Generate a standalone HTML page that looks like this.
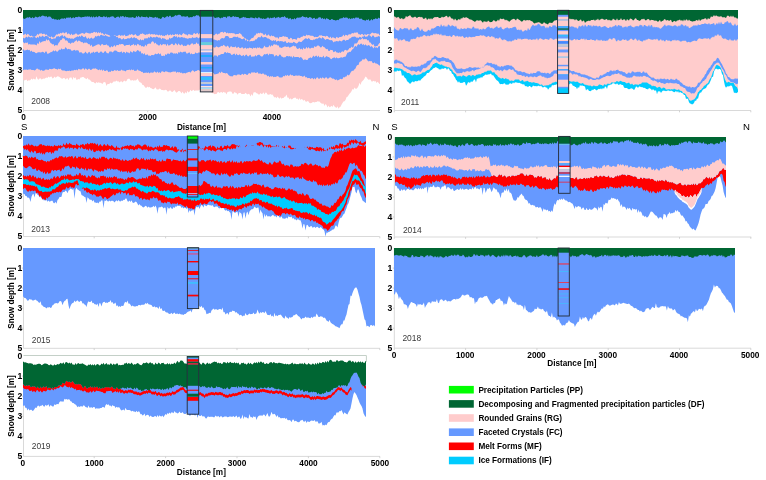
<!DOCTYPE html>
<html><head><meta charset="utf-8"><style>
html,body{margin:0;padding:0;background:#fff;width:766px;height:480px;overflow:hidden}
svg{display:block;will-change:transform}
</style></head><body>
<svg width="766" height="480" viewBox="0 0 766 480">
<rect width="766" height="480" fill="#fff"/>
<line x1="23.5" y1="10.0" x2="23.5" y2="110.5" stroke="#d9d9d9" stroke-width="1"/>
<line x1="21.9" y1="30.1" x2="23.5" y2="30.1" stroke="#c8c8c8" stroke-width="0.8"/>
<line x1="21.9" y1="50.2" x2="23.5" y2="50.2" stroke="#c8c8c8" stroke-width="0.8"/>
<line x1="21.9" y1="70.3" x2="23.5" y2="70.3" stroke="#c8c8c8" stroke-width="0.8"/>
<line x1="21.9" y1="90.4" x2="23.5" y2="90.4" stroke="#c8c8c8" stroke-width="0.8"/>
<line x1="394.3" y1="10.0" x2="394.3" y2="110.5" stroke="#d9d9d9" stroke-width="1"/>
<line x1="392.7" y1="30.1" x2="394.3" y2="30.1" stroke="#c8c8c8" stroke-width="0.8"/>
<line x1="392.7" y1="50.2" x2="394.3" y2="50.2" stroke="#c8c8c8" stroke-width="0.8"/>
<line x1="392.7" y1="70.3" x2="394.3" y2="70.3" stroke="#c8c8c8" stroke-width="0.8"/>
<line x1="392.7" y1="90.4" x2="394.3" y2="90.4" stroke="#c8c8c8" stroke-width="0.8"/>
<line x1="23.5" y1="136.0" x2="23.5" y2="236.5" stroke="#d9d9d9" stroke-width="1"/>
<line x1="21.9" y1="156.1" x2="23.5" y2="156.1" stroke="#c8c8c8" stroke-width="0.8"/>
<line x1="21.9" y1="176.2" x2="23.5" y2="176.2" stroke="#c8c8c8" stroke-width="0.8"/>
<line x1="21.9" y1="196.3" x2="23.5" y2="196.3" stroke="#c8c8c8" stroke-width="0.8"/>
<line x1="21.9" y1="216.4" x2="23.5" y2="216.4" stroke="#c8c8c8" stroke-width="0.8"/>
<line x1="394.3" y1="137.0" x2="394.3" y2="237.0" stroke="#d9d9d9" stroke-width="1"/>
<line x1="392.7" y1="157.0" x2="394.3" y2="157.0" stroke="#c8c8c8" stroke-width="0.8"/>
<line x1="392.7" y1="177.0" x2="394.3" y2="177.0" stroke="#c8c8c8" stroke-width="0.8"/>
<line x1="392.7" y1="197.0" x2="394.3" y2="197.0" stroke="#c8c8c8" stroke-width="0.8"/>
<line x1="392.7" y1="217.0" x2="394.3" y2="217.0" stroke="#c8c8c8" stroke-width="0.8"/>
<line x1="23.5" y1="248.0" x2="23.5" y2="348.3" stroke="#d9d9d9" stroke-width="1"/>
<line x1="21.9" y1="268.1" x2="23.5" y2="268.1" stroke="#c8c8c8" stroke-width="0.8"/>
<line x1="21.9" y1="288.1" x2="23.5" y2="288.1" stroke="#c8c8c8" stroke-width="0.8"/>
<line x1="21.9" y1="308.2" x2="23.5" y2="308.2" stroke="#c8c8c8" stroke-width="0.8"/>
<line x1="21.9" y1="328.2" x2="23.5" y2="328.2" stroke="#c8c8c8" stroke-width="0.8"/>
<line x1="394.3" y1="248.0" x2="394.3" y2="348.3" stroke="#d9d9d9" stroke-width="1"/>
<line x1="392.7" y1="268.1" x2="394.3" y2="268.1" stroke="#c8c8c8" stroke-width="0.8"/>
<line x1="392.7" y1="288.1" x2="394.3" y2="288.1" stroke="#c8c8c8" stroke-width="0.8"/>
<line x1="392.7" y1="308.2" x2="394.3" y2="308.2" stroke="#c8c8c8" stroke-width="0.8"/>
<line x1="392.7" y1="328.2" x2="394.3" y2="328.2" stroke="#c8c8c8" stroke-width="0.8"/>
<line x1="23.5" y1="356.0" x2="23.5" y2="456.5" stroke="#d9d9d9" stroke-width="1"/>
<line x1="21.9" y1="376.1" x2="23.5" y2="376.1" stroke="#c8c8c8" stroke-width="0.8"/>
<line x1="21.9" y1="396.2" x2="23.5" y2="396.2" stroke="#c8c8c8" stroke-width="0.8"/>
<line x1="21.9" y1="416.3" x2="23.5" y2="416.3" stroke="#c8c8c8" stroke-width="0.8"/>
<line x1="21.9" y1="436.4" x2="23.5" y2="436.4" stroke="#c8c8c8" stroke-width="0.8"/>
<line x1="23.5" y1="110.5" x2="380.0" y2="110.5" stroke="#d9d9d9" stroke-width="1"/>
<line x1="23.5" y1="110.5" x2="23.5" y2="112.3" stroke="#c8c8c8" stroke-width="0.8"/>
<line x1="147.7" y1="110.5" x2="147.7" y2="112.3" stroke="#c8c8c8" stroke-width="0.8"/>
<line x1="271.9" y1="110.5" x2="271.9" y2="112.3" stroke="#c8c8c8" stroke-width="0.8"/>
<line x1="394.3" y1="110.5" x2="750.8" y2="110.5" stroke="#d9d9d9" stroke-width="1"/>
<line x1="394.3" y1="110.5" x2="394.3" y2="112.3" stroke="#c8c8c8" stroke-width="0.8"/>
<line x1="465.6" y1="110.5" x2="465.6" y2="112.3" stroke="#c8c8c8" stroke-width="0.8"/>
<line x1="536.9" y1="110.5" x2="536.9" y2="112.3" stroke="#c8c8c8" stroke-width="0.8"/>
<line x1="608.2" y1="110.5" x2="608.2" y2="112.3" stroke="#c8c8c8" stroke-width="0.8"/>
<line x1="679.5" y1="110.5" x2="679.5" y2="112.3" stroke="#c8c8c8" stroke-width="0.8"/>
<line x1="750.8" y1="110.5" x2="750.8" y2="112.3" stroke="#c8c8c8" stroke-width="0.8"/>
<line x1="23.5" y1="236.5" x2="379.6" y2="236.5" stroke="#d9d9d9" stroke-width="1"/>
<line x1="94.2" y1="236.5" x2="94.2" y2="238.3" stroke="#c8c8c8" stroke-width="0.8"/>
<line x1="165.6" y1="236.5" x2="165.6" y2="238.3" stroke="#c8c8c8" stroke-width="0.8"/>
<line x1="237.0" y1="236.5" x2="237.0" y2="238.3" stroke="#c8c8c8" stroke-width="0.8"/>
<line x1="308.4" y1="236.5" x2="308.4" y2="238.3" stroke="#c8c8c8" stroke-width="0.8"/>
<line x1="379.8" y1="236.5" x2="379.8" y2="238.3" stroke="#c8c8c8" stroke-width="0.8"/>
<line x1="394.3" y1="237.0" x2="751.3" y2="237.0" stroke="#d9d9d9" stroke-width="1"/>
<line x1="394.3" y1="237.0" x2="394.3" y2="238.8" stroke="#c8c8c8" stroke-width="0.8"/>
<line x1="465.6" y1="237.0" x2="465.6" y2="238.8" stroke="#c8c8c8" stroke-width="0.8"/>
<line x1="536.9" y1="237.0" x2="536.9" y2="238.8" stroke="#c8c8c8" stroke-width="0.8"/>
<line x1="608.2" y1="237.0" x2="608.2" y2="238.8" stroke="#c8c8c8" stroke-width="0.8"/>
<line x1="679.5" y1="237.0" x2="679.5" y2="238.8" stroke="#c8c8c8" stroke-width="0.8"/>
<line x1="750.8" y1="237.0" x2="750.8" y2="238.8" stroke="#c8c8c8" stroke-width="0.8"/>
<line x1="23.5" y1="348.3" x2="380.0" y2="348.3" stroke="#d9d9d9" stroke-width="1"/>
<line x1="94.2" y1="348.3" x2="94.2" y2="350.1" stroke="#c8c8c8" stroke-width="0.8"/>
<line x1="165.6" y1="348.3" x2="165.6" y2="350.1" stroke="#c8c8c8" stroke-width="0.8"/>
<line x1="237.0" y1="348.3" x2="237.0" y2="350.1" stroke="#c8c8c8" stroke-width="0.8"/>
<line x1="308.4" y1="348.3" x2="308.4" y2="350.1" stroke="#c8c8c8" stroke-width="0.8"/>
<line x1="379.8" y1="348.3" x2="379.8" y2="350.1" stroke="#c8c8c8" stroke-width="0.8"/>
<line x1="394.3" y1="348.2" x2="751.0" y2="348.2" stroke="#d9d9d9" stroke-width="1"/>
<line x1="394.3" y1="348.2" x2="394.3" y2="350.0" stroke="#c8c8c8" stroke-width="0.8"/>
<line x1="465.6" y1="348.2" x2="465.6" y2="350.0" stroke="#c8c8c8" stroke-width="0.8"/>
<line x1="536.9" y1="348.2" x2="536.9" y2="350.0" stroke="#c8c8c8" stroke-width="0.8"/>
<line x1="608.2" y1="348.2" x2="608.2" y2="350.0" stroke="#c8c8c8" stroke-width="0.8"/>
<line x1="679.5" y1="348.2" x2="679.5" y2="350.0" stroke="#c8c8c8" stroke-width="0.8"/>
<line x1="750.8" y1="348.2" x2="750.8" y2="350.0" stroke="#c8c8c8" stroke-width="0.8"/>
<line x1="23.5" y1="456.4" x2="380.0" y2="456.4" stroke="#d9d9d9" stroke-width="1"/>
<line x1="94.2" y1="456.4" x2="94.2" y2="458.2" stroke="#c8c8c8" stroke-width="0.8"/>
<line x1="165.6" y1="456.4" x2="165.6" y2="458.2" stroke="#c8c8c8" stroke-width="0.8"/>
<line x1="237.0" y1="456.4" x2="237.0" y2="458.2" stroke="#c8c8c8" stroke-width="0.8"/>
<line x1="308.4" y1="456.4" x2="308.4" y2="458.2" stroke="#c8c8c8" stroke-width="0.8"/>
<line x1="379.8" y1="456.4" x2="379.8" y2="458.2" stroke="#c8c8c8" stroke-width="0.8"/>
<defs><clipPath id="c08"><rect x="23" y="10" width="357" height="102"/></clipPath><clipPath id="c11"><rect x="394" y="10" width="344" height="102"/></clipPath><clipPath id="c13"><rect x="23" y="136" width="343" height="102"/></clipPath><clipPath id="c14"><rect x="395" y="137" width="331" height="102"/></clipPath><clipPath id="c15"><rect x="23" y="248" width="352" height="102"/></clipPath><clipPath id="c18"><rect x="394" y="248" width="341" height="102"/></clipPath><clipPath id="c19"><rect x="23" y="356" width="343" height="102"/></clipPath></defs>
<g clip-path="url(#c08)">
<path fill="#ffcccc" d="M22.5,80.4 23.5,79.7 24.5,80.4 25.5,79.9 26.5,79.5 27.5,81.3 28.5,80.2 29.5,80.6 30.5,79.9 31.5,78.6 32.5,79.7 33.5,78.4 34.5,79.3 35.5,79.5 36.5,76.3 37.5,78.9 38.5,79.7 39.5,78.5 40.5,78.3 41.5,79.6 42.5,79.1 43.5,78.6 44.5,78.7 45.5,78.1 46.5,77.5 47.5,78 48.5,76.5 49.5,77.6 50.5,76.8 51.5,76.6 52.5,78.5 53.5,77.9 54.5,76.6 55.5,77.8 56.5,76.9 57.5,76.3 58.5,76.6 59.5,77.1 60.5,77.8 61.5,78.6 62.5,78.8 63.5,78 64.5,78 65.5,79.6 66.5,78.4 67.5,78.1 68.5,80.3 69.5,77.7 70.5,77.4 71.5,77.6 72.5,80 73.5,76.8 74.5,78.4 75.5,77.2 76.5,80 77.5,79.4 78.5,79 79.5,79.5 80.5,77.4 81.5,77.6 82.5,77.1 83.5,77 84.5,78.1 85.5,78.5 86.5,79.3 87.5,77.8 88.5,79.5 89.5,79.5 90.5,80.6 91.5,81.8 92.5,82 93.5,82.1 94.5,82.9 95.5,83.6 96.5,81.9 97.5,83.1 98.5,82.2 99.5,82.8 100.5,82.8 101.5,83.2 102.5,84.1 103.5,82.2 104.5,82 105.5,82.6 106.5,85.9 107.5,83.9 108.5,83.9 109.5,83.8 110.5,82.6 111.5,83.4 112.5,82.8 113.5,81.6 114.5,81.4 115.5,81.4 116.5,80.6 117.5,81.6 118.5,81.3 119.5,82.5 120.5,81.4 121.5,81.2 122.5,82.6 123.5,81.2 124.5,80.4 125.5,81.4 126.5,80.9 127.5,79 128.5,78.7 129.5,78.8 130.5,80.4 131.5,80.6 132.5,79.9 133.5,80.8 134.5,80.2 135.5,80.6 136.5,80 137.5,78.6 138.5,80.6 139.5,82.1 140.5,82.6 141.5,82.9 142.5,84.9 143.5,84.9 144.5,86.4 145.5,87.7 146.5,87.8 147.5,86.4 148.5,87.5 149.5,86.7 150.5,88.1 151.5,88.2 152.5,88.9 153.5,89.2 154.5,88.4 155.5,87.3 156.5,89.3 157.5,89.6 158.5,89.5 159.5,88.4 160.5,88.9 161.5,90.1 162.5,89.9 163.5,90.2 164.5,90.2 165.5,89.7 166.5,90 167.5,91.4 168.5,91.5 169.5,90.4 170.5,90.6 171.5,91.8 172.5,91.9 173.5,91.1 174.5,90 175.5,91.8 176.5,92.8 177.5,91.9 178.5,91.1 179.5,91.1 180.5,91.8 181.5,93.6 182.5,91.6 183.5,93.3 184.5,93.7 185.5,92 186.5,93.4 187.5,90.7 188.5,92.4 189.5,91.8 190.5,89.8 191.5,91.2 192.5,90.5 193.5,89.8 194.5,91 195.5,90.5 196.5,90.4 197.5,90.6 198.5,90.6 199.5,89.9 200.5,88.6 201.5,89.6 202.5,90.2 203.5,88.9 204.5,89.4 205.5,88.7 206.5,89.9 207.5,89.4 208.5,92.2 209.5,91.3 210.5,91.5 211.5,92.5 212.5,93.3 213.5,93.2 214.5,94.3 215.5,94.1 216.5,94.1 217.5,92.2 218.5,92 219.5,93.1 220.5,92.3 221.5,92.1 222.5,92.9 223.5,91.8 224.5,92.6 225.5,92.4 226.5,94.5 227.5,92 228.5,91.8 229.5,91.5 230.5,91.6 231.5,91.7 232.5,93.8 233.5,93.7 234.5,92.1 235.5,92.7 236.5,93 237.5,94.7 238.5,93.2 239.5,93 240.5,92.8 241.5,94.1 242.5,94.1 243.5,94 244.5,94.1 245.5,92.7 246.5,93.8 247.5,94.4 248.5,93.8 249.5,94.2 250.5,96.6 251.5,94.1 252.5,95.9 253.5,92.6 254.5,92.3 255.5,92.2 256.5,93.2 257.5,93.5 258.5,94.6 259.5,94.5 260.5,93 261.5,94 262.5,93.8 263.5,92.3 264.5,94.4 265.5,92.6 266.5,92.8 267.5,94.6 268.5,94.8 269.5,94.6 270.5,94.1 271.5,94.7 272.5,94.5 273.5,96.3 274.5,97.6 275.5,97 276.5,98.2 277.5,96.4 278.5,97.8 279.5,98.8 280.5,97.2 281.5,98.7 282.5,98 283.5,98.1 284.5,96.7 285.5,96.5 286.5,94.6 287.5,97.8 288.5,97.4 289.5,99.6 290.5,98.2 291.5,99.4 292.5,98.9 293.5,98 294.5,97.7 295.5,97.4 296.5,98.9 297.5,98.5 298.5,100.1 299.5,98.1 300.5,100 301.5,99 302.5,99.6 303.5,100.7 304.5,99.8 305.5,101.5 306.5,101.7 307.5,101.1 308.5,101.4 309.5,103 310.5,103.3 311.5,103 312.5,102.2 313.5,102.1 314.5,102.5 315.5,101.9 316.5,102 317.5,101.2 318.5,101.5 319.5,101.6 320.5,102.7 321.5,103.4 322.5,103.8 323.5,103.4 324.5,105.9 325.5,104.1 326.5,104.9 327.5,107.5 328.5,105.6 329.5,107.3 330.5,106.7 331.5,105.8 332.5,106.9 333.5,104.8 334.5,106.4 335.5,107.3 336.5,107.9 337.5,106.3 338.5,108.8 339.5,107.2 340.5,106.7 341.5,104.8 342.5,102.9 343.5,101.6 344.5,101.3 345.5,100.1 346.5,97.3 347.5,96.7 348.5,95.2 349.5,93.8 350.5,92.7 351.5,91.3 352.5,89.1 353.5,89.7 354.5,87.6 355.5,88.7 356.5,88.7 357.5,87.7 358.5,86 359.5,82.8 360.5,84.9 361.5,81.9 362.5,81.1 363.5,79.9 364.5,78.5 365.5,76.6 366.5,77.2 367.5,78.7 368.5,79.7 369.5,79.6 370.5,79.4 371.5,81.6 372.5,81.6 373.5,80.8 374.5,81.6 375.5,81 376.5,83.1 377.5,81.7 378.5,82.7 379.5,84 380.5,84 380.5,12 22.5,12Z"/>
<path fill="#6699ff" d="M22.5,70.4 23.5,70 24.5,69.6 25.5,69.8 26.5,69.6 27.5,69.9 28.5,69.5 29.5,69.6 30.5,69.2 31.5,70.1 32.5,69.9 33.5,69.9 34.5,70.5 35.5,70 36.5,68.7 37.5,68.6 38.5,69.4 39.5,69.6 40.5,70.7 41.5,69.8 42.5,70.7 43.5,70.7 44.5,70.4 45.5,69.6 46.5,69.4 47.5,69.8 48.5,70 49.5,68.7 50.5,69 51.5,69.3 52.5,68.9 53.5,68.4 54.5,68.3 55.5,68.9 56.5,69 57.5,69.8 58.5,68.5 59.5,69.3 60.5,68.6 61.5,69.9 62.5,70.5 63.5,70.6 64.5,70.4 65.5,71.1 66.5,71.2 67.5,70.7 68.5,71 69.5,70.4 70.5,71.2 71.5,70.6 72.5,70.5 73.5,70.6 74.5,69.7 75.5,70.2 76.5,69.5 77.5,70.5 78.5,68.8 79.5,69.3 80.5,69.4 81.5,69.6 82.5,68.6 83.5,68.2 84.5,69.9 85.5,68.3 86.5,69 87.5,69.9 88.5,68.7 89.5,68.8 90.5,69.9 91.5,69.7 92.5,68.7 93.5,68.6 94.5,68.8 95.5,68.3 96.5,68.9 97.5,69.5 98.5,70.2 99.5,69.3 100.5,70.6 101.5,69.2 102.5,70.9 103.5,69.4 104.5,71 105.5,70.9 106.5,70.2 107.5,70.5 108.5,72.3 109.5,71.4 110.5,71.9 111.5,70.6 112.5,71.2 113.5,71 114.5,70 115.5,70.5 116.5,70.7 117.5,69.9 118.5,71 119.5,70.7 120.5,70.8 121.5,69.5 122.5,70.5 123.5,70.6 124.5,70.8 125.5,71.5 126.5,70.3 127.5,70 128.5,70 129.5,69.4 130.5,70.4 131.5,69.2 132.5,70.2 133.5,69.5 134.5,70.9 135.5,70.7 136.5,70.8 137.5,69.2 138.5,70.5 139.5,70.7 140.5,70.9 141.5,71.9 142.5,71.8 143.5,73.3 144.5,72.7 145.5,72.7 146.5,72.4 147.5,73.1 148.5,72.2 149.5,73.5 150.5,72.6 151.5,72.4 152.5,72.7 153.5,72.4 154.5,71.3 155.5,72.3 156.5,72.8 157.5,71.6 158.5,73 159.5,72 160.5,73.3 161.5,71.6 162.5,71.3 163.5,71.7 164.5,72.3 165.5,71.3 166.5,71.5 167.5,71.7 168.5,72.3 169.5,72.3 170.5,72.5 171.5,72 172.5,71.7 173.5,71.6 174.5,71.7 175.5,71.3 176.5,72.9 177.5,71.7 178.5,72.6 179.5,72.1 180.5,73 181.5,72.5 182.5,73.4 183.5,73.3 184.5,73 185.5,73.5 186.5,72.7 187.5,72.4 188.5,72 189.5,71.8 190.5,72.7 191.5,71.3 192.5,70.3 193.5,70.8 194.5,72 195.5,70.9 196.5,71.1 197.5,70.2 198.5,70 199.5,70.9 200.5,69.3 201.5,70.4 202.5,71 203.5,70.1 204.5,69.7 205.5,70.7 206.5,69.9 207.5,70.4 208.5,71.9 209.5,71.9 210.5,73.2 211.5,72.5 212.5,73.1 213.5,73 214.5,74.4 215.5,74.3 216.5,73.9 217.5,73.7 218.5,73.6 219.5,71.7 220.5,73.2 221.5,71.4 222.5,72.5 223.5,73 224.5,73.1 225.5,73.4 226.5,73 227.5,73.6 228.5,75 229.5,75.8 230.5,76.3 231.5,76.3 232.5,76.5 233.5,75.3 234.5,74.9 235.5,75.3 236.5,75.4 237.5,74.6 238.5,74.4 239.5,74.4 240.5,75.3 241.5,74.5 242.5,73.7 243.5,75 244.5,73.8 245.5,74 246.5,74.7 247.5,74.9 248.5,73.4 249.5,73.1 250.5,74 251.5,72.3 252.5,72.6 253.5,72.4 254.5,72.3 255.5,73 256.5,72.8 257.5,72 258.5,73.7 259.5,73.4 260.5,73.5 261.5,74.3 262.5,73.5 263.5,73.4 264.5,74.7 265.5,74.4 266.5,75.1 267.5,76.6 268.5,75.4 269.5,77.3 270.5,76.1 271.5,76.7 272.5,76 273.5,77.3 274.5,76.8 275.5,77 276.5,76.5 277.5,76.1 278.5,76.6 279.5,77.4 280.5,77.4 281.5,77.5 282.5,77.3 283.5,75.8 284.5,76.4 285.5,74.9 286.5,76.1 287.5,74.7 288.5,75.9 289.5,75.5 290.5,74.2 291.5,75.5 292.5,74.9 293.5,76 294.5,76.1 295.5,75.4 296.5,75.4 297.5,75.7 298.5,75.6 299.5,75.6 300.5,76 301.5,76 302.5,76.7 303.5,76.4 304.5,75.5 305.5,77.4 306.5,77 307.5,78.2 308.5,77.9 309.5,77.9 310.5,78.9 311.5,78.2 312.5,77.9 313.5,79.4 314.5,78 315.5,79.5 316.5,77.7 317.5,77.3 318.5,78.8 319.5,78.8 320.5,77.6 321.5,78.7 322.5,77.3 323.5,78 324.5,78.8 325.5,77.4 326.5,77.2 327.5,78.7 328.5,78.6 329.5,77.6 330.5,77.3 331.5,77.9 332.5,78.7 333.5,78.4 334.5,79.3 335.5,80.1 336.5,79.3 337.5,80.4 338.5,80.1 339.5,79.6 340.5,78.7 341.5,79.2 342.5,79 343.5,77 344.5,77.4 345.5,76.4 346.5,76.5 347.5,74.6 348.5,75.4 349.5,74.7 350.5,72.7 351.5,71.3 352.5,70.7 353.5,70.7 354.5,69.3 355.5,68.6 356.5,65.9 357.5,65.1 358.5,64.9 359.5,62.1 360.5,61.4 361.5,61 362.5,59.2 363.5,59.6 364.5,59.6 365.5,58.2 366.5,59.1 367.5,60.5 368.5,61.5 369.5,61 370.5,61.2 371.5,61.1 372.5,62.7 373.5,63.2 374.5,62.2 375.5,63.4 376.5,63.4 377.5,64.1 378.5,64.7 379.5,65.7 380.5,64.7 380.5,12 22.5,12Z"/>
<path fill="#ffcccc" d="M22.5,51.1 23.5,49.1 24.5,50.7 25.5,50.2 26.5,50.1 27.5,49.5 28.5,50.2 29.5,49.8 30.5,51.7 31.5,50.5 32.5,52.1 33.5,51.8 34.5,52.1 35.5,52.9 36.5,53.2 37.5,52.5 38.5,52.3 39.5,52.3 40.5,52.6 41.5,52.2 42.5,51.7 43.5,52.1 44.5,53.2 45.5,51.5 46.5,51.4 47.5,54 48.5,53.4 49.5,53.1 50.5,52.2 51.5,51.9 52.5,51.6 53.5,50.2 54.5,51.6 55.5,50.2 56.5,51.6 57.5,51.7 58.5,50.4 59.5,49.4 60.5,50.1 61.5,48.3 62.5,49.5 63.5,49.1 64.5,49.2 65.5,47 66.5,48.2 67.5,49.5 68.5,48.8 69.5,49.2 70.5,49.2 71.5,50.8 72.5,50.7 73.5,50.3 74.5,49.7 75.5,50.8 76.5,50.3 77.5,50.2 78.5,50.4 79.5,52.8 80.5,52.2 81.5,52.3 82.5,53.5 83.5,53.6 84.5,53.1 85.5,51.4 86.5,53.1 87.5,53.8 88.5,52.2 89.5,51.8 90.5,53.9 91.5,52.4 92.5,52.8 93.5,51.5 94.5,53.1 95.5,51.9 96.5,51.8 97.5,51.5 98.5,53 99.5,52.8 100.5,51.5 101.5,51.6 102.5,52.7 103.5,53.1 104.5,51.4 105.5,51.1 106.5,52.7 107.5,53.3 108.5,53.5 109.5,51.6 110.5,51.5 111.5,51.5 112.5,52.4 113.5,51.5 114.5,50.6 115.5,50.6 116.5,50.7 117.5,51.8 118.5,52.1 119.5,52.2 120.5,51.9 121.5,51.2 122.5,53.3 123.5,51.7 124.5,52.1 125.5,53.4 126.5,51.6 127.5,52.6 128.5,52.5 129.5,53.5 130.5,51 131.5,52 132.5,52.8 133.5,50.8 134.5,51.5 135.5,52 136.5,51.3 137.5,50 138.5,50.5 139.5,51.8 140.5,50.9 141.5,53.7 142.5,53 143.5,54.6 144.5,53 145.5,55.2 146.5,54.7 147.5,54.2 148.5,55.7 149.5,55.5 150.5,55.9 151.5,55 152.5,54.9 153.5,55.3 154.5,54.5 155.5,53.4 156.5,54.2 157.5,54 158.5,53 159.5,54.4 160.5,53.3 161.5,56.1 162.5,56 163.5,55.6 164.5,56.3 165.5,54 166.5,55.1 167.5,53.5 168.5,53.6 169.5,54.3 170.5,52.4 171.5,52.6 172.5,52.8 173.5,53.7 174.5,53.2 175.5,53.7 176.5,52.9 177.5,54.3 178.5,51.9 179.5,52.7 180.5,51.4 181.5,52.3 182.5,52.6 183.5,51.7 184.5,51.8 185.5,51.5 186.5,53.5 187.5,53.4 188.5,52.8 189.5,52.2 190.5,54.4 191.5,53.3 192.5,54.2 193.5,53.9 194.5,53.9 195.5,52.3 196.5,53.2 197.5,53.3 198.5,52.4 199.5,52.6 200.5,52.5 201.5,51.9 202.5,53 203.5,51.7 204.5,53.4 205.5,53 206.5,53.5 207.5,54.1 208.5,53.5 209.5,53.6 210.5,54.9 211.5,55.6 212.5,56.1 213.5,57 214.5,55.2 215.5,55.5 216.5,55.4 217.5,56.9 218.5,54.9 219.5,55.2 220.5,54.6 221.5,53.9 222.5,53.9 223.5,54.1 224.5,52.3 225.5,51.9 226.5,53.3 227.5,52.2 228.5,52.9 229.5,52.9 230.5,53.4 231.5,54.9 232.5,54.8 233.5,54 234.5,53.5 235.5,55.6 236.5,53.5 237.5,54.9 238.5,55.3 239.5,54.2 240.5,55 241.5,56.1 242.5,55.8 243.5,54.8 244.5,56.6 245.5,55.1 246.5,54.6 247.5,55.9 248.5,56.5 249.5,55.2 250.5,54.7 251.5,56.9 252.5,56.6 253.5,56.4 254.5,56.5 255.5,55.1 256.5,56.4 257.5,55 258.5,54.7 259.5,54.8 260.5,56.1 261.5,56.6 262.5,56.5 263.5,55.1 264.5,54 265.5,54.6 266.5,54 267.5,53.5 268.5,55.4 269.5,53.5 270.5,54.3 271.5,54.1 272.5,54.2 273.5,54.3 274.5,56.7 275.5,55.4 276.5,54.9 277.5,56.3 278.5,56.3 279.5,54.4 280.5,54.7 281.5,56.6 282.5,56.7 283.5,57.4 284.5,57.3 285.5,57.2 286.5,56.1 287.5,56 288.5,56.5 289.5,56 290.5,56.7 291.5,56.3 292.5,58 293.5,55.8 294.5,57.2 295.5,57.1 296.5,56.9 297.5,57.1 298.5,56.9 299.5,57.9 300.5,57.1 301.5,57.4 302.5,58.8 303.5,60.3 304.5,59.5 305.5,59.4 306.5,59.9 307.5,59.9 308.5,58.3 309.5,57.9 310.5,57.2 311.5,58.2 312.5,56.9 313.5,55.4 314.5,57 315.5,56.1 316.5,55.6 317.5,57.3 318.5,55.6 319.5,57.5 320.5,56.7 321.5,57.3 322.5,57.2 323.5,55.4 324.5,58 325.5,56.9 326.5,56.1 327.5,56.7 328.5,56.9 329.5,57.4 330.5,58.7 331.5,59.2 332.5,57.9 333.5,57.7 334.5,57.3 335.5,58.4 336.5,57.2 337.5,58.3 338.5,58.2 339.5,58 340.5,57.6 341.5,57.3 342.5,57.7 343.5,57.1 344.5,56.8 345.5,56.8 346.5,54.8 347.5,52.6 348.5,52.5 349.5,51.7 350.5,51.9 351.5,50.4 352.5,49.3 353.5,48.5 354.5,46.7 355.5,45.8 356.5,46.9 357.5,45.1 358.5,44 359.5,44.9 360.5,43.8 361.5,43.6 362.5,44.9 363.5,44 364.5,45.4 365.5,44.3 366.5,45.4 367.5,45.8 368.5,45.1 369.5,45.5 370.5,47 371.5,46.1 372.5,47 373.5,48.5 374.5,46.8 375.5,47.7 376.5,47.3 377.5,48.3 378.5,46.3 379.5,46.2 380.5,46 380.5,12 22.5,12Z"/>
<path fill="#6699ff" d="M22.5,44 23.5,42.1 24.5,43.6 25.5,42.4 26.5,43 27.5,42.2 28.5,44.7 29.5,44.1 30.5,44.6 31.5,44.4 32.5,44.5 33.5,44.5 34.5,44.5 35.5,44.7 36.5,45.4 37.5,42.9 38.5,44.2 39.5,41.1 40.5,42.9 41.5,41.9 42.5,41.5 43.5,41.2 44.5,40.9 45.5,41.2 46.5,39.1 47.5,40.7 48.5,39.4 49.5,40.9 50.5,42.9 51.5,43.6 52.5,44.4 53.5,44.1 54.5,46.3 55.5,45 56.5,45.2 57.5,45.4 58.5,42.9 59.5,42.1 60.5,40.1 61.5,40 62.5,38.3 63.5,38.3 64.5,38.8 65.5,40.8 66.5,40.3 67.5,41.1 68.5,43 69.5,42.8 70.5,43.9 71.5,42.8 72.5,42.4 73.5,43 74.5,41.8 75.5,40.9 76.5,40 77.5,41.9 78.5,40.6 79.5,40.8 80.5,41.6 81.5,42.2 82.5,42 83.5,43.4 84.5,42.6 85.5,42.7 86.5,42.4 87.5,43.3 88.5,44.2 89.5,44.1 90.5,46.2 91.5,44.6 92.5,47.1 93.5,46.4 94.5,45.9 95.5,45.5 96.5,44.9 97.5,44.6 98.5,44.2 99.5,44.6 100.5,46.1 101.5,44.2 102.5,44.1 103.5,45.3 104.5,44.9 105.5,45 106.5,44.3 107.5,45.4 108.5,45.5 109.5,47.3 110.5,47.4 111.5,46 112.5,47.3 113.5,46.3 114.5,45 115.5,46.9 116.5,45.1 117.5,45 118.5,45.3 119.5,43.9 120.5,44.5 121.5,43.9 122.5,44.1 123.5,44.5 124.5,46.1 125.5,45.6 126.5,45 127.5,44.9 128.5,45.1 129.5,44.4 130.5,46.3 131.5,44.9 132.5,45 133.5,43.8 134.5,45.7 135.5,44.6 136.5,45.9 137.5,43.7 138.5,44.3 139.5,45.4 140.5,45.1 141.5,46.4 142.5,46 143.5,46.8 144.5,46.5 145.5,44.4 146.5,46.5 147.5,43.9 148.5,43.8 149.5,43.6 150.5,44 151.5,42.1 152.5,41.3 153.5,41.7 154.5,43.8 155.5,42.6 156.5,44.2 157.5,44.5 158.5,45.4 159.5,45.6 160.5,43.8 161.5,45.5 162.5,44.5 163.5,44.1 164.5,44.5 165.5,44.1 166.5,46.2 167.5,43.6 168.5,45.7 169.5,45.3 170.5,44.8 171.5,43.8 172.5,43.8 173.5,45.3 174.5,44.9 175.5,43 176.5,43.9 177.5,45.4 178.5,43.2 179.5,44.7 180.5,45.4 181.5,44.3 182.5,44.8 183.5,46.2 184.5,45.5 185.5,46.1 186.5,45.8 187.5,44.6 188.5,44.4 189.5,45.5 190.5,44.6 191.5,43.6 192.5,43.2 193.5,44.7 194.5,44.1 195.5,44.3 196.5,42.2 197.5,44.1 198.5,43.5 199.5,46.1 200.5,46 201.5,45 202.5,47.8 203.5,46.7 204.5,49 205.5,47.9 206.5,49.4 207.5,48.8 208.5,48.8 209.5,48.3 210.5,49.9 211.5,49.4 212.5,49.5 213.5,46.8 214.5,47.8 215.5,47.2 216.5,46.3 217.5,46.9 218.5,47.6 219.5,46.9 220.5,46.6 221.5,45.8 222.5,46.3 223.5,44.8 224.5,45.5 225.5,46.5 226.5,46.7 227.5,45.6 228.5,46.4 229.5,48.2 230.5,46.4 231.5,46.3 232.5,47.2 233.5,46.9 234.5,47.3 235.5,46.2 236.5,48 237.5,47.5 238.5,46.8 239.5,48.1 240.5,48.3 241.5,47.5 242.5,47.2 243.5,48.8 244.5,48.2 245.5,47.5 246.5,48.9 247.5,48.1 248.5,48.5 249.5,47.6 250.5,48 251.5,48.1 252.5,49.1 253.5,47.5 254.5,48.2 255.5,47.5 256.5,48.8 257.5,47.2 258.5,48 259.5,47.2 260.5,48.2 261.5,48.4 262.5,48.5 263.5,47.5 264.5,45.6 265.5,47.3 266.5,47.2 267.5,47.2 268.5,46.9 269.5,45.1 270.5,47 271.5,45 272.5,46.2 273.5,44.4 274.5,44.2 275.5,44.8 276.5,44.6 277.5,45.4 278.5,45.3 279.5,47.5 280.5,47.6 281.5,48.1 282.5,47.6 283.5,46.9 284.5,46.4 285.5,46.5 286.5,46.9 287.5,46.7 288.5,46.5 289.5,47.7 290.5,47.2 291.5,46.7 292.5,46.2 293.5,45.6 294.5,46.6 295.5,46.1 296.5,48.1 297.5,49.1 298.5,48.7 299.5,47.7 300.5,49.6 301.5,48.6 302.5,50 303.5,47.5 304.5,48.9 305.5,48.8 306.5,46.8 307.5,48.7 308.5,47.1 309.5,48.5 310.5,48.6 311.5,47.7 312.5,47.7 313.5,48.3 314.5,46.1 315.5,46.9 316.5,46.5 317.5,45.5 318.5,45.6 319.5,46.2 320.5,47.4 321.5,47.2 322.5,45.8 323.5,47.1 324.5,47.3 325.5,48.6 326.5,49.2 327.5,48.7 328.5,50.9 329.5,50.9 330.5,49.8 331.5,49.9 332.5,50.1 333.5,52.3 334.5,51.7 335.5,50.9 336.5,52.4 337.5,52.5 338.5,53.1 339.5,52.3 340.5,53.1 341.5,51.7 342.5,51.2 343.5,51.9 344.5,50.2 345.5,49.8 346.5,50.6 347.5,50.5 348.5,49.6 349.5,47.9 350.5,48.2 351.5,46.4 352.5,47.8 353.5,47.2 354.5,43.6 355.5,43.5 356.5,43.5 357.5,42.4 358.5,40.3 359.5,39.3 360.5,39.7 361.5,39.1 362.5,38.1 363.5,39.4 364.5,39.1 365.5,39.2 366.5,38.9 367.5,40.4 368.5,40 369.5,42.6 370.5,42.6 371.5,44 372.5,44.9 373.5,44.1 374.5,46.5 375.5,46.6 376.5,45.9 377.5,46.1 378.5,44.3 379.5,42.9 380.5,42.6 380.5,12 22.5,12Z"/>
<path fill="#ffcccc" d="M22.5,37.1 23.5,38 24.5,38.4 25.5,37.5 26.5,36.4 27.5,37.8 28.5,36.2 29.5,37 30.5,37.5 31.5,36.9 32.5,37.6 33.5,36.9 34.5,36.5 35.5,37.4 36.5,38.2 37.5,36.8 38.5,38 39.5,35.8 40.5,36.7 41.5,36.7 42.5,35.4 43.5,36.5 44.5,37 45.5,35.8 46.5,35.9 47.5,36.3 48.5,37.1 49.5,38.4 50.5,37.6 51.5,39.2 52.5,38.9 53.5,38.4 54.5,38.4 55.5,38.6 56.5,36.3 57.5,36.6 58.5,35.9 59.5,36.9 60.5,35.9 61.5,35.5 62.5,35.1 63.5,37 64.5,35.6 65.5,36.8 66.5,37.8 67.5,37.7 68.5,38.4 69.5,38.1 70.5,38.7 71.5,38.5 72.5,38.4 73.5,39.1 74.5,38 75.5,37.4 76.5,36.9 77.5,36.3 78.5,37.1 79.5,35.7 80.5,36.9 81.5,35.2 82.5,36.1 83.5,37 84.5,37.2 85.5,36.1 86.5,38.1 87.5,38.9 88.5,37.5 89.5,38.9 90.5,38.3 91.5,37.4 92.5,38.8 93.5,38.4 94.5,37.8 95.5,35.7 96.5,36.8 97.5,36.1 98.5,35.5 99.5,36.6 100.5,34.9 101.5,34.7 102.5,35.6 103.5,35.6 104.5,36 105.5,35.1 106.5,36 107.5,36.2 108.5,36.7 109.5,36.8 110.5,36.2 111.5,35 112.5,35.3 113.5,35.1 114.5,35.7 115.5,35.6 116.5,37.3 117.5,36.6 118.5,38.4 119.5,37.9 120.5,38.2 121.5,39.6 122.5,39.2 123.5,37.9 124.5,39.5 125.5,38.9 126.5,39.1 127.5,38.3 128.5,38.2 129.5,38.5 130.5,38.1 131.5,37 132.5,38.4 133.5,37.4 134.5,37.3 135.5,38.2 136.5,37.9 137.5,39.3 138.5,39.7 139.5,40.5 140.5,38.9 141.5,40.4 142.5,39.4 143.5,40.4 144.5,38.2 145.5,38.5 146.5,38.2 147.5,38.5 148.5,37 149.5,38 150.5,36.3 151.5,37.1 152.5,37.7 153.5,37 154.5,37.2 155.5,37.4 156.5,36.6 157.5,37.1 158.5,37.7 159.5,37.5 160.5,37.7 161.5,39.5 162.5,37.7 163.5,38.5 164.5,38.4 165.5,39.1 166.5,40.1 167.5,39.4 168.5,39.7 169.5,37.4 170.5,38.8 171.5,38 172.5,37.8 173.5,36.6 174.5,35.7 175.5,37.1 176.5,35.9 177.5,38 178.5,36.5 179.5,37.5 180.5,37.6 181.5,37.1 182.5,37.2 183.5,37.8 184.5,37.6 185.5,38.2 186.5,38.3 187.5,38.8 188.5,38.5 189.5,38.1 190.5,38.2 191.5,38.2 192.5,37 193.5,37.9 194.5,37.7 195.5,37.7 196.5,37.1 197.5,37.4 198.5,38.5 199.5,37.3 200.5,38.1 201.5,38.4 202.5,37.9 203.5,39.1 204.5,40 205.5,39.9 206.5,38.1 207.5,39.1 208.5,38.7 209.5,40.1 210.5,39.4 211.5,39.9 212.5,38.3 213.5,39.8 214.5,39.4 215.5,40 216.5,40.3 217.5,40.8 218.5,40 219.5,40.6 220.5,39.1 221.5,38.2 222.5,38.1 223.5,38.4 224.5,38.1 225.5,36 226.5,36.1 227.5,36.1 228.5,36.5 229.5,38.3 230.5,38 231.5,38 232.5,37.8 233.5,36.7 234.5,36.8 235.5,36.7 236.5,37.2 237.5,36.5 238.5,37.7 239.5,37.7 240.5,38.2 241.5,39.1 242.5,39.3 243.5,38.5 244.5,38.2 245.5,40.7 246.5,39.4 247.5,41.6 248.5,40.3 249.5,41.4 250.5,41.2 251.5,41 252.5,41.3 253.5,40.8 254.5,40.7 255.5,39.3 256.5,39.4 257.5,37.9 258.5,37.1 259.5,37.3 260.5,37.4 261.5,35.6 262.5,37.3 263.5,37.4 264.5,37 265.5,37.1 266.5,37.4 267.5,38.4 268.5,38.6 269.5,38.9 270.5,40.1 271.5,40.4 272.5,41 273.5,40 274.5,40.9 275.5,39.7 276.5,41.9 277.5,41 278.5,40.8 279.5,41.6 280.5,41 281.5,41.3 282.5,41.2 283.5,41.9 284.5,41.5 285.5,40.9 286.5,43 287.5,43.1 288.5,42.1 289.5,42.7 290.5,42.7 291.5,42.7 292.5,43 293.5,41.8 294.5,42.3 295.5,43.1 296.5,43.4 297.5,43 298.5,41.7 299.5,41.5 300.5,42.1 301.5,42 302.5,40.8 303.5,40 304.5,38.9 305.5,38.3 306.5,38.5 307.5,39.3 308.5,38.1 309.5,38.8 310.5,40.1 311.5,40 312.5,40.2 313.5,39.5 314.5,39.8 315.5,39 316.5,38.4 317.5,38.8 318.5,38 319.5,37.3 320.5,37.9 321.5,38.8 322.5,37 323.5,38.1 324.5,38.9 325.5,40 326.5,39.1 327.5,38.9 328.5,39.2 329.5,40.1 330.5,40.2 331.5,39.9 332.5,40.7 333.5,42.5 334.5,41.4 335.5,41.4 336.5,41 337.5,41.2 338.5,41.4 339.5,40.4 340.5,41.1 341.5,41.5 342.5,40.4 343.5,39.7 344.5,39.8 345.5,41 346.5,39.9 347.5,40 348.5,39.7 349.5,38.5 350.5,38.2 351.5,37.2 352.5,36.7 353.5,36.7 354.5,36.4 355.5,36.8 356.5,37.8 357.5,37.6 358.5,38 359.5,36.7 360.5,36.9 361.5,38.1 362.5,36.6 363.5,36.7 364.5,35.2 365.5,36.9 366.5,36.5 367.5,36.5 368.5,35.1 369.5,35.3 370.5,36 371.5,37.2 372.5,35.5 373.5,35.6 374.5,37.2 375.5,37.3 376.5,36.7 377.5,36.7 378.5,36.1 379.5,36.4 380.5,36.4 380.5,12 22.5,12Z"/>
<path fill="#6699ff" d="M22.5,33.3 23.5,35 24.5,34.4 25.5,33.6 26.5,35.4 27.5,33.8 28.5,34.2 29.5,35.6 30.5,36.3 31.5,35.5 32.5,36.5 33.5,36.8 34.5,36.7 35.5,36.3 36.5,35.5 37.5,33.7 38.5,34.9 39.5,33.5 40.5,33.5 41.5,33.3 42.5,34.2 43.5,33.7 44.5,33.7 45.5,35.1 46.5,34.3 47.5,35.7 48.5,36.6 49.5,36.7 50.5,37.6 51.5,36.2 52.5,37.6 53.5,37.6 54.5,37 55.5,35.4 56.5,34.3 57.5,34.8 58.5,33.5 59.5,34 60.5,32.7 61.5,33.4 62.5,32.5 63.5,32.6 64.5,33.5 65.5,32.6 66.5,32.1 67.5,34.5 68.5,33.2 69.5,33.9 70.5,35.2 71.5,33.6 72.5,35.2 73.5,34.4 74.5,34.6 75.5,33.6 76.5,33.4 77.5,34.8 78.5,34.7 79.5,34.2 80.5,33.7 81.5,33.3 82.5,33.1 83.5,33.4 84.5,34.1 85.5,32.8 86.5,32.5 87.5,32.9 88.5,33.3 89.5,33.6 90.5,33.6 91.5,32.7 92.5,32.9 93.5,32.2 94.5,31.8 95.5,32.8 96.5,31.8 97.5,33.4 98.5,31.9 99.5,33.2 100.5,32 101.5,33.7 102.5,33 103.5,34.3 104.5,35 105.5,33.6 106.5,34.6 107.5,34.4 108.5,34.9 109.5,35.3 110.5,36.8 111.5,35.5 112.5,36.2 113.5,35.3 114.5,35.3 115.5,35.6 116.5,36 117.5,35.9 118.5,35.3 119.5,34.7 120.5,36 121.5,35.3 122.5,35.4 123.5,35.7 124.5,34.6 125.5,36.3 126.5,35.9 127.5,35.8 128.5,35.6 129.5,34.2 130.5,35 131.5,34 132.5,34.6 133.5,35.4 134.5,34.7 135.5,33.9 136.5,35.5 137.5,36.1 138.5,35.7 139.5,35.3 140.5,33.8 141.5,34 142.5,33.3 143.5,34 144.5,34.6 145.5,35.1 146.5,34.3 147.5,34.4 148.5,34 149.5,33.5 150.5,34.8 151.5,34.1 152.5,34.3 153.5,34.5 154.5,33.9 155.5,35 156.5,34.4 157.5,34.7 158.5,35.5 159.5,34.6 160.5,35.7 161.5,34.8 162.5,35.9 163.5,35.6 164.5,36.3 165.5,35.1 166.5,35.5 167.5,34 168.5,35.4 169.5,35 170.5,34.3 171.5,35.6 172.5,34.2 173.5,34.9 174.5,35.1 175.5,33.8 176.5,34.8 177.5,33.8 178.5,35.5 179.5,33.9 180.5,34.7 181.5,35.4 182.5,34.1 183.5,33.1 184.5,33.9 185.5,34.4 186.5,34.6 187.5,35.8 188.5,34.1 189.5,34.2 190.5,34.8 191.5,34.8 192.5,35.3 193.5,33.6 194.5,33 195.5,34.3 196.5,33.6 197.5,32.7 198.5,34.8 199.5,33 200.5,34.2 201.5,34.2 202.5,35.7 203.5,34.8 204.5,34.4 205.5,35.9 206.5,35.2 207.5,34.4 208.5,34.3 209.5,35.3 210.5,34 211.5,34.5 212.5,35.2 213.5,35.3 214.5,35.2 215.5,34 216.5,33.6 217.5,34.7 218.5,33.7 219.5,33.7 220.5,32.3 221.5,31.9 222.5,31.8 223.5,32.9 224.5,31.8 225.5,31.9 226.5,33.4 227.5,32.5 228.5,33.5 229.5,32.9 230.5,33.2 231.5,32.9 232.5,33.3 233.5,33.2 234.5,33.6 235.5,34.4 236.5,33.9 237.5,33.9 238.5,34.1 239.5,33 240.5,33.8 241.5,34.6 242.5,36.5 243.5,36.8 244.5,38.1 245.5,38.3 246.5,39.7 247.5,39.4 248.5,40.6 249.5,40.7 250.5,39.5 251.5,38.3 252.5,38 253.5,37.6 254.5,35.6 255.5,35.3 256.5,33.2 257.5,33.8 258.5,32.8 259.5,33.6 260.5,32.5 261.5,33.2 262.5,33.2 263.5,34.7 264.5,34.9 265.5,33.6 266.5,35.7 267.5,35.6 268.5,34.3 269.5,35.8 270.5,36.4 271.5,35.3 272.5,36.3 273.5,35.8 274.5,36.8 275.5,37.4 276.5,37.6 277.5,37.2 278.5,38.9 279.5,36.7 280.5,36.9 281.5,37 282.5,36.6 283.5,36.1 284.5,36.8 285.5,36.5 286.5,37 287.5,36.9 288.5,39 289.5,39.2 290.5,37.8 291.5,38.1 292.5,39.7 293.5,38.9 294.5,39.1 295.5,39.2 296.5,40 297.5,37.8 298.5,37.8 299.5,38.3 300.5,37.5 301.5,36.7 302.5,36.7 303.5,35.4 304.5,35.9 305.5,36.3 306.5,34.6 307.5,35.6 308.5,35 309.5,35.2 310.5,35.8 311.5,35.8 312.5,35.8 313.5,36.3 314.5,37.3 315.5,36.8 316.5,37 317.5,37 318.5,36.6 319.5,35.3 320.5,35.6 321.5,35.2 322.5,36.1 323.5,35.9 324.5,36 325.5,36.7 326.5,35.7 327.5,36.1 328.5,37.3 329.5,38 330.5,36.4 331.5,38.5 332.5,37.2 333.5,37.4 334.5,38.1 335.5,38.7 336.5,36.8 337.5,37.6 338.5,38.1 339.5,37.1 340.5,36.9 341.5,36.8 342.5,36.2 343.5,34.6 344.5,36.4 345.5,34.8 346.5,35.1 347.5,35.8 348.5,34.5 349.5,34.3 350.5,34.4 351.5,33.5 352.5,33.1 353.5,33.4 354.5,32.5 355.5,32.8 356.5,32.4 357.5,32.3 358.5,34.3 359.5,34.3 360.5,34.9 361.5,34 362.5,33.9 363.5,35.5 364.5,34.2 365.5,34.6 366.5,35 367.5,34 368.5,34.3 369.5,34.7 370.5,33.9 371.5,33.1 372.5,32.5 373.5,33.2 374.5,33.3 375.5,33.1 376.5,33.6 377.5,33.8 378.5,33.4 379.5,35.3 380.5,35.1 380.5,12 22.5,12Z"/>
<path fill="#006633" d="M22.5,18.3 23.5,18.4 24.5,19.1 25.5,18.6 26.5,17.7 27.5,17.3 28.5,17.7 29.5,16.7 30.5,17.7 31.5,18.3 32.5,16.9 33.5,18.3 34.5,17.7 35.5,16.4 36.5,16.9 37.5,17.6 38.5,17 39.5,16.2 40.5,16.9 41.5,15.9 42.5,15.6 43.5,15.8 44.5,16.2 45.5,16.4 46.5,16.1 47.5,17.4 48.5,16.4 49.5,16.6 50.5,16.8 51.5,18.1 52.5,18.9 53.5,18.6 54.5,19.5 55.5,19.2 56.5,19.6 57.5,19.9 58.5,19.2 59.5,19.9 60.5,19 61.5,18.4 62.5,18.6 63.5,18.8 64.5,17.9 65.5,18.9 66.5,17.5 67.5,17.7 68.5,17.5 69.5,17.7 70.5,17.1 71.5,18.4 72.5,17.7 73.5,17.2 74.5,18.2 75.5,17.1 76.5,17.1 77.5,17.2 78.5,16.6 79.5,16.7 80.5,17.3 81.5,17.4 82.5,16.9 83.5,16.9 84.5,16.7 85.5,16.5 86.5,16.8 87.5,16.2 88.5,16.7 89.5,16.2 90.5,17.5 91.5,16.2 92.5,17.7 93.5,16.3 94.5,17.4 95.5,17.1 96.5,16.3 97.5,17.4 98.5,16.3 99.5,16 100.5,17.1 101.5,17 102.5,17.2 103.5,16.3 104.5,16.5 105.5,17.3 106.5,16.2 107.5,17.8 108.5,16.9 109.5,17.4 110.5,16.8 111.5,16.5 112.5,16.2 113.5,16.5 114.5,17.8 115.5,18 116.5,16.9 117.5,16.7 118.5,16.5 119.5,17.9 120.5,16 121.5,16.7 122.5,16.1 123.5,16.3 124.5,17.4 125.5,16.3 126.5,17.2 127.5,17.1 128.5,17.6 129.5,17.5 130.5,17.5 131.5,17.5 132.5,17 133.5,17.5 134.5,18 135.5,17.8 136.5,15.8 137.5,17.4 138.5,15.8 139.5,17.1 140.5,17.5 141.5,16.2 142.5,16.7 143.5,16.9 144.5,16.9 145.5,17.3 146.5,16.4 147.5,17.2 148.5,18.1 149.5,16.4 150.5,17.1 151.5,17 152.5,17.5 153.5,17.8 154.5,17.4 155.5,16.7 156.5,17.8 157.5,17.3 158.5,18.4 159.5,18.3 160.5,18.9 161.5,18.6 162.5,16.8 163.5,17 164.5,18 165.5,17.3 166.5,16.6 167.5,16 168.5,17.3 169.5,15.7 170.5,15.8 171.5,17.4 172.5,16.8 173.5,16.8 174.5,15.9 175.5,15.1 176.5,15.7 177.5,15.3 178.5,14.7 179.5,14.7 180.5,14.9 181.5,16.4 182.5,16.6 183.5,16.3 184.5,16.6 185.5,16.8 186.5,16.6 187.5,16 188.5,17.5 189.5,17.4 190.5,17 191.5,17.2 192.5,17.1 193.5,16 194.5,16.4 195.5,16.1 196.5,15.1 197.5,15.6 198.5,15.2 199.5,16.9 200.5,15.3 201.5,16.4 202.5,15.7 203.5,15.7 204.5,15.7 205.5,17 206.5,16.2 207.5,15.8 208.5,17.2 209.5,16.4 210.5,16 211.5,16.3 212.5,17.2 213.5,16.2 214.5,17.7 215.5,18.1 216.5,17.5 217.5,17.6 218.5,17.1 219.5,17.7 220.5,18.4 221.5,17.6 222.5,18 223.5,16.8 224.5,17 225.5,16.8 226.5,18.2 227.5,16.2 228.5,16.4 229.5,16 230.5,17.2 231.5,17.2 232.5,16.6 233.5,16 234.5,16.9 235.5,16.4 236.5,17 237.5,17.1 238.5,16.9 239.5,18.4 240.5,18.2 241.5,17.7 242.5,17.5 243.5,16.8 244.5,17.6 245.5,17.2 246.5,17.9 247.5,18.1 248.5,17.9 249.5,18.2 250.5,17.6 251.5,17.5 252.5,17.8 253.5,18 254.5,18.5 255.5,17.2 256.5,18 257.5,18.6 258.5,17.3 259.5,17.5 260.5,18.6 261.5,18.3 262.5,18.9 263.5,18.3 264.5,18.9 265.5,18.7 266.5,18.4 267.5,17.5 268.5,17.5 269.5,18.8 270.5,17.6 271.5,18.2 272.5,17.7 273.5,17.7 274.5,16.8 275.5,18.4 276.5,17.4 277.5,17.4 278.5,16.8 279.5,17.7 280.5,17.7 281.5,17 282.5,16.7 283.5,17.3 284.5,16 285.5,17.2 286.5,18 287.5,17.6 288.5,18.9 289.5,18.4 290.5,17.9 291.5,19.8 292.5,18.8 293.5,19.4 294.5,18.1 295.5,19.4 296.5,17.9 297.5,17.6 298.5,17.7 299.5,17.6 300.5,17.4 301.5,17 302.5,15.9 303.5,16.8 304.5,17 305.5,17.4 306.5,16.7 307.5,17.7 308.5,18.1 309.5,17.1 310.5,17.2 311.5,17.7 312.5,19 313.5,18 314.5,17.7 315.5,19.2 316.5,18.5 317.5,18.8 318.5,17.5 319.5,17.2 320.5,17.2 321.5,19.1 322.5,17.7 323.5,19.3 324.5,18.3 325.5,19.7 326.5,18.1 327.5,18.8 328.5,18.9 329.5,20 330.5,19.9 331.5,19 332.5,19.3 333.5,20 334.5,20 335.5,20.6 336.5,20.2 337.5,19.7 338.5,20.2 339.5,18.8 340.5,18.6 341.5,18.2 342.5,18.2 343.5,17.1 344.5,17.9 345.5,17.6 346.5,17.6 347.5,17.7 348.5,18.9 349.5,18.1 350.5,19.3 351.5,18.2 352.5,18.7 353.5,17.8 354.5,18.8 355.5,17.5 356.5,17.6 357.5,17.7 358.5,17.6 359.5,19.1 360.5,18.7 361.5,18.5 362.5,19.7 363.5,19.9 364.5,20.2 365.5,20.7 366.5,19.4 367.5,20.2 368.5,19.1 369.5,20.9 370.5,20.2 371.5,19.1 372.5,20.5 373.5,18.9 374.5,19.2 375.5,18.3 376.5,18.7 377.5,19.1 378.5,17.5 379.5,18.5 380.5,17.7 380.5,9 22.5,9Z"/>
</g>
<g clip-path="url(#c11)">
<path fill="#00ccff" d="M393,71.7 394,72.1 395,71.1 396,72.1 397,70.6 398,70.7 399,71.2 400,70.3 401,71.2 402,76.3 403,74.7 404,76.6 405,78 406,78.6 407,80.9 408,82.1 409,82.7 410,83.9 411,82.9 412,81.8 413,81.4 414,82.5 415,81.1 416,81.3 417,81.3 418,80.9 419,80 420,80.9 421,79.6 422,78.4 423,77.8 424,76.5 425,75.9 426,75.1 427,73 428,73 429,72.7 430,71.3 431,70.2 432,69.7 433,68.5 434,67.9 435,67.7 436,66.7 437,68.3 438,67.9 439,69.6 440,69.2 441,69.5 442,68.2 443,69.1 444,68.5 445,68 446,68.3 447,70 448,68.2 449,68.8 450,71.1 451,71 452,73.7 453,74 454,76.2 455,77.5 456,79.7 457,80.8 458,82.7 459,81.2 460,83.1 461,82.7 462,82.9 463,82.6 464,82.1 465,82.3 466,85.7 467,84.5 468,82.2 469,82.3 470,83 471,81.2 472,82.1 473,81.2 474,79.6 475,79.5 476,82.5 477,78.3 478,79 479,77.6 480,78.5 481,76.7 482,78 483,76.2 484,76 485,74.7 486,74.5 487,75 488,74.2 489,74.5 490,73.9 491,73.6 492,75.4 493,75 494,76.5 495,78.1 496,79.6 497,80.5 498,80.9 499,82.4 500,84.2 501,84 502,83.9 503,84.2 504,83.2 505,83.4 506,85 507,84.3 508,84.9 509,83.9 510,83.3 511,83.5 512,84 513,82.3 514,83.4 515,82.3 516,82.4 517,82.5 518,82.9 519,82.7 520,82.9 521,83.8 522,83.8 523,84.8 524,84 525,85.9 526,86.2 527,86.2 528,87.2 529,86 530,86.1 531,87.2 532,87.3 533,85.5 534,86 535,86.3 536,86 537,86.4 538,85.8 539,85.7 540,86.5 541,85.6 542,87.1 543,87.4 544,87.1 545,86.6 546,87.7 547,87.4 548,89.7 549,88.6 550,87 551,87.7 552,85.1 553,85.4 554,84.9 555,84.7 556,84.7 557,84.1 558,85 559,84.1 560,83.9 561,84.7 562,84.1 563,84.9 564,84.3 565,84.1 566,84.8 567,84.2 568,83.3 569,84.5 570,83.7 571,83.3 572,84.2 573,85.9 574,85.7 575,87 576,86.9 577,89.2 578,86.9 579,88.1 580,85 581,85.9 582,85.3 583,85.9 584,86 585,86.7 586,90.4 587,89.2 588,89.3 589,91.1 590,90.9 591,91.3 592,89.5 593,90.3 594,89 595,89 596,90.2 597,90.2 598,89.2 599,88.7 600,89.2 601,88.2 602,89.6 603,87.8 604,89 605,86.6 606,86.8 607,89.1 608,85.3 609,85.6 610,84.4 611,84.7 612,84 613,82.9 614,83.5 615,83.7 616,84.4 617,83.2 618,84.5 619,85 620,84.1 621,84.4 622,84.9 623,85 624,87.4 625,87.9 626,88 627,88 628,89 629,89.3 630,89 631,88.2 632,88.6 633,89.1 634,90.2 635,88.5 636,86.5 637,86.7 638,87.9 639,86.4 640,86.6 641,87.3 642,87 643,87.5 644,88.1 645,87.7 646,89.1 647,88.9 648,89.6 649,88 650,88.6 651,89 652,90.4 653,89.1 654,90.2 655,90.8 656,90.3 657,94.2 658,91.2 659,91.5 660,91.2 661,93.1 662,91.4 663,90.4 664,90.7 665,90.7 666,91.3 667,90.8 668,90.4 669,90.5 670,91.3 671,90.6 672,90.9 673,91.5 674,92.3 675,92.1 676,90.7 677,92.4 678,91.1 679,93 680,91.7 681,92.8 682,93.1 683,93.5 684,94.9 685,95.1 686,98.9 687,98.4 688,99.1 689,102.3 690,103.5 691,103.8 692,104.6 693,104.1 694,103 695,100.5 696,101 697,98.4 698,98.7 699,94.8 700,92.4 701,92.7 702,91.1 703,89.5 704,89.1 705,88.6 706,87.9 707,86.1 708,84.6 709,84.2 710,82.1 711,79.7 712,76.8 713,77 714,71.6 715,69.6 716,68.4 717,69.1 718,69.4 719,69.1 720,68.9 721,70.2 722,74 723,75.2 724,81.6 725,85.9 726,87.8 727,86.5 728,86.3 729,86.5 730,85.8 731,85.4 732,86 733,89.2 734,92.9 735,92.6 736,93.3 737,92.8 738,92 739,91.8 739,12 393,12Z"/>
<path fill="#ffcccc" d="M393,67.5 394,68.5 395,67.3 396,68.2 397,67.8 398,68.6 399,68.3 400,68.5 401,68.9 402,69.3 403,70 404,70.9 405,71.4 406,71.4 407,73 408,73.1 409,73.1 410,73.7 411,74.6 412,75.7 413,75 414,74.4 415,74.3 416,74.9 417,75.3 418,74.4 419,74.7 420,74.3 421,74 422,73.1 423,72.2 424,72.4 425,72.1 426,71.1 427,70.4 428,69.8 429,70 430,68.7 431,67.2 432,66.2 433,64.1 434,64.1 435,62.9 436,62.9 437,62.5 438,63.9 439,63.8 440,65 441,64.6 442,64.6 443,65.8 444,65.4 445,66.7 446,66.2 447,67.1 448,67.3 449,67.3 450,68 451,69.5 452,69.6 453,71.9 454,72.7 455,73.6 456,74.2 457,76.8 458,75.8 459,76.4 460,75.4 461,76.4 462,76.5 463,75.1 464,75.8 465,76.1 466,76.7 467,76.5 468,75.2 469,75.2 470,75 471,76.4 472,75.3 473,75.1 474,75.5 475,76.2 476,74.9 477,74.4 478,74.7 479,74 480,74.5 481,74.1 482,72.9 483,73.1 484,72.5 485,71.6 486,72.1 487,71.1 488,70.4 489,70.7 490,70.6 491,70.5 492,72 493,72.7 494,71.8 495,73.4 496,74.5 497,74.9 498,76.8 499,77.5 500,77.8 501,78.7 502,78.3 503,77.7 504,79.3 505,78.7 506,78 507,79.4 508,78.8 509,80 510,81.1 511,80.6 512,80.6 513,81.1 514,80.8 515,79.5 516,79.4 517,79.5 518,79.5 519,79.6 520,81 521,81.2 522,80 523,80.2 524,81.9 525,81.2 526,81.5 527,80.7 528,80.9 529,82.3 530,82 531,82.2 532,82.8 533,82.2 534,82.3 535,82.7 536,83 537,82.9 538,83.6 539,83.8 540,85 541,84.5 542,84.5 543,85.7 544,85.9 545,85.2 546,85.8 547,84.9 548,85.5 549,84.7 550,84.2 551,84.2 552,82.9 553,82.6 554,82.4 555,81.9 556,81.4 557,82.3 558,81.3 559,81.5 560,81.1 561,81.8 562,80.9 563,81.6 564,81.9 565,82 566,81.3 567,82.2 568,81.3 569,81.1 570,81.1 571,81.7 572,81.5 573,81.6 574,81.2 575,81.9 576,81.8 577,81.7 578,81.7 579,83.3 580,83.1 581,84 582,82.9 583,83.2 584,83.9 585,85 586,84.4 587,85.4 588,84.9 589,86 590,85.2 591,85.9 592,86.5 593,85.9 594,85.2 595,86.2 596,86.1 597,86.2 598,85.8 599,84.5 600,84.6 601,85.1 602,85.1 603,86.2 604,84.6 605,84.2 606,85.3 607,83.9 608,83.4 609,84 610,83.8 611,83.3 612,81.8 613,82.9 614,82.3 615,82.5 616,81.7 617,80.7 618,81.8 619,81.7 620,80.9 621,80.8 622,81.7 623,81.8 624,82.1 625,81.9 626,83.2 627,83.3 628,83 629,82.6 630,83.9 631,84.4 632,83.4 633,84.8 634,85.2 635,84 636,84.8 637,84.3 638,84.9 639,84.6 640,83.7 641,84.1 642,82.4 643,82.6 644,82.6 645,82.6 646,82.5 647,82.5 648,83.3 649,84.1 650,84.4 651,84.8 652,86.5 653,85.4 654,86.2 655,86.1 656,86.8 657,87.8 658,87.6 659,86.8 660,86.9 661,88.3 662,88.8 663,87.6 664,87.7 665,88.1 666,89.7 667,89.3 668,89.6 669,89.1 670,89.5 671,89.6 672,88.9 673,89.8 674,88.4 675,89.2 676,89.5 677,90 678,89.7 679,89.3 680,90.7 681,90.7 682,91.3 683,93.1 684,93.3 685,93.5 686,94.8 687,96.7 688,97.2 689,99.6 690,100.6 691,100.7 692,100.3 693,99.8 694,99.6 695,98.6 696,97.1 697,95.1 698,92.3 699,91.6 700,90 701,90.1 702,88.4 703,87.8 704,85.7 705,85.4 706,84.5 707,83.5 708,83.3 709,80.8 710,78.7 711,77.6 712,74.7 713,71.5 714,70.5 715,67.6 716,65.4 717,64.7 718,65.5 719,65.8 720,66.8 721,68.3 722,70.9 723,72.3 724,76.3 725,79.4 726,81.4 727,83.1 728,81.7 729,82 730,82.4 731,83.1 732,82.7 733,82.6 734,83.6 735,85.8 736,86.6 737,87.3 738,89.7 739,88.8 739,12 393,12Z"/>
<path fill="#6699ff" d="M393,63.6 394,64.1 395,63.1 396,64 397,62.7 398,62.8 399,63.2 400,63.6 401,64.1 402,63.8 403,65.7 404,67 405,67.4 406,68 407,68.8 408,69.2 409,69.8 410,70.3 411,70.9 412,71.2 413,70.4 414,71 415,71.3 416,72.3 417,71.6 418,70.7 419,70.8 420,72.3 421,71.4 422,70.1 423,68.5 424,67.8 425,68.5 426,67.5 427,67.4 428,65.3 429,65.6 430,64 431,62 432,61.3 433,59 434,59.8 435,58.4 436,59.4 437,60.7 438,60.8 439,62.3 440,61.5 441,61.6 442,60.8 443,61.4 444,60.6 445,61.2 446,62 447,62 448,62.1 449,62.3 450,62.7 451,63.5 452,66.3 453,68.2 454,69.6 455,71 456,72.2 457,73.6 458,72.9 459,73.5 460,73 461,73.1 462,73.2 463,71.5 464,72 465,72.6 466,71.3 467,71.6 468,70.8 469,72.2 470,71.1 471,71.5 472,70.3 473,69.9 474,71.4 475,69.9 476,70 477,69 478,69.7 479,68.4 480,69 481,67.3 482,67 483,67.5 484,67.1 485,65.5 486,65.6 487,65 488,65.6 489,65.8 490,65.4 491,67.5 492,67.1 493,67.8 494,68.3 495,69.9 496,70.4 497,70.2 498,69.7 499,70.7 500,70.5 501,69.8 502,71.4 503,70.7 504,69.6 505,69.6 506,70.5 507,70.2 508,70.2 509,68.8 510,69.2 511,69.8 512,69.9 513,69.1 514,71.2 515,71.8 516,72.2 517,74.6 518,74.6 519,75 520,74.9 521,75.1 522,75.7 523,76.2 524,75.3 525,76.9 526,76.8 527,75.7 528,76.9 529,77.5 530,76.2 531,76.8 532,76.5 533,77.5 534,76.5 535,76.5 536,77.3 537,77 538,76.3 539,75.8 540,75.5 541,75.6 542,76.7 543,76.8 544,76.4 545,77.9 546,77.3 547,78.6 548,77.9 549,77.7 550,77.8 551,77.1 552,76.4 553,76.1 554,73.9 555,73.5 556,73.4 557,73.9 558,75 559,74.1 560,73.7 561,73.9 562,73.6 563,74.6 564,73.9 565,73.4 566,73.6 567,73 568,73.3 569,74 570,72.6 571,72.8 572,74.3 573,74.7 574,73.5 575,74.4 576,74.3 577,74.6 578,75 579,76.7 580,75.5 581,77.3 582,76.8 583,76.9 584,77.4 585,77.4 586,78 587,78.2 588,79 589,79.9 590,79.1 591,78.7 592,79.5 593,80.1 594,80.1 595,80.1 596,79.7 597,79 598,79.6 599,79.5 600,79.2 601,78.6 602,78 603,77.4 604,77.1 605,76.9 606,76 607,76 608,75.5 609,76.2 610,76.1 611,75.8 612,74.6 613,74.4 614,74.6 615,73.5 616,74 617,73.9 618,73.6 619,73.1 620,74.7 621,74.3 622,75.1 623,76.2 624,75.8 625,76.7 626,76.7 627,77.9 628,77.2 629,77.9 630,77.4 631,77.4 632,77.6 633,76.2 634,75.6 635,76.1 636,76.5 637,76.5 638,76.4 639,76.5 640,76.8 641,75.9 642,77.3 643,76 644,75.7 645,75.9 646,76.4 647,77.3 648,76.6 649,78.2 650,77.8 651,80.1 652,79.8 653,81.2 654,80.3 655,80.8 656,81.2 657,81.8 658,83 659,81.9 660,82.1 661,83.3 662,83.1 663,83.3 664,83.8 665,84 666,83.3 667,82.8 668,83.1 669,83.5 670,82.5 671,83.3 672,82.9 673,83.5 674,83.3 675,83.6 676,83.1 677,83.8 678,84 679,84.1 680,85.5 681,86.4 682,86.5 683,87.2 684,87.9 685,88.1 686,89.9 687,91.6 688,91.7 689,91.9 690,92.3 691,93.6 692,93.5 693,93.1 694,93.7 695,92.4 696,91.2 697,88.4 698,87.2 699,86.9 700,84.7 701,83.4 702,82.8 703,80.9 704,81 705,79.6 706,79 707,76.5 708,74.9 709,73.7 710,71.8 711,70.6 712,68.8 713,67 714,65.5 715,64.1 716,63.6 717,62.6 718,62.8 719,62.8 720,64.7 721,66.6 722,68.5 723,69.8 724,71.6 725,74.2 726,75 727,77.3 728,79.5 729,79.7 730,81.3 731,82.2 732,82 733,82 734,83.1 735,82.9 736,84.4 737,83.7 738,83.7 739,84.3 739,12 393,12Z"/>
<path fill="#ffcccc" d="M393,60.4 394,61.3 395,59.7 396,59.7 397,59.4 398,60.9 399,60.3 400,61.4 401,61.6 402,62.2 403,63.1 404,64 405,66.3 406,66 407,66.2 408,67.4 409,66.5 410,67.7 411,66.6 412,66.6 413,66.6 414,67.1 415,66.5 416,66.7 417,66.8 418,66.3 419,66.2 420,66.5 421,65 422,64.5 423,65 424,63.8 425,63.4 426,63.2 427,61.3 428,60.9 429,60.5 430,60.5 431,59.9 432,57.6 433,58.2 434,56.6 435,55.7 436,56.5 437,57 438,58.1 439,57.8 440,58.1 441,57.9 442,57.2 443,57.1 444,57.6 445,58.1 446,58.1 447,58.8 448,58 449,59.2 450,60 451,59.9 452,61.2 453,62.2 454,63.2 455,65.5 456,67.8 457,68.5 458,69.1 459,68.6 460,69 461,68.3 462,68.6 463,69.2 464,69 465,69.3 466,68.5 467,68.2 468,68.3 469,67.3 470,67.1 471,67.6 472,67.7 473,67.9 474,67.2 475,67.6 476,67.2 477,68.1 478,67.2 479,67.8 480,68.1 481,67.4 482,67.1 483,66.7 484,67.1 485,64.3 486,64.3 487,62.5 488,62.6 489,63 490,63.2 491,62.7 492,63.6 493,64.4 494,63.6 495,64.8 496,64.4 497,64.7 498,66.7 499,65.7 500,67.6 501,66.3 502,66.1 503,67 504,65.7 505,65.7 506,65.6 507,65 508,65.3 509,65.1 510,65.9 511,65.3 512,66.3 513,67 514,67.8 515,69.4 516,70.4 517,70.3 518,71.4 519,71.3 520,71.2 521,71.2 522,72.3 523,72.3 524,71.7 525,72.6 526,72.9 527,73.5 528,73.4 529,74.1 530,74.3 531,72.6 532,74.2 533,72.7 534,73 535,73.1 536,73 537,71.5 538,71.3 539,71.3 540,71.4 541,72.9 542,72.5 543,73.1 544,72.9 545,72.6 546,73.7 547,72.9 548,72.7 549,73.5 550,73.9 551,72.8 552,71.4 553,71.4 554,69.9 555,70.8 556,70.1 557,70.2 558,70.6 559,70.8 560,70.6 561,69.7 562,70.8 563,70.3 564,70.7 565,70.4 566,71.4 567,70.1 568,71.6 569,70.1 570,69.9 571,70.9 572,71.3 573,71 574,71 575,72.2 576,72.2 577,72.6 578,73.1 579,72.8 580,73.1 581,74.2 582,74.2 583,74.5 584,74.5 585,74.6 586,75.2 587,75.3 588,75.8 589,76.4 590,76.5 591,77.3 592,77.4 593,78.3 594,78.2 595,78.7 596,78.2 597,76.9 598,78.2 599,77.2 600,75.4 601,75.1 602,76.1 603,74.6 604,74.6 605,73.4 606,73.4 607,72 608,72.1 609,72.3 610,70.5 611,70.5 612,70.8 613,71.4 614,69.9 615,71.4 616,70.1 617,69.9 618,69.6 619,71.1 620,70.9 621,71.6 622,71 623,72.2 624,72.1 625,72.6 626,73.7 627,74 628,73.1 629,72.3 630,73.3 631,73.2 632,71.2 633,71.6 634,72 635,72.7 636,72 637,72.2 638,71.5 639,72.2 640,71.4 641,73 642,72.9 643,71.5 644,71.5 645,73.3 646,72.3 647,72.9 648,74.4 649,75.5 650,76.4 651,77 652,77.9 653,77.2 654,77.9 655,78.9 656,79.3 657,79.5 658,78.6 659,80.1 660,78.6 661,78.7 662,78.7 663,79.3 664,78.6 665,78.7 666,79.8 667,79.1 668,78.7 669,80 670,79.8 671,78.5 672,79.4 673,79.5 674,79.8 675,79.9 676,78.6 677,78.9 678,80.5 679,79.9 680,81.7 681,82.5 682,82.9 683,84.6 684,84.9 685,85.3 686,86.5 687,85.9 688,87 689,86.4 690,86.6 691,88 692,86.9 693,86.9 694,87.5 695,87.3 696,86.4 697,85.4 698,83 699,82.5 700,82.5 701,80.8 702,79.2 703,77.8 704,77 705,74.6 706,73.7 707,70.8 708,69.9 709,67.8 710,67.7 711,65.6 712,64.4 713,62.4 714,60.9 715,61.2 716,60.1 717,57.9 718,57.7 719,59 720,61 721,62.8 722,64.3 723,66.4 724,68.4 725,70.2 726,73.5 727,74.3 728,77.1 729,77.1 730,78 731,78.9 732,79.2 733,79.2 734,79.2 735,78.3 736,78.7 737,78.6 738,78.8 739,78.6 739,12 393,12Z"/>
<path fill="#6699ff" d="M393,36.9 394,38 395,38.7 396,38.4 397,38 398,40.3 399,40.9 400,39 401,40.5 402,40.2 403,39.8 404,39.1 405,40.1 406,41.5 407,40.8 408,41.4 409,41.7 410,41.6 411,38.8 412,39.4 413,38.7 414,38.7 415,38.9 416,38.5 417,36.7 418,36.8 419,37.8 420,36.7 421,36.4 422,36.7 423,35.7 424,34.9 425,35.3 426,36.3 427,36.3 428,35.2 429,36.2 430,36 431,34.7 432,35.4 433,34.7 434,33.5 435,35.1 436,33.2 437,34.4 438,33.9 439,34.2 440,35.2 441,33.5 442,35.9 443,34.7 444,36 445,34.5 446,36.2 447,35.7 448,36.2 449,36 450,35.6 451,36.9 452,36.8 453,35 454,35.1 455,36 456,36.8 457,35.4 458,36.2 459,36.8 460,36.1 461,37.3 462,35.7 463,36.5 464,37.8 465,37.9 466,36.7 467,37 468,38 469,36.5 470,36.9 471,37.3 472,37.3 473,36.7 474,36.9 475,36.7 476,36 477,36.1 478,36.1 479,36.1 480,35.5 481,35 482,35.9 483,35.3 484,35.4 485,36.3 486,36.7 487,37.2 488,35.7 489,36.2 490,37.3 491,36.8 492,35.8 493,37.6 494,36.4 495,38.7 496,38.2 497,37.9 498,39 499,38 500,37.2 501,39.1 502,39.8 503,40.4 504,39.1 505,39.9 506,39.8 507,41.6 508,40.9 509,41.7 510,40.4 511,41.9 512,40.7 513,40.6 514,40.6 515,39 516,40 517,40 518,37.9 519,39.4 520,38.3 521,39.5 522,39.5 523,38.9 524,39 525,38.4 526,38.9 527,38.5 528,39.6 529,39.8 530,39.1 531,39.8 532,40 533,39.2 534,39.5 535,39.6 536,39.6 537,38.1 538,40.5 539,39.1 540,38.3 541,38.5 542,39.3 543,39.6 544,40 545,38.7 546,39.1 547,39.2 548,39.4 549,39.9 550,37.9 551,38.5 552,38.5 553,39.7 554,39.7 555,39.1 556,38.5 557,38.9 558,38.9 559,38.1 560,38.3 561,37 562,38.3 563,38 564,37.2 565,38.1 566,38.6 567,37.8 568,39.5 569,39.9 570,39.3 571,40.5 572,40.2 573,40.2 574,39 575,39 576,40.4 577,38.8 578,39.9 579,39.9 580,39.9 581,38.8 582,38.8 583,39.4 584,38.3 585,40.5 586,38.4 587,40.1 588,39.9 589,39.9 590,40 591,39.1 592,39.9 593,39.9 594,40.1 595,40.9 596,40 597,38.9 598,40.8 599,39.7 600,41.1 601,39.5 602,40.6 603,41.1 604,40.2 605,41 606,40.8 607,40.5 608,40.4 609,38.7 610,38.6 611,39.1 612,39.9 613,38 614,38.2 615,38.6 616,41 617,41.5 618,39.5 619,40.6 620,40.7 621,40.8 622,40.1 623,38.9 624,40 625,39.9 626,39.3 627,41 628,40.4 629,40.4 630,39.2 631,38.4 632,38.9 633,40.3 634,40.1 635,38.6 636,38.8 637,40.5 638,40.8 639,39.2 640,41 641,40.7 642,41.7 643,41.3 644,39.7 645,41.1 646,39.3 647,39.9 648,38.8 649,38.8 650,39.2 651,39.4 652,39.7 653,39.8 654,39.3 655,39.2 656,39.7 657,38.6 658,39.9 659,41 660,39.7 661,39.2 662,41 663,39.9 664,40.8 665,41.7 666,39.7 667,39.9 668,41.1 669,40.2 670,41.1 671,41.4 672,40.8 673,39.8 674,40.8 675,39.5 676,41 677,40.1 678,40.4 679,40.2 680,41.4 681,41.5 682,41.2 683,40.5 684,40.9 685,40.5 686,41 687,42.6 688,41.9 689,41.7 690,42.6 691,42.1 692,41.5 693,40.9 694,40.8 695,40.6 696,41.3 697,40.8 698,38.9 699,38.4 700,38.2 701,38.9 702,38.8 703,39.2 704,37.9 705,38.8 706,38.1 707,39.3 708,38.1 709,38.6 710,39.7 711,37.8 712,37.6 713,36.4 714,37.4 715,35.2 716,35.8 717,35.5 718,33.7 719,35.8 720,35.6 721,35.2 722,37.8 723,38.6 724,39.1 725,38.2 726,39.1 727,39.8 728,40.1 729,40.5 730,38.5 731,40.8 732,39.9 733,41 734,40.1 735,39.2 736,41.3 737,39.3 738,39.6 739,39 739,12 393,12Z"/>
<path fill="#ffcccc" d="M393,27.5 394,26.9 395,28.4 396,29.5 397,30.2 398,30.5 399,30.4 400,28 401,28.3 402,29.4 403,29 404,28.5 405,27.7 406,28.8 407,27.9 408,29.1 409,30.5 410,29.1 411,28 412,29.9 413,30.2 414,29.9 415,28.5 416,29.6 417,27.2 418,27.3 419,27.9 420,30.7 421,30.5 422,28.4 423,30.8 424,31.3 425,32.1 426,31.4 427,31.4 428,30 429,29.8 430,30.9 431,29.4 432,27.9 433,29.1 434,28 435,27.8 436,26.7 437,26 438,26 439,25.9 440,27.2 441,24.1 442,26 443,26.5 444,24.8 445,27.3 446,25.4 447,27.3 448,24.5 449,24.8 450,26.1 451,26.5 452,24.9 453,25.7 454,26.1 455,27 456,25.4 457,28.4 458,28.8 459,28.7 460,30 461,27.7 462,29.1 463,29.1 464,28.5 465,28.3 466,29.3 467,28.3 468,27.6 469,28.5 470,27.9 471,29 472,28.2 473,26.4 474,26.9 475,28.9 476,27.8 477,29.3 478,27.7 479,29.9 480,29.3 481,29 482,30.1 483,28.2 484,29.1 485,29.4 486,28.4 487,27.3 488,27.1 489,26.3 490,28.1 491,28.2 492,27.5 493,28.9 494,28.3 495,27.4 496,27 497,26.1 498,28.1 499,27.8 500,27.4 501,26.6 502,28.7 503,29.2 504,29.6 505,27.9 506,28.3 507,27.2 508,27.8 509,28.8 510,28 511,27.9 512,28.2 513,27.1 514,27.3 515,26.4 516,27.6 517,30.1 518,29.7 519,29.5 520,30.6 521,29.2 522,30.8 523,31.9 524,30.7 525,30.5 526,29.7 527,31.3 528,27.8 529,30.1 530,29.5 531,27 532,25.7 533,24.6 534,25.7 535,25.8 536,25.3 537,25.5 538,23.5 539,24.3 540,24.7 541,26.4 542,26 543,26.2 544,25.5 545,27.1 546,28.4 547,26.5 548,28.4 549,26.7 550,25.7 551,27.1 552,26.9 553,24.8 554,26 555,24.8 556,26.4 557,27.1 558,26.4 559,25.4 560,27.3 561,27.6 562,27.6 563,25.6 564,26.3 565,26.8 566,25.2 567,26.2 568,26.8 569,25.4 570,27 571,26.4 572,26.2 573,26.8 574,26.7 575,27.9 576,27 577,28.4 578,28.5 579,25.4 580,26.5 581,26.4 582,25.6 583,25.2 584,26.9 585,24.3 586,25.7 587,27.1 588,24.9 589,24.9 590,26.1 591,25.1 592,26.9 593,25.5 594,25.5 595,26.3 596,25.4 597,25.9 598,26.8 599,26.1 600,25.8 601,27.6 602,27 603,26.7 604,26.3 605,26 606,26.7 607,27.6 608,28 609,28.1 610,26.4 611,27.6 612,27.2 613,26.3 614,26.5 615,25.5 616,24.8 617,26.9 618,25.3 619,24.9 620,26 621,25.5 622,26.5 623,28 624,26.5 625,27.2 626,26.1 627,27.8 628,26 629,26.3 630,25.6 631,25.4 632,26.9 633,26.7 634,27.8 635,26.3 636,26.4 637,25.7 638,26.4 639,26.2 640,24.5 641,25.5 642,25 643,27.2 644,25 645,25 646,26 647,26.2 648,26.4 649,24.6 650,27.1 651,25.1 652,25.2 653,27.8 654,26.5 655,27.4 656,26.9 657,27.3 658,27.5 659,27.6 660,28.8 661,28.4 662,27.6 663,26.6 664,25.4 665,24.3 666,26.5 667,25.4 668,25.5 669,24.9 670,25.8 671,25.6 672,26.2 673,26.3 674,25.5 675,25.3 676,25.6 677,26.4 678,26.6 679,25.2 680,26.5 681,24.3 682,24.5 683,24.7 684,26.4 685,25.3 686,25.2 687,26.9 688,25.8 689,28.3 690,27.7 691,27.3 692,26.5 693,25.9 694,25 695,26 696,24.7 697,26.2 698,24.2 699,25 700,25.1 701,24.5 702,24 703,24 704,23.9 705,23.1 706,24.1 707,23.7 708,24.6 709,22.8 710,24.8 711,24 712,24 713,23.5 714,22.9 715,25.5 716,24.1 717,22.9 718,24.4 719,21.7 720,24.4 721,21.6 722,23.7 723,23.9 724,23.9 725,21.9 726,22.6 727,21 728,21.5 729,23.6 730,22.3 731,22.8 732,24.9 733,25.5 734,25.5 735,23.2 736,25.7 737,25.4 738,24.5 739,25.5 739,12 393,12Z"/>
<path fill="#006633" d="M393,16.8 394,16.6 395,16.6 396,17.6 397,17.7 398,16.8 399,17.6 400,19 401,18.5 402,18.1 403,19.4 404,18.4 405,18.6 406,15.8 407,17.3 408,16.2 409,16.1 410,15 411,16.5 412,17.6 413,17.4 414,17.3 415,16.6 416,17.3 417,18.2 418,16.9 419,16.9 420,16.7 421,17.6 422,16.7 423,18.5 424,19 425,18.3 426,17.5 427,20 428,18.9 429,18.2 430,19.6 431,18 432,19.6 433,18.3 434,17.4 435,17 436,17.3 437,16.9 438,16.9 439,18 440,18.1 441,17.7 442,16.6 443,17.4 444,16.9 445,16.7 446,15.8 447,16 448,17.7 449,16.4 450,16.2 451,17.9 452,18.7 453,18.5 454,20.6 455,18.5 456,19.7 457,20.8 458,19.6 459,19.1 460,19.9 461,18 462,18.8 463,17.2 464,17.5 465,17.9 466,16.9 467,17.8 468,18.1 469,19.1 470,19.5 471,19.6 472,19.9 473,20.8 474,21.3 475,22 476,20.8 477,20.2 478,20.5 479,20.7 480,20.2 481,20.6 482,21.7 483,22.8 484,20.7 485,21.9 486,21.2 487,22.2 488,20.5 489,21.3 490,22.3 491,21.9 492,22 493,20.8 494,20.1 495,21.3 496,21.4 497,20.9 498,19.5 499,20.9 500,18.4 501,18.8 502,19.3 503,18.7 504,18.8 505,20.6 506,19.6 507,20.6 508,20.5 509,21.8 510,21.2 511,20.1 512,19.5 513,19.1 514,18.8 515,19.4 516,20.6 517,18.6 518,18.9 519,19.8 520,20.2 521,21.2 522,21.8 523,20.8 524,19.7 525,20.6 526,20.4 527,20 528,20.3 529,20.2 530,19.9 531,21.3 532,21.1 533,22.2 534,23.2 535,23.5 536,22.6 537,23.1 538,22 539,22.4 540,22.4 541,23.7 542,23.8 543,23.8 544,22.1 545,23.2 546,23.5 547,23.9 548,24.4 549,22.8 550,22.8 551,22.7 552,23 553,22.3 554,20.8 555,20.5 556,20.3 557,20.1 558,19.1 559,20.7 560,20 561,20.2 562,19.2 563,18 564,17.6 565,18 566,17.3 567,18.6 568,18.6 569,19.1 570,18.4 571,19.6 572,18.8 573,19.5 574,18.9 575,20.5 576,19 577,19.9 578,20.7 579,20.9 580,19.7 581,19.4 582,21.7 583,20.7 584,20.4 585,22.9 586,21.8 587,21.3 588,20.9 589,20.5 590,21.3 591,19.9 592,20 593,20.1 594,19.4 595,21.1 596,19.4 597,20 598,18.6 599,20.6 600,19.4 601,19.3 602,18.6 603,19.2 604,19.5 605,20 606,19.1 607,19.2 608,20.6 609,19.5 610,20.6 611,20.3 612,20.6 613,18.5 614,19.4 615,19.8 616,20.5 617,18.3 618,20.4 619,19.7 620,19.9 621,18 622,20.3 623,19.7 624,19.3 625,19.5 626,21.2 627,19.1 628,19.9 629,20.6 630,18.6 631,18.7 632,19.2 633,20.4 634,19.9 635,18.4 636,18.3 637,19.9 638,20 639,20.7 640,20.8 641,19.7 642,18.7 643,19.5 644,18.6 645,20 646,20.6 647,19.6 648,19.1 649,19.2 650,20.7 651,19.7 652,20.1 653,20.1 654,20.6 655,20.7 656,20.6 657,21.1 658,22 659,20.8 660,19.9 661,22.2 662,20.7 663,21.1 664,19.5 665,19 666,20.6 667,20.2 668,19.9 669,20.9 670,20.2 671,19.7 672,22.3 673,21.9 674,20.7 675,21.2 676,21.7 677,20.4 678,20.6 679,19.9 680,19.6 681,20.9 682,19.8 683,21.4 684,19.2 685,21 686,19.4 687,19.5 688,20.9 689,19.4 690,20.8 691,21 692,21.4 693,21.6 694,20.9 695,21.2 696,20.2 697,19.9 698,21 699,19.1 700,21 701,20.1 702,19.2 703,19.3 704,19.1 705,18.3 706,18.4 707,19.9 708,18 709,18.9 710,18.5 711,16.2 712,17 713,16.5 714,15.1 715,16.5 716,15.3 717,16.1 718,16.5 719,16.6 720,16.8 721,16.1 722,17.1 723,17.4 724,16.9 725,17.4 726,17.9 727,16 728,15.6 729,16.2 730,17.1 731,15.6 732,17.3 733,15.5 734,17.3 735,17.4 736,17.4 737,18.8 738,18.2 739,18.1 739,9 393,9Z"/>
</g>
<g clip-path="url(#c13)">
<path fill="#6699ff" d="M22.5,193.2 23.5,193.8 24.5,194.1 25.5,196.1 26.5,196.1 27.5,197.7 28.5,197.5 29.5,198.5 30.5,202.1 31.5,196.7 32.5,194.4 33.5,193.8 34.5,197.4 35.5,193.2 36.5,192.7 37.5,194.7 38.5,195.2 39.5,197.2 40.5,196.7 41.5,198.4 42.5,198 43.5,200.2 44.5,200.2 45.5,200.4 46.5,199.9 47.5,201.7 48.5,200.6 49.5,201.7 50.5,201.2 51.5,200.7 52.5,200.8 53.5,203.1 54.5,203.3 55.5,201.7 56.5,203.8 57.5,200.1 58.5,199 59.5,196.9 60.5,197.1 61.5,196.7 62.5,192.4 63.5,191.9 64.5,191.9 65.5,190.4 66.5,191.3 67.5,193.2 68.5,190.5 69.5,190 70.5,188.4 71.5,189.1 72.5,189.7 73.5,189.1 74.5,198.7 75.5,189.8 76.5,187.8 77.5,189.4 78.5,189.9 79.5,191 80.5,191.3 81.5,194.9 82.5,195.5 83.5,196 84.5,196.9 85.5,197.2 86.5,202.9 87.5,197.2 88.5,198.3 89.5,199.4 90.5,199.7 91.5,199.8 92.5,201.6 93.5,200.1 94.5,202.4 95.5,202.5 96.5,202.9 97.5,202.5 98.5,203.5 99.5,201.5 100.5,201.8 101.5,200.3 102.5,200.4 103.5,208.3 104.5,200.5 105.5,200.9 106.5,200.1 107.5,201.2 108.5,201.5 109.5,200.4 110.5,201.5 111.5,200.8 112.5,200.7 113.5,201.2 114.5,202.5 115.5,201.3 116.5,200.3 117.5,201.4 118.5,200 119.5,201.2 120.5,201.6 121.5,200.4 122.5,201 123.5,199.7 124.5,200.1 125.5,198.6 126.5,198.6 127.5,201.3 128.5,201.8 129.5,200.6 130.5,202 131.5,200.3 132.5,202.4 133.5,203 134.5,202.5 135.5,201.5 136.5,202.1 137.5,203.8 138.5,205.6 139.5,204.1 140.5,205.4 141.5,205.7 142.5,207 143.5,207.4 144.5,206.8 145.5,205.8 146.5,206.2 147.5,207.8 148.5,206.5 149.5,207.6 150.5,207.4 151.5,207.3 152.5,207.1 153.5,205.7 154.5,207.2 155.5,205.4 156.5,207.8 157.5,213.7 158.5,207.4 159.5,207.3 160.5,207.2 161.5,206.4 162.5,207 163.5,208.5 164.5,207.6 165.5,207.7 166.5,214.8 167.5,206.8 168.5,208.5 169.5,208.4 170.5,207 171.5,208.5 172.5,209 173.5,207 174.5,207.9 175.5,206.3 176.5,206.7 177.5,205.6 178.5,205.9 179.5,205.8 180.5,206.1 181.5,208.1 182.5,207 183.5,208.4 184.5,207.4 185.5,207.8 186.5,209.1 187.5,207.3 188.5,213 189.5,210 190.5,211.8 191.5,210.4 192.5,210.4 193.5,209.3 194.5,215.5 195.5,208.8 196.5,206.4 197.5,207.6 198.5,206.5 199.5,208.9 200.5,206.5 201.5,204.7 202.5,205.8 203.5,207.6 204.5,204.6 205.5,205.7 206.5,206.3 207.5,204.9 208.5,204.7 209.5,205.2 210.5,205.2 211.5,205.7 212.5,205 213.5,206.7 214.5,207.2 215.5,206.5 216.5,206.6 217.5,206.6 218.5,208.1 219.5,208.6 220.5,207.7 221.5,206.9 222.5,208.1 223.5,208 224.5,209.8 225.5,210.7 226.5,210.1 227.5,211.3 228.5,210.8 229.5,211.9 230.5,212.9 231.5,219.7 232.5,211.2 233.5,211.4 234.5,212.7 235.5,212.8 236.5,211.9 237.5,211.8 238.5,217 239.5,211.8 240.5,212.9 241.5,213.8 242.5,219.6 243.5,212.7 244.5,212.3 245.5,218.5 246.5,213 247.5,211.6 248.5,215.3 249.5,211.5 250.5,210.2 251.5,209.2 252.5,209.3 253.5,208.4 254.5,206.5 255.5,207.6 256.5,208.3 257.5,207.6 258.5,207.4 259.5,214.1 260.5,209.6 261.5,212.1 262.5,213.2 263.5,219.6 264.5,213.4 265.5,216.9 266.5,214.6 267.5,216.5 268.5,216.3 269.5,216.2 270.5,216.7 271.5,216.1 272.5,214.9 273.5,215.2 274.5,216.4 275.5,215.9 276.5,217.5 277.5,215.2 278.5,215.9 279.5,217.6 280.5,217.4 281.5,216.3 282.5,218.5 283.5,218.5 284.5,218.8 285.5,218.5 286.5,217.5 287.5,218.7 288.5,216.3 289.5,217.1 290.5,217.3 291.5,216.4 292.5,218.7 293.5,218 294.5,219.5 295.5,219.2 296.5,220.4 297.5,219.3 298.5,219.4 299.5,220.2 300.5,220.3 301.5,223.1 302.5,228.5 303.5,223.9 304.5,224.6 305.5,230.4 306.5,225.3 307.5,224.8 308.5,226.6 309.5,227.3 310.5,226.3 311.5,226.1 312.5,227.7 313.5,227.3 314.5,226.7 315.5,228 316.5,226.9 317.5,226.8 318.5,227.7 319.5,228.3 320.5,227.1 321.5,227.7 322.5,228.9 323.5,229.4 324.5,231.3 325.5,236.4 326.5,232.5 327.5,232.8 328.5,232.1 329.5,231.7 330.5,231 331.5,230.5 332.5,229.6 333.5,229.4 334.5,228.4 335.5,225.5 336.5,225.8 337.5,227.6 338.5,222.9 339.5,219.3 340.5,217.8 341.5,217.7 342.5,215.9 343.5,214.2 344.5,213.4 345.5,210.6 346.5,208.2 347.5,204.7 348.5,203.2 349.5,199.8 350.5,196 351.5,192.3 352.5,186.8 353.5,187 354.5,186.7 355.5,191.7 356.5,193.5 357.5,189.8 358.5,189.2 359.5,192.7 360.5,195.6 361.5,197.6 362.5,200.5 363.5,201.3 364.5,202 365.5,203.1 366.5,201.8 366.5,137.7 22.5,137.7Z"/>
<path fill="#ff0000" d="M22.5,188.6 23.5,189 24.5,187.7 25.5,188.3 26.5,190.3 27.5,191.5 28.5,191.7 29.5,190.2 30.5,191.4 31.5,190.7 32.5,190.4 33.5,191.2 34.5,190.5 35.5,190.8 36.5,193.8 37.5,192.5 38.5,193.8 39.5,196.7 40.5,195.6 41.5,196.9 42.5,199.7 43.5,198.4 44.5,199.4 45.5,200.2 46.5,197.2 47.5,198.7 48.5,196.9 49.5,196.7 50.5,194.5 51.5,194.6 52.5,192.9 53.5,193.5 54.5,192.4 55.5,193 56.5,192 57.5,192.1 58.5,192.4 59.5,191.4 60.5,192.6 61.5,191.4 62.5,189.7 63.5,189.4 64.5,189.8 65.5,188.9 66.5,186.7 67.5,188.4 68.5,188.3 69.5,187.2 70.5,186.2 71.5,187.7 72.5,187.3 73.5,188 74.5,187.8 75.5,184.6 76.5,184.1 77.5,185.4 78.5,184.9 79.5,185.3 80.5,185.5 81.5,186.4 82.5,189 83.5,188.1 84.5,191.1 85.5,190 86.5,192.3 87.5,192.8 88.5,192 89.5,193.3 90.5,194.1 91.5,193.9 92.5,195.4 93.5,193.9 94.5,194.5 95.5,195.3 96.5,196.7 97.5,196.6 98.5,196.8 99.5,195.9 100.5,195.5 101.5,196.6 102.5,198.6 103.5,198.9 104.5,197.1 105.5,197.1 106.5,198.5 107.5,199.3 108.5,198.2 109.5,197.8 110.5,196.8 111.5,195.9 112.5,195.3 113.5,194.1 114.5,195.5 115.5,195.1 116.5,193 117.5,193.6 118.5,192.9 119.5,191.7 120.5,194.4 121.5,191.8 122.5,192.1 123.5,193.4 124.5,192.9 125.5,192.6 126.5,195.4 127.5,193.5 128.5,192.8 129.5,195.6 130.5,194.9 131.5,195.3 132.5,195.2 133.5,193.9 134.5,194.5 135.5,196.8 136.5,196 137.5,196.4 138.5,197 139.5,199.4 140.5,197.9 141.5,197.8 142.5,200.2 143.5,198.7 144.5,198.4 145.5,199.4 146.5,199.7 147.5,199.2 148.5,199.7 149.5,200.5 150.5,197.7 151.5,198.5 152.5,198.4 153.5,196.4 154.5,198.2 155.5,198.3 156.5,197.5 157.5,198.7 158.5,200.9 159.5,200.2 160.5,200.2 161.5,202.8 162.5,202.6 163.5,203.5 164.5,202.2 165.5,202.5 166.5,203.4 167.5,201.4 168.5,202.1 169.5,201.7 170.5,203.5 171.5,204.4 172.5,203.3 173.5,203.8 174.5,203.4 175.5,203.7 176.5,204 177.5,202.5 178.5,205.1 179.5,204.3 180.5,204.1 181.5,204.8 182.5,205.4 183.5,205.7 184.5,206.8 185.5,207.5 186.5,205.5 187.5,207.2 188.5,208.5 189.5,208 190.5,208.8 191.5,208 192.5,209.1 193.5,209.2 194.5,209.5 195.5,206.1 196.5,205.6 197.5,204.8 198.5,205.5 199.5,204.6 200.5,202.4 201.5,204.5 202.5,204.8 203.5,204.1 204.5,203.2 205.5,204.1 206.5,204.2 207.5,203.7 208.5,202.2 209.5,201.5 210.5,200.8 211.5,202.3 212.5,201.3 213.5,201.6 214.5,204.2 215.5,203.5 216.5,203.3 217.5,204.2 218.5,206.1 219.5,205.7 220.5,207.4 221.5,208.3 222.5,207.9 223.5,207.9 224.5,208.1 225.5,208 226.5,208.2 227.5,209.5 228.5,209 229.5,209.9 230.5,210.1 231.5,209.3 232.5,211.2 233.5,209.4 234.5,211.9 235.5,211.4 236.5,209.8 237.5,211 238.5,209.6 239.5,208.8 240.5,209.1 241.5,209.6 242.5,207.9 243.5,208 244.5,205.9 245.5,207 246.5,208 247.5,205.7 248.5,206.5 249.5,205.2 250.5,205.4 251.5,206.3 252.5,204.1 253.5,203.6 254.5,205.5 255.5,203.4 256.5,204.2 257.5,204 258.5,203.6 259.5,205.4 260.5,205.2 261.5,206.1 262.5,207.8 263.5,206.2 264.5,207.8 265.5,208.6 266.5,209 267.5,209.4 268.5,210.4 269.5,210.6 270.5,210.3 271.5,210 272.5,211.1 273.5,211.4 274.5,213.4 275.5,214.6 276.5,215.1 277.5,215.3 278.5,216.1 279.5,215.1 280.5,216.2 281.5,214.4 282.5,212.9 283.5,213.3 284.5,213 285.5,214.6 286.5,213.3 287.5,213.2 288.5,214.3 289.5,214.8 290.5,213.6 291.5,214.5 292.5,215.5 293.5,215.3 294.5,214.7 295.5,215.8 296.5,217.5 297.5,217.5 298.5,218.3 299.5,216.3 300.5,217.6 301.5,218.1 302.5,217.4 303.5,219.2 304.5,217.8 305.5,219.7 306.5,218.9 307.5,219.1 308.5,219.4 309.5,219.7 310.5,221.4 311.5,220.1 312.5,220.1 313.5,221.5 314.5,221.6 315.5,221.1 316.5,222.9 317.5,222.6 318.5,223.8 319.5,224 320.5,224.7 321.5,225.2 322.5,225.9 323.5,228.6 324.5,228.5 325.5,228.4 326.5,229 327.5,231.1 328.5,230.1 329.5,229.1 330.5,227 331.5,225.8 332.5,225.7 333.5,225.2 334.5,222.8 335.5,221.5 336.5,220.7 337.5,219 338.5,218.6 339.5,216.2 340.5,215.2 341.5,212.3 342.5,210.9 343.5,211.3 344.5,207.9 345.5,205.7 346.5,204.3 347.5,199.4 348.5,197.8 349.5,196 350.5,190.7 351.5,190.3 352.5,185.7 353.5,184.7 354.5,184 355.5,182 356.5,184.9 357.5,184.6 358.5,184.1 359.5,186.7 360.5,187.9 361.5,188.5 362.5,191.3 363.5,191.5 364.5,195.6 365.5,197.5 366.5,198.9 366.5,137.7 22.5,137.7Z"/>
<path fill="#00ccff" d="M22.5,183.9 23.5,184 24.5,184.3 25.5,183.9 26.5,184.9 27.5,184.9 28.5,184.6 29.5,185.4 30.5,185.1 31.5,185.8 32.5,185.6 33.5,186 34.5,185.8 35.5,187 36.5,186.1 37.5,188.1 38.5,189.9 39.5,191 40.5,191.2 41.5,190.7 42.5,192.3 43.5,192 44.5,191.7 45.5,191.6 46.5,191.8 47.5,191.7 48.5,191.4 49.5,191.8 50.5,191.3 51.5,191.3 52.5,189.2 53.5,189.2 54.5,189.6 55.5,188.6 56.5,187.2 57.5,187.1 58.5,186.3 59.5,184.2 60.5,184.9 61.5,183.7 62.5,183.6 63.5,182.9 64.5,183.8 65.5,183.8 66.5,182.1 67.5,183.6 68.5,182.2 69.5,182.6 70.5,182.8 71.5,183 72.5,182.7 73.5,182.7 74.5,181.3 75.5,181.6 76.5,180.6 77.5,180.2 78.5,183.4 79.5,185.7 80.5,188.9 81.5,189.1 82.5,187.8 83.5,187.4 84.5,187.9 85.5,188.4 86.5,187.3 87.5,188 88.5,188.5 89.5,189.1 90.5,190.3 91.5,190.2 92.5,189.6 93.5,190.7 94.5,189.2 95.5,189.7 96.5,191.3 97.5,190 98.5,190.6 99.5,190.4 100.5,189.4 101.5,190.2 102.5,188.9 103.5,189.2 104.5,188.6 105.5,187.9 106.5,188.9 107.5,188.3 108.5,187.9 109.5,187.4 110.5,188.7 111.5,189.2 112.5,188.4 113.5,188.9 114.5,189.3 115.5,189.3 116.5,188.9 117.5,188.5 118.5,189.7 119.5,189.5 120.5,189.2 121.5,190.8 122.5,190.8 123.5,191.3 124.5,191.1 125.5,190.1 126.5,190.6 127.5,190 128.5,188.5 129.5,188.2 130.5,187.9 131.5,187.5 132.5,186.5 133.5,187.5 134.5,186.5 135.5,187.1 136.5,188.7 137.5,188.5 138.5,189.7 139.5,189.8 140.5,190.9 141.5,192 142.5,190.8 143.5,191.4 144.5,192.6 145.5,192.6 146.5,193.4 147.5,193.3 148.5,191.8 149.5,191.8 150.5,192.2 151.5,191.7 152.5,190.8 153.5,191.3 154.5,191.7 155.5,192.5 156.5,192.3 157.5,192.2 158.5,192.4 159.5,193.6 160.5,195.2 161.5,195.3 162.5,195.1 163.5,195.7 164.5,195.2 165.5,197.5 166.5,196.5 167.5,198 168.5,198.4 169.5,197.4 170.5,198 171.5,198.6 172.5,198.2 173.5,198.4 174.5,198 175.5,197 176.5,197 177.5,197.1 178.5,195.9 179.5,197.1 180.5,197.7 181.5,198.4 182.5,198.1 183.5,200 184.5,199.3 185.5,199.5 186.5,199.2 187.5,198.6 188.5,199.7 189.5,199.4 190.5,199.3 191.5,200.8 192.5,199.9 193.5,201 194.5,199 195.5,200.9 196.5,201 197.5,200 198.5,200.3 199.5,200.3 200.5,198.6 201.5,198.5 202.5,199.4 203.5,198.5 204.5,200.3 205.5,198.5 206.5,199.2 207.5,198.8 208.5,199.5 209.5,198.1 210.5,200.2 211.5,199.9 212.5,199.2 213.5,198.8 214.5,201.1 215.5,200.9 216.5,200.3 217.5,200.2 218.5,201.9 219.5,201.2 220.5,202.6 221.5,203.2 222.5,203.1 223.5,203.3 224.5,204.2 225.5,203.6 226.5,203.4 227.5,205 228.5,204.2 229.5,204.6 230.5,206 231.5,205.2 232.5,205.8 233.5,205.6 234.5,206.3 235.5,207.2 236.5,206.8 237.5,204.9 238.5,206.1 239.5,205.2 240.5,205.3 241.5,205 242.5,203.6 243.5,203.8 244.5,205 245.5,202.9 246.5,203.8 247.5,203.2 248.5,202.5 249.5,202.9 250.5,200.4 251.5,201.2 252.5,200 253.5,199 254.5,198.4 255.5,198.4 256.5,197.9 257.5,199.1 258.5,198.5 259.5,200.7 260.5,199.9 261.5,199.9 262.5,202.3 263.5,201.4 264.5,201.8 265.5,202.9 266.5,201.9 267.5,201.8 268.5,203.6 269.5,203.6 270.5,203.7 271.5,203.5 272.5,204.4 273.5,205 274.5,205.3 275.5,206.6 276.5,205.3 277.5,207.4 278.5,205.7 279.5,206.4 280.5,207.6 281.5,207.3 282.5,209.1 283.5,209 284.5,208 285.5,208.4 286.5,207.4 287.5,208.9 288.5,209.2 289.5,208.8 290.5,208.4 291.5,207.9 292.5,208.3 293.5,210.2 294.5,210.1 295.5,210.8 296.5,210.7 297.5,211 298.5,211.2 299.5,211.1 300.5,212.5 301.5,213 302.5,212.8 303.5,211.9 304.5,212.7 305.5,212.3 306.5,212.3 307.5,212.7 308.5,214.3 309.5,212.6 310.5,214.2 311.5,214.2 312.5,215 313.5,215.6 314.5,214.6 315.5,216.4 316.5,215.3 317.5,217.2 318.5,217 319.5,218 320.5,217.5 321.5,218.5 322.5,221.1 323.5,221.9 324.5,222.2 325.5,222.9 326.5,224.8 327.5,224 328.5,223.3 329.5,222 330.5,222.7 331.5,222 332.5,220.3 333.5,219 334.5,218 335.5,216.7 336.5,215.3 337.5,214.1 338.5,212.7 339.5,211.8 340.5,211 341.5,210 342.5,208.2 343.5,207 344.5,204.4 345.5,202.4 346.5,198.5 347.5,196.8 348.5,192.3 349.5,189.5 350.5,186.5 351.5,183.6 352.5,181.1 353.5,180.9 354.5,179.8 355.5,178.6 356.5,180.1 357.5,180.5 358.5,180.3 359.5,180.9 360.5,182.4 361.5,185.1 362.5,185.4 363.5,189 364.5,189.3 365.5,193.4 366.5,194.2 366.5,137.7 22.5,137.7Z"/>
<path fill="#ff0000" d="M22.5,178.9 23.5,178.7 24.5,180 25.5,178.9 26.5,179.4 27.5,179.5 28.5,180.3 29.5,181.7 30.5,181.6 31.5,181.2 32.5,181.3 33.5,181.6 34.5,181.7 35.5,183.5 36.5,184.3 37.5,184.5 38.5,184.8 39.5,185.3 40.5,185.4 41.5,187 42.5,186.8 43.5,186.5 44.5,186.9 45.5,187.7 46.5,187.8 47.5,187.9 48.5,188.4 49.5,187.1 50.5,187.8 51.5,185.7 52.5,186.4 53.5,185.4 54.5,184.2 55.5,183.2 56.5,184 57.5,183.1 58.5,182.6 59.5,181.8 60.5,181.3 61.5,180 62.5,179.8 63.5,180.1 64.5,178.1 65.5,180.2 66.5,178.8 67.5,178.7 68.5,179.7 69.5,180.5 70.5,180.1 71.5,180 72.5,179.6 73.5,179.4 74.5,179.9 75.5,179 76.5,179.1 77.5,179.2 78.5,178.9 79.5,179.9 80.5,181.3 81.5,181.1 82.5,181.4 83.5,181.5 84.5,183.1 85.5,182.2 86.5,182.5 87.5,182.3 88.5,183.5 89.5,183.5 90.5,182.5 91.5,182.8 92.5,184.2 93.5,183.4 94.5,184.1 95.5,184.2 96.5,185 97.5,184.1 98.5,185.1 99.5,185.8 100.5,184.7 101.5,185.1 102.5,184.3 103.5,183.4 104.5,182.8 105.5,183.9 106.5,182.6 107.5,182.8 108.5,183.3 109.5,182.8 110.5,182.1 111.5,183 112.5,184.2 113.5,183 114.5,182.6 115.5,182.7 116.5,184.3 117.5,183 118.5,184.3 119.5,184.7 120.5,184.3 121.5,183.5 122.5,183.5 123.5,184.2 124.5,184.1 125.5,183.4 126.5,182.5 127.5,182.8 128.5,183.4 129.5,181.6 130.5,182.4 131.5,182.7 132.5,182.4 133.5,181 134.5,182.4 135.5,182.1 136.5,181.6 137.5,183.6 138.5,183.2 139.5,182.8 140.5,184.9 141.5,184.9 142.5,185.4 143.5,185.7 144.5,186.3 145.5,186.4 146.5,186.5 147.5,185.4 148.5,187.4 149.5,185.8 150.5,186 151.5,186.7 152.5,187.1 153.5,185.7 154.5,186 155.5,186.8 156.5,188.5 157.5,187.8 158.5,190.9 159.5,190.3 160.5,191.3 161.5,190.2 162.5,191.6 163.5,190.8 164.5,190.1 165.5,191.2 166.5,190.7 167.5,190.2 168.5,190.1 169.5,190.8 170.5,192.1 171.5,191.8 172.5,190.7 173.5,192.4 174.5,192 175.5,191.8 176.5,191.6 177.5,191.4 178.5,191.1 179.5,191.2 180.5,190.9 181.5,192.2 182.5,193.1 183.5,193.6 184.5,193.2 185.5,194 186.5,193.1 187.5,194.4 188.5,195.3 189.5,194 190.5,194.4 191.5,195.1 192.5,194.5 193.5,195.7 194.5,195 195.5,195 196.5,193.9 197.5,195 198.5,193.8 199.5,194.8 200.5,195.3 201.5,194.5 202.5,194.9 203.5,194.4 204.5,193 205.5,194.6 206.5,193.3 207.5,193.4 208.5,192.8 209.5,193 210.5,193.6 211.5,194.7 212.5,194.8 213.5,194 214.5,194.9 215.5,195.2 216.5,194.7 217.5,195.4 218.5,195.9 219.5,195.2 220.5,195.4 221.5,197.2 222.5,196.7 223.5,198.4 224.5,197.9 225.5,198.4 226.5,198.9 227.5,199.2 228.5,199.2 229.5,198.5 230.5,199 231.5,198.8 232.5,198.2 233.5,198.5 234.5,198 235.5,199.5 236.5,198.2 237.5,198.8 238.5,199.3 239.5,198.9 240.5,197 241.5,197.9 242.5,198.2 243.5,195.8 244.5,197.4 245.5,196.9 246.5,195.2 247.5,194.9 248.5,194.4 249.5,193.9 250.5,193.3 251.5,194.1 252.5,192.1 253.5,193.6 254.5,192.4 255.5,193.2 256.5,193.3 257.5,191.5 258.5,193.6 259.5,193.4 260.5,194.4 261.5,194.3 262.5,195 263.5,193.5 264.5,194.2 265.5,195 266.5,194 267.5,195.8 268.5,195.4 269.5,195.8 270.5,196.5 271.5,197.1 272.5,195.8 273.5,197.6 274.5,196.9 275.5,197 276.5,196.2 277.5,197.5 278.5,196.7 279.5,196.5 280.5,197.4 281.5,198.4 282.5,198.2 283.5,197.4 284.5,197 285.5,198.6 286.5,199.3 287.5,199.4 288.5,199.9 289.5,200.8 290.5,200.1 291.5,201.6 292.5,201.4 293.5,200.6 294.5,201.5 295.5,203 296.5,201.9 297.5,203.2 298.5,203.3 299.5,202.9 300.5,203.1 301.5,202.7 302.5,203.3 303.5,204.1 304.5,202.9 305.5,203.8 306.5,203.1 307.5,204.4 308.5,202.9 309.5,203.8 310.5,203.1 311.5,205.5 312.5,205.7 313.5,205.8 314.5,206.8 315.5,207.3 316.5,207.8 317.5,210 318.5,208.8 319.5,209.9 320.5,210 321.5,211.9 322.5,212.1 323.5,212.5 324.5,212.7 325.5,214.1 326.5,214 327.5,214.2 328.5,214.9 329.5,213.5 330.5,214 331.5,212.5 332.5,211.7 333.5,212.1 334.5,210.9 335.5,211.1 336.5,209.6 337.5,206.9 338.5,206.6 339.5,206 340.5,203.6 341.5,203.1 342.5,201.2 343.5,200.3 344.5,197.6 345.5,196.3 346.5,193.2 347.5,191 348.5,189.2 349.5,187.5 350.5,183.5 351.5,181.3 352.5,178.2 353.5,175.9 354.5,174.3 355.5,175.3 356.5,174.7 357.5,175.3 358.5,176.9 359.5,178.2 360.5,180.8 361.5,181.3 362.5,183.8 363.5,184.9 364.5,185.8 365.5,187 366.5,187.7 366.5,137.7 22.5,137.7Z"/>
<path fill="#6699ff" d="M22.5,175.8 23.5,175 24.5,176.6 25.5,175.5 26.5,177.1 27.5,175.2 28.5,176.4 29.5,174.7 30.5,174.9 31.5,177.5 32.5,175.4 33.5,175.6 34.5,177.7 35.5,176.2 36.5,178.4 37.5,178.6 38.5,177.3 39.5,178.3 40.5,177.4 41.5,179.7 42.5,178.6 43.5,177.8 44.5,180 45.5,179.8 46.5,179 47.5,179.9 48.5,178.9 49.5,180.2 50.5,178.8 51.5,178.3 52.5,179.2 53.5,176.9 54.5,175.9 55.5,178.6 56.5,177 57.5,176 58.5,176.4 59.5,178.5 60.5,176.8 61.5,175.5 62.5,176.2 63.5,174.9 64.5,177 65.5,174.7 66.5,176.4 67.5,174.3 68.5,174.5 69.5,174.8 70.5,174.2 71.5,175.7 72.5,176.2 73.5,176.4 74.5,175.4 75.5,176 76.5,173.8 77.5,175.6 78.5,175.2 79.5,172.7 80.5,173.3 81.5,175.8 82.5,174.7 83.5,176.2 84.5,175 85.5,175.7 86.5,177.7 87.5,177.4 88.5,175.3 89.5,176.2 90.5,177.4 91.5,175.7 92.5,175.1 93.5,175.9 94.5,175.6 95.5,177.2 96.5,177.5 97.5,178.5 98.5,177 99.5,178.5 100.5,175.8 101.5,176.1 102.5,176.1 103.5,175.5 104.5,176.8 105.5,175.9 106.5,178.5 107.5,176.6 108.5,178.5 109.5,176.3 110.5,178 111.5,176.8 112.5,177.9 113.5,176.7 114.5,175.9 115.5,177.3 116.5,176.5 117.5,179 118.5,178.3 119.5,178.7 120.5,177.9 121.5,178.8 122.5,178.5 123.5,179.2 124.5,180.3 125.5,178.5 126.5,179.9 127.5,177.9 128.5,177.1 129.5,178 130.5,177.7 131.5,177.1 132.5,177.1 133.5,177.4 134.5,178.2 135.5,179 136.5,179.8 137.5,179.6 138.5,178.9 139.5,178.5 140.5,178.8 141.5,178.9 142.5,177.2 143.5,178.4 144.5,178 145.5,178.8 146.5,176.4 147.5,179 148.5,175.9 149.5,175.7 150.5,176.4 151.5,174.3 152.5,175.9 153.5,173.7 154.5,175.6 155.5,174.2 156.5,176.6 157.5,176.1 158.5,177.3 159.5,178.7 160.5,178.9 161.5,179.6 162.5,181.9 163.5,180.9 164.5,181.4 165.5,183 166.5,183 167.5,184.2 168.5,182.9 169.5,184.5 170.5,183.8 171.5,182.4 172.5,182.3 173.5,184.4 174.5,185.3 175.5,184.3 176.5,184.9 177.5,186.1 178.5,186.5 179.5,187.7 180.5,188.1 181.5,187.6 182.5,188.3 183.5,189 184.5,189 185.5,188.9 186.5,188.1 187.5,188.7 188.5,186.6 189.5,188.9 190.5,188.6 191.5,189.1 192.5,187.6 193.5,189 194.5,187.7 195.5,186.5 196.5,186.7 197.5,188.3 198.5,185.4 199.5,184.9 200.5,186.3 201.5,184.9 202.5,184.2 203.5,181 204.5,181 205.5,182 206.5,182.6 207.5,183.8 208.5,183.9 209.5,183.8 210.5,186.4 211.5,187.1 212.5,185.6 213.5,186.5 214.5,187.8 215.5,186.8 216.5,185.5 217.5,188 218.5,187.2 219.5,187.5 220.5,187.4 221.5,188.6 222.5,187.9 223.5,185.9 224.5,186.4 225.5,186.7 226.5,185.9 227.5,186.3 228.5,188.3 229.5,187.5 230.5,185.5 231.5,188 232.5,185.8 233.5,187 234.5,188.5 235.5,188 236.5,187 237.5,188.8 238.5,186.7 239.5,187.5 240.5,187.9 241.5,186.5 242.5,187.1 243.5,187.1 244.5,186.9 245.5,185.3 246.5,185.1 247.5,187.2 248.5,184.6 249.5,186.8 250.5,186.1 251.5,185.4 252.5,185.1 253.5,183.6 254.5,184 255.5,184.1 256.5,183.8 257.5,185.1 258.5,184.6 259.5,184.9 260.5,185.3 261.5,186.7 262.5,185 263.5,184.6 264.5,187.4 265.5,187.5 266.5,186.7 267.5,186.6 268.5,186.9 269.5,188.1 270.5,187.9 271.5,189.3 272.5,189.2 273.5,188.9 274.5,187.6 275.5,186.9 276.5,187.6 277.5,187.7 278.5,188.5 279.5,187.7 280.5,188.4 281.5,189.2 282.5,187.4 283.5,189.1 284.5,188.1 285.5,189.9 286.5,190.6 287.5,190 288.5,188.5 289.5,188.5 290.5,190.1 291.5,189.2 292.5,189.3 293.5,190.9 294.5,190.5 295.5,191.3 296.5,191.4 297.5,193.7 298.5,194.5 299.5,193.7 300.5,193.7 301.5,195 302.5,192.7 303.5,193.9 304.5,195.7 305.5,195.5 306.5,194.1 307.5,194.5 308.5,195.3 309.5,198 310.5,199.1 311.5,199.1 312.5,198.3 313.5,198.6 314.5,199.8 315.5,199.6 316.5,201.2 317.5,201.7 318.5,201.9 319.5,203.7 320.5,203.7 321.5,203.6 322.5,205.7 323.5,205.5 324.5,205.2 325.5,205.8 326.5,206.4 327.5,206.5 328.5,206.9 329.5,208.1 330.5,207.7 331.5,205 332.5,205.9 333.5,204.9 334.5,202.8 335.5,203 336.5,201.8 337.5,199.3 338.5,199.2 339.5,196.8 340.5,195.4 341.5,196.8 342.5,194.7 343.5,194.1 344.5,192.6 345.5,190.8 346.5,186.5 347.5,184.9 348.5,182.1 349.5,179.6 350.5,176.7 351.5,173.5 352.5,170.8 353.5,169.7 354.5,169 355.5,168.3 356.5,168.9 357.5,171.5 358.5,171 359.5,171.3 360.5,174 361.5,177.5 362.5,179.3 363.5,180.4 364.5,184.5 365.5,187.3 366.5,187.8 366.5,137.7 22.5,137.7Z"/>
<path fill="#ff0000" d="M22.5,166.9 23.5,165.9 24.5,167.4 25.5,168 26.5,168.2 27.5,167.4 28.5,166.5 29.5,165.9 30.5,166.5 31.5,167.2 32.5,169.1 33.5,169.2 34.5,169.2 35.5,168 36.5,170.7 37.5,171 38.5,169.5 39.5,170.3 40.5,171.3 41.5,172.1 42.5,171.3 43.5,173.8 44.5,171.6 45.5,174.3 46.5,173.6 47.5,171.7 48.5,174.1 49.5,173.2 50.5,173.2 51.5,170.4 52.5,169.8 53.5,171.2 54.5,170.1 55.5,169.9 56.5,171 57.5,169.9 58.5,169.9 59.5,169.6 60.5,171.6 61.5,170.8 62.5,168.1 63.5,170.1 64.5,167.5 65.5,166.2 66.5,166.5 67.5,165.9 68.5,165.4 69.5,166.7 70.5,168.5 71.5,168.2 72.5,166.3 73.5,167.3 74.5,167.1 75.5,169.3 76.5,166.2 77.5,167.8 78.5,168.1 79.5,169.4 80.5,168.9 81.5,167.6 82.5,169.1 83.5,168.5 84.5,170.6 85.5,167.6 86.5,170.4 87.5,170.6 88.5,168.3 89.5,169.6 90.5,168.8 91.5,168.8 92.5,170.2 93.5,171.7 94.5,169.3 95.5,170 96.5,170.5 97.5,170.8 98.5,172.1 99.5,170.9 100.5,172 101.5,170.5 102.5,171.6 103.5,171.5 104.5,168.7 105.5,169.6 106.5,170.2 107.5,168.1 108.5,169.3 109.5,168.1 110.5,170.2 111.5,168.4 112.5,169 113.5,169.8 114.5,169.2 115.5,169.4 116.5,168.9 117.5,169.5 118.5,170.4 119.5,170.2 120.5,172.3 121.5,170.3 122.5,172.1 123.5,171.4 124.5,171.5 125.5,171.6 126.5,171.1 127.5,173.2 128.5,170.8 129.5,172.7 130.5,173.1 131.5,172 132.5,171.1 133.5,172 134.5,171.6 135.5,171.4 136.5,168.9 137.5,168.2 138.5,168.5 139.5,170.4 140.5,170 141.5,168.4 142.5,168.7 143.5,168.8 144.5,169.1 145.5,168.7 146.5,170.4 147.5,168.2 148.5,170.3 149.5,170.1 150.5,170.2 151.5,170 152.5,171.7 153.5,172.2 154.5,171.8 155.5,171.2 156.5,174.6 157.5,173.5 158.5,174 159.5,173.2 160.5,172 161.5,172.5 162.5,171.8 163.5,172.2 164.5,171.4 165.5,171.1 166.5,171.3 167.5,173.3 168.5,171.3 169.5,173.2 170.5,174.1 171.5,173.7 172.5,173.9 173.5,173 174.5,173.5 175.5,174.9 176.5,174.1 177.5,175.3 178.5,175.8 179.5,174.4 180.5,176.6 181.5,175.2 182.5,176.7 183.5,176.8 184.5,176 185.5,176.9 186.5,176.8 187.5,176.4 188.5,177.3 189.5,176.3 190.5,174.1 191.5,176.1 192.5,173.3 193.5,173.1 194.5,174.3 195.5,173.7 196.5,173.7 197.5,173.6 198.5,174 199.5,172.7 200.5,173.1 201.5,173.9 202.5,172.3 203.5,170.9 204.5,172 205.5,170.8 206.5,170.1 207.5,170.7 208.5,171 209.5,171.8 210.5,171.9 211.5,173.6 212.5,173.4 213.5,173.3 214.5,173.8 215.5,175.5 216.5,173.9 217.5,173.3 218.5,174.5 219.5,175.2 220.5,175.6 221.5,172.4 222.5,174.8 223.5,174.3 224.5,173.2 225.5,174.6 226.5,173.1 227.5,174.8 228.5,175.5 229.5,176.7 230.5,176.6 231.5,174.4 232.5,175.4 233.5,175.8 234.5,173.4 235.5,174.1 236.5,173.1 237.5,173.7 238.5,175.1 239.5,175 240.5,173.5 241.5,173 242.5,174 243.5,172.6 244.5,173.2 245.5,173.7 246.5,173.7 247.5,174 248.5,173.4 249.5,172.4 250.5,174.7 251.5,173.7 252.5,173.1 253.5,174.3 254.5,172.3 255.5,172.9 256.5,171.9 257.5,174.9 258.5,174.5 259.5,174.5 260.5,173 261.5,173.5 262.5,174.4 263.5,173.4 264.5,173.9 265.5,173.5 266.5,174.2 267.5,172.8 268.5,174.1 269.5,175.1 270.5,173.4 271.5,174.8 272.5,174.7 273.5,177 274.5,177.5 275.5,177 276.5,176.9 277.5,174.6 278.5,174.8 279.5,176.4 280.5,176.9 281.5,176.3 282.5,176.1 283.5,176.7 284.5,177.7 285.5,176.7 286.5,175.9 287.5,177.3 288.5,176 289.5,176.7 290.5,177.9 291.5,177.5 292.5,177.4 293.5,177.8 294.5,179.6 295.5,177.6 296.5,177.7 297.5,177.3 298.5,177.3 299.5,179.2 300.5,177.9 301.5,179.4 302.5,176.6 303.5,178.5 304.5,178.9 305.5,179.8 306.5,180.6 307.5,180.7 308.5,180.9 309.5,180.1 310.5,181.2 311.5,181.8 312.5,182.3 313.5,179.8 314.5,181.7 315.5,181.2 316.5,182.1 317.5,184.6 318.5,185.6 319.5,184.3 320.5,185.4 321.5,184.6 322.5,186.4 323.5,184.2 324.5,186 325.5,185.2 326.5,185.4 327.5,184.1 328.5,186.2 329.5,184.6 330.5,186.1 331.5,184 332.5,184.6 333.5,183.2 334.5,184.5 335.5,181.9 336.5,183.6 337.5,183.3 338.5,180.2 339.5,179.2 340.5,179.7 341.5,178.8 342.5,178.1 343.5,175.3 344.5,174.7 345.5,172.3 346.5,172.6 347.5,169.8 348.5,166.8 349.5,164 350.5,162.7 351.5,163.6 352.5,164.3 353.5,163.1 354.5,162.8 355.5,166.6 356.5,164.5 357.5,166 358.5,168.7 359.5,168.7 360.5,171.1 361.5,170.7 362.5,172.3 363.5,174.7 364.5,175.4 365.5,179.3 366.5,177.2 366.5,137.7 22.5,137.7Z"/>
<path fill="#6699ff" d="M22.5,156.7 23.5,156 24.5,156.2 25.5,155.6 26.5,155.7 27.5,156.4 28.5,158.4 29.5,156.8 30.5,158.5 31.5,156.5 32.5,157.6 33.5,158.1 34.5,157.2 35.5,156.7 36.5,159.6 37.5,158.8 38.5,160 39.5,160 40.5,160.2 41.5,159.6 42.5,160.1 43.5,160.7 44.5,161.3 45.5,161.1 46.5,162.5 47.5,160.8 48.5,161.5 49.5,161.6 50.5,159.9 51.5,160.5 52.5,159 53.5,159.6 54.5,158.5 55.5,157.9 56.5,157.3 57.5,158.6 58.5,157.5 59.5,156 60.5,156.5 61.5,156.1 62.5,156.5 63.5,157.5 64.5,157.5 65.5,156 66.5,158.1 67.5,156.9 68.5,156.7 69.5,156.2 70.5,156.9 71.5,156 72.5,156.2 73.5,158.8 74.5,157.1 75.5,155.8 76.5,158.3 77.5,158.3 78.5,156.4 79.5,157.1 80.5,156.1 81.5,157.9 82.5,156.9 83.5,157.4 84.5,158.4 85.5,156.6 86.5,158.9 87.5,159 88.5,158.4 89.5,157.6 90.5,157.8 91.5,159.2 92.5,158.3 93.5,157 94.5,157.8 95.5,158.2 96.5,159.1 97.5,158.2 98.5,159.4 99.5,157 100.5,159.1 101.5,156.8 102.5,156.8 103.5,156.7 104.5,156.8 105.5,158.6 106.5,157.6 107.5,159.1 108.5,159.8 109.5,158.6 110.5,157.7 111.5,158 112.5,159.5 113.5,157.3 114.5,158.6 115.5,158.2 116.5,159 117.5,158.5 118.5,159.6 119.5,159 120.5,160.3 121.5,160.7 122.5,159 123.5,160.8 124.5,161.1 125.5,159.4 126.5,160.2 127.5,160.9 128.5,160.7 129.5,160.1 130.5,160.5 131.5,159.5 132.5,159.5 133.5,157.6 134.5,159.2 135.5,158.2 136.5,157.4 137.5,159.2 138.5,159 139.5,160.2 140.5,159.6 141.5,157.8 142.5,159.4 143.5,157.8 144.5,160 145.5,160.5 146.5,158.5 147.5,160.2 148.5,159.1 149.5,160.2 150.5,158.1 151.5,159.5 152.5,158.5 153.5,159.5 154.5,159.3 155.5,158.4 156.5,161 157.5,161 158.5,161.5 159.5,160 160.5,161.7 161.5,161.4 162.5,159.3 163.5,161.3 164.5,160.7 165.5,161.6 166.5,158.8 167.5,158.6 168.5,158.9 169.5,159.1 170.5,158.9 171.5,161.5 172.5,160.5 173.5,159.2 174.5,159.9 175.5,159.9 176.5,160.2 177.5,160.3 178.5,160.8 179.5,161.3 180.5,160.3 181.5,161.8 182.5,161.1 183.5,159.8 184.5,161.3 185.5,161.3 186.5,159.4 187.5,160.1 188.5,161.8 189.5,162.4 190.5,162.3 191.5,160.6 192.5,160 193.5,160.6 194.5,160 195.5,161.4 196.5,159.5 197.5,160.8 198.5,160.4 199.5,161.8 200.5,161.5 201.5,159.9 202.5,160.2 203.5,160.1 204.5,161.1 205.5,162 206.5,160.8 207.5,160.3 208.5,160.5 209.5,160 210.5,159.4 211.5,161.7 212.5,160.2 213.5,159.9 214.5,161 215.5,160.2 216.5,161.2 217.5,162.2 218.5,160.9 219.5,163 220.5,160.9 221.5,161 222.5,163.1 223.5,162.1 224.5,161.2 225.5,163.1 226.5,162.6 227.5,161 228.5,161.5 229.5,160.3 230.5,162.5 231.5,162 232.5,160.1 233.5,162.9 234.5,161.2 235.5,162.8 236.5,161 237.5,163.3 238.5,162.3 239.5,163.1 240.5,161.2 241.5,160.9 242.5,163.5 243.5,162.2 244.5,161.1 245.5,162 246.5,160.9 247.5,161.2 248.5,161.4 249.5,160.9 250.5,161.2 251.5,162 252.5,161.1 253.5,160.3 254.5,160.5 255.5,161.1 256.5,160.7 257.5,160.4 258.5,159.1 259.5,159.8 260.5,161.2 261.5,160 262.5,161.6 263.5,163 264.5,162.1 265.5,163.1 266.5,163.7 267.5,164.2 268.5,164.6 269.5,162.2 270.5,162.7 271.5,164.4 272.5,164.4 273.5,162.5 274.5,161.3 275.5,162.3 276.5,162.9 277.5,162.4 278.5,162.4 279.5,160.6 280.5,160.9 281.5,163.5 282.5,164.6 283.5,163.4 284.5,165.4 285.5,165.8 286.5,164.9 287.5,165.5 288.5,165.4 289.5,166.9 290.5,164.5 291.5,164.6 292.5,164.9 293.5,167 294.5,166.6 295.5,166.1 296.5,166.7 297.5,166.3 298.5,166.7 299.5,165.9 300.5,166 301.5,163.8 302.5,163.9 303.5,164.7 304.5,162.9 305.5,162.7 306.5,163.5 307.5,164.6 308.5,165.5 309.5,164.3 310.5,163.5 311.5,163.8 312.5,165.8 313.5,165.6 314.5,164.9 315.5,163.9 316.5,165.2 317.5,165.1 318.5,166.5 319.5,165.4 320.5,166.1 321.5,167.5 322.5,167.7 323.5,167.4 324.5,168.3 325.5,166.3 326.5,166.2 327.5,167.1 328.5,165.6 329.5,161.7 330.5,158.5 331.5,156.7 332.5,154 333.5,153.4 334.5,152 335.5,151.8 336.5,152.4 337.5,150.8 338.5,152 339.5,149.8 340.5,151.1 341.5,149.1 342.5,151.3 343.5,150.5 344.5,148.5 345.5,150.1 346.5,148.6 347.5,148.4 348.5,147.5 349.5,148 350.5,148.8 351.5,148.3 352.5,147.4 353.5,148.3 354.5,148.1 355.5,147.4 356.5,147.6 357.5,146.3 358.5,145.1 359.5,145.8 360.5,146.1 361.5,146 362.5,146.3 363.5,145.5 364.5,147 365.5,145.7 366.5,145.5 366.5,137.7 22.5,137.7Z"/>
<path fill="#ff0000" d="M22.5,150.3 23.5,147.6 24.5,150 25.5,148.8 26.5,150.6 27.5,149 28.5,150.7 29.5,151.8 30.5,152.7 31.5,150.5 32.5,152.1 33.5,153 34.5,150.8 35.5,151.1 36.5,153.7 37.5,153.1 38.5,152.9 39.5,152.3 40.5,154.1 41.5,152.3 42.5,154.8 43.5,152.9 44.5,154.7 45.5,152.4 46.5,152.3 47.5,151.8 48.5,153.1 49.5,152 50.5,151.8 51.5,154.2 52.5,151.9 53.5,153.4 54.5,150.9 55.5,150.5 56.5,150.5 57.5,151 58.5,148.2 59.5,147.7 60.5,148.9 61.5,147.5 62.5,147.6 63.5,146.5 64.5,146.9 65.5,148.8 66.5,148.2 67.5,148.1 68.5,146.9 69.5,149.1 70.5,147.5 71.5,147.9 72.5,147.5 73.5,149.6 74.5,147.8 75.5,147.8 76.5,148.8 77.5,149.5 78.5,147.4 79.5,147.1 80.5,148.9 81.5,146.8 82.5,148.3 83.5,149 84.5,149.2 85.5,148.3 86.5,149.9 87.5,148.9 88.5,150.9 89.5,148.3 90.5,149.8 91.5,151.3 92.5,148.9 93.5,151.7 94.5,152.2 95.5,151.7 96.5,150.5 97.5,151 98.5,150.2 99.5,151 100.5,152 101.5,150.2 102.5,149.8 103.5,151.6 104.5,151.3 105.5,149.9 106.5,151 107.5,150 108.5,150.3 109.5,148.8 110.5,149.5 111.5,150.2 112.5,149.2 113.5,150.1 114.5,150.6 115.5,150.7 116.5,151.4 117.5,149 118.5,149.6 119.5,150.1 120.5,147.8 121.5,150.2 122.5,149.8 123.5,147.9 124.5,149.1 125.5,148.3 126.5,149.1 127.5,148.5 128.5,149.5 129.5,150.3 130.5,148.7 131.5,149.6 132.5,149.1 133.5,150.2 134.5,150.3 135.5,149 136.5,149.4 137.5,149.6 138.5,147.7 139.5,148.4 140.5,148.4 141.5,149.5 142.5,150.6 143.5,149.6 144.5,149.5 145.5,149.8 146.5,149.3 147.5,150 148.5,151.6 149.5,150.3 150.5,151.2 151.5,149.7 152.5,150.1 153.5,151.1 154.5,149.8 155.5,148.9 156.5,149.6 157.5,149.9 158.5,151.5 159.5,150.9 160.5,151.2 161.5,150.2 162.5,151.9 163.5,150.9 164.5,151.7 165.5,150.3 166.5,149.5 167.5,149.8 168.5,150.4 169.5,150.1 170.5,150 171.5,150.3 172.5,150.3 173.5,151.1 174.5,151.8 175.5,152.3 176.5,152.7 177.5,151.7 178.5,150.8 179.5,149.5 180.5,151.7 181.5,152.2 182.5,149.5 183.5,152.6 184.5,150.7 185.5,151.6 186.5,150.6 187.5,153.3 188.5,151 189.5,153.4 190.5,152.5 191.5,150.9 192.5,152.2 193.5,150.2 194.5,149.1 195.5,148.6 196.5,150 197.5,148.5 198.5,150 199.5,147.7 200.5,148.9 201.5,149.2 202.5,148.5 203.5,149.3 204.5,150.7 205.5,150.1 206.5,148.4 207.5,149 208.5,150.4 209.5,149.7 210.5,150.5 211.5,151.3 212.5,149.8 213.5,150.8 214.5,150.9 215.5,151.8 216.5,150.6 217.5,149.7 218.5,149.6 219.5,149.5 220.5,150.4 221.5,150.6 222.5,151.2 223.5,149.3 224.5,149 225.5,149 226.5,150.3 227.5,148.3 228.5,147.8 229.5,149.2 230.5,149.6 231.5,148 232.5,149.4 233.5,148.2 234.5,148.5 235.5,149.1 236.5,146.3 237.5,145.9 238.5,147.4 239.5,145.7 240.5,147.3 241.5,145.2 242.5,146.4 243.5,145.2 244.5,145.8 245.5,147.3 246.5,145.7 247.5,145.6 248.5,146.2 249.5,144.7 250.5,145 251.5,145.3 252.5,145.7 253.5,145.2 254.5,144.8 255.5,143.7 256.5,143.7 257.5,145.6 258.5,145.3 259.5,146.3 260.5,145.1 261.5,144.3 262.5,145.6 263.5,147.5 264.5,145 265.5,145.6 266.5,147.4 267.5,145.6 268.5,147.9 269.5,145.9 270.5,147.9 271.5,146.9 272.5,147 273.5,146.2 274.5,146.6 275.5,146.2 276.5,146.8 277.5,144.6 278.5,147 279.5,145.1 280.5,145.2 281.5,146.5 282.5,147.2 283.5,147.6 284.5,148.5 285.5,147 286.5,147.7 287.5,146.8 288.5,147.5 289.5,147.8 290.5,149.2 291.5,149.3 292.5,149.2 293.5,149.1 294.5,148.9 295.5,148.9 296.5,147 297.5,146.9 298.5,146.8 299.5,147.1 300.5,147.6 301.5,146.4 302.5,145.3 303.5,145.7 304.5,147 305.5,147.9 306.5,147.7 307.5,147.8 308.5,149.6 309.5,149.8 310.5,150.2 311.5,148.8 312.5,149.2 313.5,149.6 314.5,149.7 315.5,150.8 316.5,151.3 317.5,150.6 318.5,151 319.5,151.6 320.5,149.7 321.5,152 322.5,149.6 323.5,151.5 324.5,150.8 325.5,151.2 326.5,149.7 327.5,151 328.5,148.7 329.5,149.5 330.5,148 331.5,148.8 332.5,149.3 333.5,149 334.5,150.1 335.5,148.3 336.5,148.2 337.5,149 338.5,148.1 339.5,149.1 340.5,147.3 341.5,148.9 342.5,148.5 343.5,146 344.5,148 345.5,147 346.5,146.8 347.5,145.7 348.5,146.5 349.5,143.3 350.5,145.5 351.5,142.2 352.5,142.7 353.5,144.4 354.5,142.3 355.5,142.9 356.5,144 357.5,142.5 358.5,142.8 359.5,144.9 360.5,144.4 361.5,145 362.5,145.7 363.5,145.7 364.5,145.1 365.5,143.7 366.5,144.5 366.5,137.7 22.5,137.7Z"/>
<path fill="#6699ff" d="M22.5,145.3 23.5,146.3 24.5,145.3 25.5,145.7 26.5,144.3 27.5,145.7 28.5,143.3 29.5,145.2 30.5,145.4 31.5,144.5 32.5,145.1 33.5,145.8 34.5,146.4 35.5,145.5 36.5,146.6 37.5,146.3 38.5,145.7 39.5,144.5 40.5,144.3 41.5,144.1 42.5,145.8 43.5,144.8 44.5,145.4 45.5,145.8 46.5,146.2 47.5,145.3 48.5,145.9 49.5,145.6 50.5,146.6 51.5,145.7 52.5,146.6 53.5,146.6 54.5,144.8 55.5,145.9 56.5,145.7 57.5,146.2 58.5,145.1 59.5,146.1 60.5,144.9 61.5,145.9 62.5,146.3 63.5,143.2 64.5,145.3 65.5,145 66.5,142.6 67.5,144.4 68.5,144.6 69.5,142.7 70.5,144 71.5,144.2 72.5,145.2 73.5,145.1 74.5,144.9 75.5,145.8 76.5,143.6 77.5,144.7 78.5,145.3 79.5,146.3 80.5,144.6 81.5,145.1 82.5,144.1 83.5,144.3 84.5,145.8 85.5,143.7 86.5,144.4 87.5,142.8 88.5,144.2 89.5,144.2 90.5,142.7 91.5,143.4 92.5,142.7 93.5,144.1 94.5,142.9 95.5,143.8 96.5,144.9 97.5,143.3 98.5,146.5 99.5,145.1 100.5,144 101.5,145.8 102.5,146.4 103.5,144.8 104.5,143.9 105.5,145.5 106.5,146 107.5,143.7 108.5,145.6 109.5,145.8 110.5,146.4 111.5,145 112.5,145.7 113.5,146.8 114.5,147.7 115.5,147.9 116.5,145.6 117.5,147.9 118.5,147.4 119.5,148.3 120.5,147.7 121.5,147.5 122.5,146.3 123.5,146.9 124.5,146.3 125.5,145.8 126.5,145.9 127.5,145.1 128.5,146.2 129.5,145.6 130.5,144.7 131.5,145.5 132.5,146.1 133.5,145.5 134.5,147.2 135.5,145.3 136.5,145.5 137.5,144.2 138.5,144.5 139.5,144.7 140.5,145.4 141.5,146.5 142.5,146.2 143.5,145.1 144.5,144.4 145.5,144.6 146.5,145.2 147.5,147.4 148.5,145.2 149.5,147.4 150.5,146.5 151.5,146.7 152.5,147.4 153.5,147.9 154.5,147.6 155.5,146.6 156.5,147.9 157.5,145.7 158.5,147.6 159.5,144.9 160.5,147.3 161.5,146.7 162.5,147.1 163.5,145.1 164.5,144.9 165.5,145.8 166.5,145.1 167.5,146 168.5,146 169.5,146.3 170.5,148.3 171.5,147.2 172.5,146 173.5,148.6 174.5,146.5 175.5,146.6 176.5,147.3 177.5,150 178.5,149.2 179.5,150.1 180.5,150.5 181.5,150 182.5,148.5 183.5,151 184.5,150.1 185.5,149.5 186.5,151.3 187.5,151 188.5,149.8 189.5,148.1 190.5,149.2 191.5,147.2 192.5,146.7 193.5,148.3 194.5,148 195.5,146 196.5,146.5 197.5,147.6 198.5,146.1 199.5,146.7 200.5,149.1 201.5,148.9 202.5,148 203.5,148.9 204.5,147.9 205.5,145.8 206.5,147 207.5,147.4 208.5,146.2 209.5,146.1 210.5,145.1 211.5,147.8 212.5,145.5 213.5,146.1 214.5,146.6 215.5,147.5 216.5,149.2 217.5,146.6 218.5,148.3 219.5,148.1 220.5,145.9 221.5,145.7 222.5,148.3 223.5,147.5 224.5,145.6 225.5,145.9 226.5,146.2 227.5,144.8 228.5,146.4 229.5,146.4 230.5,146 231.5,144.4 232.5,144.1 233.5,144.3 234.5,144.3 235.5,145.1 236.5,145.5 237.5,145.4 238.5,146.3 239.5,145.3 240.5,147.5 241.5,147.4 242.5,147.6 243.5,146.9 244.5,147 245.5,146.2 246.5,144.5 247.5,146.6 248.5,146.6 249.5,145.4 250.5,146.4 251.5,144.9 252.5,145.8 253.5,145 254.5,145.4 255.5,144 256.5,143.8 257.5,142.8 258.5,142.8 259.5,142 260.5,142 261.5,142.8 262.5,142.7 263.5,144.9 264.5,144.7 265.5,145.3 266.5,145.1 267.5,145.4 268.5,144.7 269.5,144.5 270.5,144.8 271.5,146.4 272.5,146.4 273.5,145.9 274.5,146.2 275.5,146.7 276.5,144.8 277.5,146 278.5,145.6 279.5,147 280.5,146.6 281.5,147.2 282.5,145.9 283.5,147.4 284.5,145.4 285.5,147.7 286.5,147.3 287.5,148.2 288.5,145.5 289.5,145.6 290.5,145.8 291.5,147.7 292.5,147.9 293.5,147.7 294.5,148.9 295.5,148.6 296.5,147.8 297.5,148.2 298.5,149.3 299.5,148.8 300.5,149.2 301.5,149 302.5,147.1 303.5,148.8 304.5,146.8 305.5,148.4 306.5,147.9 307.5,146.3 308.5,148.5 309.5,146.5 310.5,146.9 311.5,147.6 312.5,146.9 313.5,148.3 314.5,147.8 315.5,148 316.5,146.7 317.5,147 318.5,147.8 319.5,147.3 320.5,147.2 321.5,147.8 322.5,149.2 323.5,147.8 324.5,150.6 325.5,150.5 326.5,150.3 327.5,148.3 328.5,150.1 329.5,147.1 330.5,148.4 331.5,146.2 332.5,147.8 333.5,145.7 334.5,147.7 335.5,145 336.5,144.7 337.5,144.9 338.5,146.4 339.5,143.6 340.5,143.2 341.5,144.4 342.5,143.4 343.5,145.3 344.5,145 345.5,145 346.5,144.6 347.5,142.6 348.5,143.2 349.5,140.1 350.5,141 351.5,139.5 352.5,140.5 353.5,139.6 354.5,140.9 355.5,139 356.5,140.3 357.5,141.2 358.5,142.2 359.5,142.1 360.5,140.8 361.5,143.3 362.5,143 363.5,142.7 364.5,141.9 365.5,141.2 366.5,141.7 366.5,134.7 22.5,134.7Z"/>
</g>
<g clip-path="url(#c14)">
<path fill="#6699ff" d="M393.6,183.6 394.6,185.3 395.6,185.7 396.6,185.9 397.6,188.5 398.6,188.4 399.6,190.8 400.6,191.1 401.6,188.9 402.6,190.7 403.6,189.6 404.6,189.4 405.6,191.1 406.6,189.6 407.6,188.9 408.6,188.9 409.6,190.1 410.6,189.4 411.6,189.5 412.6,190.2 413.6,190.3 414.6,188.9 415.6,188.1 416.6,188.5 417.6,189.5 418.6,187.7 419.6,189.4 420.6,187.7 421.6,189.5 422.6,187.9 423.6,189.3 424.6,187.5 425.6,187.8 426.6,186.6 427.6,193.6 428.6,186.4 429.6,187.8 430.6,186.4 431.6,187.1 432.6,186.7 433.6,184.8 434.6,187.2 435.6,187.2 436.6,187.3 437.6,186.6 438.6,187.1 439.6,187.2 440.6,189.8 441.6,187 442.6,186.4 443.6,186.6 444.6,185.2 445.6,185.5 446.6,189.5 447.6,187.1 448.6,187.3 449.6,188 450.6,189.3 451.6,189.6 452.6,188.2 453.6,190.8 454.6,190.9 455.6,190 456.6,189.5 457.6,188.9 458.6,190.1 459.6,189.6 460.6,187.9 461.6,190.1 462.6,188.2 463.6,189.8 464.6,189.6 465.6,189.1 466.6,188.8 467.6,189.4 468.6,189.9 469.6,188.8 470.6,188.9 471.6,189.5 472.6,187.2 473.6,189.4 474.6,187.3 475.6,186.9 476.6,189 477.6,188.2 478.6,189.1 479.6,189.4 480.6,187.4 481.6,187.9 482.6,195.1 483.6,187.7 484.6,188.1 485.6,193.1 486.6,190.4 487.6,188.3 488.6,189 489.6,187.5 490.6,189.5 491.6,192.2 492.6,189.9 493.6,187.3 494.6,188.5 495.6,189.4 496.6,189.3 497.6,192.2 498.6,192.3 499.6,194.5 500.6,198.3 501.6,193 502.6,192.4 503.6,192.6 504.6,189.3 505.6,191.2 506.6,188.3 507.6,191.7 508.6,188.8 509.6,192.4 510.6,192.8 511.6,194.1 512.6,197.7 513.6,200.3 514.6,200.4 515.6,200.8 516.6,199.7 517.6,197 518.6,197.8 519.6,195.7 520.6,194.8 521.6,193.5 522.6,195.6 523.6,196.1 524.6,198.8 525.6,199.8 526.6,199.9 527.6,201.1 528.6,203.7 529.6,203.1 530.6,205 531.6,205.2 532.6,204.7 533.6,205.4 534.6,205.6 535.6,207.2 536.6,207.3 537.6,206.7 538.6,207.9 539.6,207.2 540.6,207.2 541.6,208.9 542.6,212 543.6,208.2 544.6,209.7 545.6,209.5 546.6,210.6 547.6,209.6 548.6,211.5 549.6,210.7 550.6,212.3 551.6,210.3 552.6,212 553.6,206.4 554.6,203.3 555.6,204.9 556.6,201.3 557.6,199.7 558.6,200.6 559.6,198.8 560.6,200 561.6,198.6 562.6,199.9 563.6,198.2 564.6,199.7 565.6,200.5 566.6,200.5 567.6,201.4 568.6,202.2 569.6,201.7 570.6,202.5 571.6,203.2 572.6,203.8 573.6,206.1 574.6,209.1 575.6,205.8 576.6,207.4 577.6,206.5 578.6,205.9 579.6,206.7 580.6,206.7 581.6,209.6 582.6,207.7 583.6,207.6 584.6,210 585.6,209.9 586.6,207.8 587.6,210 588.6,210 589.6,208.5 590.6,209.7 591.6,209.8 592.6,209.3 593.6,208.3 594.6,207.2 595.6,208 596.6,208.5 597.6,210.8 598.6,206.4 599.6,208.4 600.6,206.8 601.6,207.1 602.6,211.8 603.6,204.1 604.6,204.9 605.6,202.8 606.6,203.2 607.6,203.5 608.6,199.7 609.6,200.1 610.6,199.4 611.6,197.5 612.6,198.5 613.6,197.9 614.6,198.8 615.6,198.8 616.6,199.9 617.6,198.8 618.6,200.9 619.6,202.1 620.6,206.6 621.6,204.1 622.6,207.4 623.6,206.4 624.6,206.8 625.6,207.7 626.6,209.9 627.6,207.4 628.6,209.1 629.6,207.8 630.6,209.5 631.6,210.8 632.6,207.8 633.6,209.5 634.6,209.1 635.6,209.7 636.6,208.8 637.6,213.1 638.6,209.6 639.6,212.6 640.6,211.2 641.6,212.8 642.6,215.8 643.6,215.6 644.6,216.9 645.6,216 646.6,217.6 647.6,217.2 648.6,215.9 649.6,214 650.6,211.7 651.6,211.5 652.6,211.9 653.6,213.3 654.6,214.5 655.6,215.5 656.6,215.7 657.6,217.4 658.6,218.7 659.6,217.2 660.6,217.3 661.6,217.7 662.6,219.9 663.6,214.1 664.6,214.2 665.6,214.7 666.6,217.9 667.6,214.5 668.6,213.8 669.6,211.9 670.6,214 671.6,213 672.6,213.3 673.6,212.6 674.6,212.6 675.6,209.8 676.6,211.7 677.6,210.1 678.6,212 679.6,212 680.6,214.4 681.6,215.8 682.6,215.6 683.6,217.3 684.6,218.6 685.6,221.4 686.6,221 687.6,223.2 688.6,223.9 689.6,226.2 690.6,227.4 691.6,228.4 692.6,229.4 693.6,228.4 694.6,229.9 695.6,230.6 696.6,228 697.6,225.8 698.6,223 699.6,219 700.6,214.4 701.6,211.6 702.6,209.1 703.6,208.4 704.6,207.2 705.6,203.9 706.6,204.1 707.6,203.7 708.6,201 709.6,200.3 710.6,198.9 711.6,195.9 712.6,195.5 713.6,193.6 714.6,191.5 715.6,188.3 716.6,183.1 717.6,177.5 718.6,174.2 719.6,175.4 720.6,177.7 721.6,182 722.6,185.4 723.6,192.1 724.6,195.3 725.6,197.9 726.6,196.1 726.6,138.7 393.6,138.7Z"/>
<path fill="#ff0000" d="M393.6,182.9 394.6,180.4 395.6,182.8 396.6,181.6 397.6,182.3 398.6,183.2 399.6,184.6 400.6,183.8 401.6,183.8 402.6,185 403.6,185.1 404.6,184.5 405.6,186.9 406.6,186.5 407.6,188.2 408.6,186.3 409.6,187.2 410.6,189 411.6,188.3 412.6,187.2 413.6,186.4 414.6,184.3 415.6,186.3 416.6,184.5 417.6,184.8 418.6,185.3 419.6,185.2 420.6,185.9 421.6,183.7 422.6,183.1 423.6,183.5 424.6,183.7 425.6,182.9 426.6,182.3 427.6,181.7 428.6,183.5 429.6,181.6 430.6,183.4 431.6,184 432.6,181 433.6,182.5 434.6,182.3 435.6,180.9 436.6,180.4 437.6,181.7 438.6,181.1 439.6,182.3 440.6,180.9 441.6,180.3 442.6,180.8 443.6,183.6 444.6,182.9 445.6,184.4 446.6,183.9 447.6,183.6 448.6,184 449.6,182.9 450.6,184.7 451.6,183.8 452.6,183.6 453.6,184.7 454.6,185.4 455.6,185.7 456.6,184.3 457.6,184.6 458.6,183.3 459.6,185.2 460.6,184.3 461.6,184.7 462.6,183.3 463.6,183.7 464.6,185 465.6,184.5 466.6,185 467.6,183.2 468.6,184.1 469.6,185.3 470.6,184.1 471.6,185.1 472.6,186.4 473.6,186.3 474.6,186.9 475.6,185.1 476.6,186 477.6,185 478.6,185.1 479.6,184.5 480.6,185.8 481.6,185 482.6,185 483.6,182.5 484.6,184.8 485.6,183.8 486.6,183.9 487.6,182.9 488.6,184.4 489.6,185 490.6,182.9 491.6,185.2 492.6,183.4 493.6,182.4 494.6,183.1 495.6,183.2 496.6,183.5 497.6,184 498.6,185.2 499.6,183.4 500.6,185.2 501.6,185.4 502.6,185.5 503.6,187.1 504.6,186.3 505.6,186.4 506.6,186.4 507.6,184.8 508.6,186.2 509.6,185.4 510.6,183.9 511.6,185.3 512.6,184.7 513.6,184.5 514.6,184.4 515.6,185.6 516.6,183.3 517.6,185 518.6,185.1 519.6,185 520.6,183.5 521.6,184.1 522.6,184.9 523.6,184.7 524.6,186.5 525.6,186.8 526.6,184.9 527.6,185.3 528.6,185.1 529.6,186.6 530.6,187.6 531.6,186.7 532.6,185.4 533.6,187.9 534.6,186.7 535.6,185.7 536.6,186.2 537.6,187.4 538.6,188.4 539.6,188.9 540.6,188.4 541.6,189.4 542.6,187.7 543.6,188.2 544.6,188.9 545.6,190.2 546.6,188.5 547.6,189.4 548.6,188.6 549.6,189.1 550.6,188 551.6,188.8 552.6,190 553.6,189 554.6,189.2 555.6,187.8 556.6,186.4 557.6,187.6 558.6,186.8 559.6,186.6 560.6,188.6 561.6,187.4 562.6,187.5 563.6,189.4 564.6,190.2 565.6,189.3 566.6,188.2 567.6,188.2 568.6,188.7 569.6,188.3 570.6,187.1 571.6,186.3 572.6,188.1 573.6,187.7 574.6,186.6 575.6,185.8 576.6,186.9 577.6,188.2 578.6,190.4 579.6,189.8 580.6,191.2 581.6,190 582.6,191 583.6,190.1 584.6,188.3 585.6,190.2 586.6,191 587.6,190.4 588.6,191.2 589.6,191.3 590.6,189.4 591.6,189.7 592.6,191.8 593.6,192.1 594.6,190.3 595.6,191.2 596.6,190.5 597.6,188.8 598.6,189.8 599.6,189.6 600.6,188.1 601.6,188.4 602.6,188.5 603.6,188.1 604.6,187.9 605.6,189.2 606.6,187 607.6,187 608.6,189.1 609.6,186.5 610.6,186.6 611.6,187 612.6,187 613.6,188.6 614.6,187 615.6,188.7 616.6,187.5 617.6,188.6 618.6,187.1 619.6,187.8 620.6,188.7 621.6,186.1 622.6,186.4 623.6,187.4 624.6,185.5 625.6,185.8 626.6,186.5 627.6,186.9 628.6,185.8 629.6,186.3 630.6,187.2 631.6,186 632.6,185.6 633.6,187.3 634.6,188.2 635.6,187 636.6,186.3 637.6,186.2 638.6,188.3 639.6,188 640.6,187.4 641.6,187.2 642.6,189.2 643.6,190.8 644.6,189.6 645.6,191.5 646.6,189.6 647.6,190.8 648.6,191.4 649.6,192.9 650.6,190.5 651.6,193.5 652.6,191.2 653.6,191.3 654.6,192.4 655.6,193.3 656.6,193.2 657.6,190.9 658.6,193 659.6,190.7 660.6,192.4 661.6,189.7 662.6,189.5 663.6,190 664.6,189.4 665.6,190.2 666.6,189.9 667.6,190.8 668.6,190.6 669.6,188.4 670.6,190.4 671.6,188.3 672.6,189.5 673.6,190.5 674.6,190.8 675.6,189.7 676.6,192.3 677.6,191.7 678.6,193.5 679.6,193.4 680.6,194.3 681.6,196.2 682.6,196.2 683.6,195.4 684.6,196.7 685.6,197.5 686.6,196.9 687.6,196 688.6,197.9 689.6,197.1 690.6,195 691.6,196.5 692.6,197.3 693.6,195.7 694.6,194.4 695.6,194.6 696.6,197.2 697.6,194.5 698.6,193.7 699.6,191.7 700.6,190 701.6,187.8 702.6,188 703.6,188 704.6,187.3 705.6,185.5 706.6,185.1 707.6,183.7 708.6,185.6 709.6,184.1 710.6,182.9 711.6,184 712.6,181.3 713.6,181.3 714.6,180.2 715.6,179.6 716.6,177.5 717.6,177.8 718.6,176.9 719.6,176.2 720.6,174.1 721.6,173.8 722.6,175.1 723.6,180.8 724.6,182.1 725.6,186.5 726.6,186.6 726.6,138.7 393.6,138.7Z"/>
<path fill="#6699ff" d="M393.6,173.4 394.6,175.1 395.6,174.3 396.6,177 397.6,176.6 398.6,176.8 399.6,177.6 400.6,175.5 401.6,177.7 402.6,177.6 403.6,176.4 404.6,176.9 405.6,177.8 406.6,177.5 407.6,178.2 408.6,178.1 409.6,178.7 410.6,178.8 411.6,177.2 412.6,178.4 413.6,177 414.6,178.1 415.6,178.9 416.6,177.4 417.6,179.6 418.6,178.1 419.6,178.5 420.6,178.1 421.6,176.3 422.6,175.9 423.6,174.9 424.6,176.3 425.6,175 426.6,175.1 427.6,174.8 428.6,175.9 429.6,175.1 430.6,174.7 431.6,176.9 432.6,174.6 433.6,174.7 434.6,175.1 435.6,176.5 436.6,174.7 437.6,175.8 438.6,173.9 439.6,175.8 440.6,175.8 441.6,174.8 442.6,175.4 443.6,174.3 444.6,174.7 445.6,174.9 446.6,174.6 447.6,176.5 448.6,175.5 449.6,176.1 450.6,176.1 451.6,177.6 452.6,176.2 453.6,178.3 454.6,176.7 455.6,178.1 456.6,178.6 457.6,179.3 458.6,177.7 459.6,178.1 460.6,179.4 461.6,178.5 462.6,176.8 463.6,177 464.6,176.5 465.6,177.8 466.6,176.4 467.6,178 468.6,177.5 469.6,176.4 470.6,177.5 471.6,176.6 472.6,178.2 473.6,176.1 474.6,178.3 475.6,176.9 476.6,175.9 477.6,177 478.6,175.6 479.6,177.4 480.6,176.5 481.6,176.2 482.6,177 483.6,175.6 484.6,175.8 485.6,177.5 486.6,177.3 487.6,176 488.6,177.2 489.6,177.2 490.6,176.7 491.6,175.8 492.6,176.3 493.6,175.1 494.6,175.6 495.6,176.2 496.6,177.1 497.6,176.7 498.6,174.9 499.6,174.3 500.6,175.6 501.6,174.3 502.6,176.9 503.6,176 504.6,175.3 505.6,176.3 506.6,177.7 507.6,176.3 508.6,176.3 509.6,175.7 510.6,177.2 511.6,175.4 512.6,175.4 513.6,175.4 514.6,176.3 515.6,175.5 516.6,175.8 517.6,174.7 518.6,174.9 519.6,174.5 520.6,173.3 521.6,173.3 522.6,173.3 523.6,174.2 524.6,175.8 525.6,175.8 526.6,174.1 527.6,176.1 528.6,175.6 529.6,174.4 530.6,174.5 531.6,175.1 532.6,174.9 533.6,176.1 534.6,177.8 535.6,176.9 536.6,177.8 537.6,176 538.6,175.8 539.6,177.1 540.6,176.3 541.6,176 542.6,178.6 543.6,177.6 544.6,177.3 545.6,177.1 546.6,179.5 547.6,179.1 548.6,180 549.6,177.8 550.6,180.1 551.6,180.4 552.6,179.6 553.6,178.4 554.6,178.1 555.6,178.5 556.6,175.3 557.6,175.6 558.6,176.7 559.6,177.2 560.6,175.4 561.6,175.7 562.6,175.7 563.6,176.1 564.6,178.2 565.6,177.4 566.6,177.3 567.6,176.5 568.6,176 569.6,178 570.6,178 571.6,178 572.6,177.9 573.6,178.3 574.6,179.3 575.6,177.6 576.6,177 577.6,179.5 578.6,179.2 579.6,178.4 580.6,178.2 581.6,179.1 582.6,179.1 583.6,178.1 584.6,177.7 585.6,179 586.6,177.7 587.6,178.6 588.6,177.7 589.6,178.4 590.6,176.9 591.6,177.3 592.6,178 593.6,178.1 594.6,175.8 595.6,176.3 596.6,175.3 597.6,176.7 598.6,177.2 599.6,175.8 600.6,175.5 601.6,176.4 602.6,176.4 603.6,175.5 604.6,175.9 605.6,176.7 606.6,177 607.6,176.7 608.6,175.3 609.6,177.6 610.6,177.6 611.6,177.1 612.6,178 613.6,178 614.6,177.1 615.6,176 616.6,176.6 617.6,174.9 618.6,176.4 619.6,174.9 620.6,175.6 621.6,174.6 622.6,174.3 623.6,174.8 624.6,174.6 625.6,174.9 626.6,176.3 627.6,174.6 628.6,175 629.6,175.1 630.6,175.4 631.6,175.7 632.6,176.3 633.6,176.8 634.6,176.2 635.6,176.4 636.6,177.3 637.6,178.9 638.6,178.8 639.6,179 640.6,177.2 641.6,177.7 642.6,179.2 643.6,177.6 644.6,177.9 645.6,178.6 646.6,178.5 647.6,178.5 648.6,178.2 649.6,178.3 650.6,179.5 651.6,178.8 652.6,179.1 653.6,179.5 654.6,180.7 655.6,180.6 656.6,181.7 657.6,179.7 658.6,181.6 659.6,180 660.6,181 661.6,180 662.6,180.2 663.6,180.8 664.6,181.6 665.6,179.4 666.6,180.6 667.6,182 668.6,181.2 669.6,182.6 670.6,181.9 671.6,182.5 672.6,181.9 673.6,183.2 674.6,183.2 675.6,184 676.6,184.4 677.6,184.2 678.6,183.4 679.6,182.9 680.6,182.8 681.6,184.7 682.6,185.2 683.6,185.2 684.6,184.2 685.6,184.4 686.6,186 687.6,184.3 688.6,184.4 689.6,184.8 690.6,185 691.6,184.1 692.6,185 693.6,183.2 694.6,185.3 695.6,183.2 696.6,185.2 697.6,184.7 698.6,183.2 699.6,183.2 700.6,183.2 701.6,181.9 702.6,181.3 703.6,178.9 704.6,179.3 705.6,177.8 706.6,176.8 707.6,178 708.6,178.4 709.6,176.7 710.6,178.9 711.6,176.9 712.6,178.8 713.6,177.6 714.6,176.7 715.6,177.1 716.6,174.8 717.6,175.1 718.6,172.9 719.6,171.1 720.6,170.8 721.6,170.2 722.6,168.5 723.6,168 724.6,170 725.6,169.9 726.6,169.3 726.6,138.7 393.6,138.7Z"/>
<path fill="#ffcccc" d="M393.6,167.5 394.6,168.2 395.6,167.5 396.6,168.9 397.6,168.3 398.6,169.4 399.6,170.2 400.6,169.9 401.6,168.3 402.6,170 403.6,170.6 404.6,169.5 405.6,168.9 406.6,170.3 407.6,168.2 408.6,168.8 409.6,169 410.6,167.4 411.6,167.3 412.6,168.3 413.6,168.2 414.6,166.5 415.6,166.1 416.6,167.5 417.6,166 418.6,166.5 419.6,167.9 420.6,166.4 421.6,166.9 422.6,167.8 423.6,166.1 424.6,166.5 425.6,167 426.6,165.9 427.6,165.9 428.6,167.6 429.6,168.2 430.6,166.3 431.6,167.4 432.6,167.7 433.6,167.4 434.6,165.5 435.6,167.7 436.6,166.8 437.6,168 438.6,166.8 439.6,166 440.6,167.7 441.6,167.2 442.6,166.6 443.6,165.4 444.6,165.4 445.6,166.5 446.6,166.7 447.6,165.7 448.6,166.7 449.6,166.9 450.6,167.6 451.6,167.7 452.6,168.8 453.6,168.4 454.6,168.7 455.6,169.7 456.6,170.4 457.6,170.4 458.6,170.2 459.6,168.9 460.6,169.4 461.6,169.6 462.6,169.8 463.6,170.2 464.6,170.6 465.6,169.9 466.6,170 467.6,171.3 468.6,170 469.6,168.9 470.6,170.7 471.6,171.1 472.6,168.9 473.6,169.3 474.6,168.9 475.6,171.6 476.6,170.7 477.6,170.2 478.6,171.3 479.6,171.1 480.6,170.1 481.6,170.9 482.6,171.5 483.6,171 484.6,171.3 485.6,169.2 486.6,169.2 487.6,170 488.6,169.5 489.6,171.1 490.6,172.4 491.6,175.8 492.6,176.3 493.6,175.1 494.6,175.6 495.6,176.2 496.6,177.1 497.6,176.7 498.6,174.9 499.6,174.3 500.6,175.6 501.6,174.3 502.6,176.9 503.6,176 504.6,175.3 505.6,176.3 506.6,177.7 507.6,176.3 508.6,176.3 509.6,175.7 510.6,177.2 511.6,175.4 512.6,175.4 513.6,175.4 514.6,176.3 515.6,175.5 516.6,175.8 517.6,174.7 518.6,174.9 519.6,174.5 520.6,173.3 521.6,173.3 522.6,173.3 523.6,174.2 524.6,175.8 525.6,175.8 526.6,174.1 527.6,176.1 528.6,175.6 529.6,174.4 530.6,174.5 531.6,175.1 532.6,174.9 533.6,176.1 534.6,177.8 535.6,176.9 536.6,177.8 537.6,176 538.6,175.8 539.6,177.1 540.6,176.3 541.6,176 542.6,178.6 543.6,177.6 544.6,177.3 545.6,177.1 546.6,179.5 547.6,179.1 548.6,180 549.6,177.8 550.6,180.1 551.6,180.4 552.6,179.6 553.6,178.4 554.6,178.1 555.6,178.5 556.6,175.3 557.6,175.6 558.6,176.7 559.6,177.2 560.6,175.4 561.6,175.7 562.6,175.7 563.6,176.1 564.6,178.2 565.6,177.4 566.6,177.3 567.6,176.5 568.6,176 569.6,178 570.6,178 571.6,178 572.6,177.9 573.6,178.3 574.6,179.3 575.6,177.6 576.6,177 577.6,179.5 578.6,179.2 579.6,178.4 580.6,178.2 581.6,179.1 582.6,179.1 583.6,178.1 584.6,177.7 585.6,179 586.6,177.7 587.6,178.6 588.6,177.7 589.6,178.4 590.6,176.9 591.6,177.3 592.6,178 593.6,178.1 594.6,175.8 595.6,176.3 596.6,175.3 597.6,176.7 598.6,177.2 599.6,175.8 600.6,175.5 601.6,176.4 602.6,176.4 603.6,175.5 604.6,175.9 605.6,176.7 606.6,177 607.6,176.7 608.6,175.3 609.6,177.6 610.6,177.6 611.6,177.1 612.6,178 613.6,178 614.6,177.1 615.6,176 616.6,176.6 617.6,174.9 618.6,176.4 619.6,174.9 620.6,175.6 621.6,174.6 622.6,174.3 623.6,174.8 624.6,174.6 625.6,174.9 626.6,176.3 627.6,174.6 628.6,175 629.6,175.1 630.6,175.4 631.6,175.7 632.6,176.3 633.6,176.8 634.6,176.2 635.6,176.4 636.6,177.3 637.6,178.9 638.6,178.8 639.6,179 640.6,177.2 641.6,177.7 642.6,179.2 643.6,177.6 644.6,177.9 645.6,178.6 646.6,178.5 647.6,178.5 648.6,178.2 649.6,178.3 650.6,179.5 651.6,178.8 652.6,179.1 653.6,179.5 654.6,180.7 655.6,180.6 656.6,181.7 657.6,179.7 658.6,181.6 659.6,180 660.6,181 661.6,180 662.6,180.2 663.6,180.8 664.6,181.6 665.6,179.4 666.6,180.6 667.6,182 668.6,181.2 669.6,182.6 670.6,181.9 671.6,182.5 672.6,181.9 673.6,183.2 674.6,183.2 675.6,184 676.6,184.4 677.6,184.2 678.6,183.4 679.6,182.9 680.6,182.8 681.6,184.7 682.6,185.2 683.6,185.2 684.6,184.2 685.6,184.4 686.6,186 687.6,184.3 688.6,184.4 689.6,184.8 690.6,185 691.6,184.1 692.6,185 693.6,183.2 694.6,185.3 695.6,183.2 696.6,185.2 697.6,184.7 698.6,183.2 699.6,183.2 700.6,183.2 701.6,181.9 702.6,181.3 703.6,178.9 704.6,179.3 705.6,177.8 706.6,176.8 707.6,178 708.6,178.4 709.6,176.7 710.6,178.9 711.6,176.9 712.6,178.8 713.6,177.6 714.6,176.7 715.6,177.1 716.6,174.8 717.6,175.1 718.6,172.9 719.6,171.1 720.6,170.8 721.6,170.2 722.6,168.5 723.6,168 724.6,170 725.6,169.9 726.6,169.3 726.6,138.7 393.6,138.7Z"/>
<path fill="#6699ff" d="M393.6,157.7 394.6,158.5 395.6,160.3 396.6,159.6 397.6,159.3 398.6,157.5 399.6,158.2 400.6,157.7 401.6,156.7 402.6,158.5 403.6,155.8 404.6,158.4 405.6,156.3 406.6,157.5 407.6,156.4 408.6,156.5 409.6,156.8 410.6,157.5 411.6,155.1 412.6,155.8 413.6,155.7 414.6,156.5 415.6,155 416.6,157 417.6,156.3 418.6,157.2 419.6,157.6 420.6,156.5 421.6,155.6 422.6,155.8 423.6,158.5 424.6,156.6 425.6,156.5 426.6,158.4 427.6,156 428.6,156 429.6,156.1 430.6,156.3 431.6,156.5 432.6,156.2 433.6,156.8 434.6,155.5 435.6,155 436.6,155.8 437.6,156.6 438.6,155.1 439.6,156.5 440.6,156.2 441.6,155 442.6,156.3 443.6,154.8 444.6,155.8 445.6,155.5 446.6,158 447.6,156.6 448.6,158.2 449.6,159.3 450.6,158.3 451.6,159.1 452.6,160.1 453.6,158.3 454.6,159.3 455.6,158.8 456.6,159.4 457.6,160.3 458.6,159.5 459.6,159.3 460.6,159.8 461.6,158.7 462.6,159.4 463.6,158.6 464.6,157.8 465.6,157.4 466.6,158.1 467.6,157 468.6,158.4 469.6,157.6 470.6,158.9 471.6,158.6 472.6,158.4 473.6,158.4 474.6,157.7 475.6,156.5 476.6,157.7 477.6,156.9 478.6,157.4 479.6,157 480.6,156.3 481.6,157.4 482.6,157.9 483.6,156.2 484.6,157.2 485.6,156.2 486.6,156.3 487.6,158.3 488.6,156.2 489.6,160.5 490.6,166.3 491.6,165.8 492.6,165.8 493.6,164.6 494.6,165.6 495.6,164.3 496.6,166.6 497.6,165.8 498.6,164.9 499.6,166 500.6,165.3 501.6,164.4 502.6,165.8 503.6,165.2 504.6,166.4 505.6,165.5 506.6,165.3 507.6,165.3 508.6,166.5 509.6,165.9 510.6,167.3 511.6,167.3 512.6,168.1 513.6,167.6 514.6,165.6 515.6,166.2 516.6,166.2 517.6,166.1 518.6,168.2 519.6,168 520.6,168.4 521.6,168.6 522.6,168.7 523.6,169.4 524.6,167.4 525.6,168.1 526.6,168.8 527.6,168.2 528.6,168.4 529.6,167.8 530.6,166.3 531.6,166.4 532.6,167.4 533.6,167.2 534.6,166.5 535.6,167 536.6,165.1 537.6,166.7 538.6,165 539.6,167.5 540.6,166.5 541.6,166 542.6,166.8 543.6,166.3 544.6,165.4 545.6,165 546.6,165.3 547.6,166.9 548.6,167 549.6,166.9 550.6,167.3 551.6,166.5 552.6,167.6 553.6,165.9 554.6,166.8 555.6,166.6 556.6,168.6 557.6,165.9 558.6,167.3 559.6,167.1 560.6,166.9 561.6,167.4 562.6,166.3 563.6,168.4 564.6,167.6 565.6,167.7 566.6,168.1 567.6,166.6 568.6,168.5 569.6,168.4 570.6,167.1 571.6,167.2 572.6,166.5 573.6,166.8 574.6,165.4 575.6,166.7 576.6,166.1 577.6,165.7 578.6,167.7 579.6,165.5 580.6,166.4 581.6,168.8 582.6,169.1 583.6,167.7 584.6,169.2 585.6,168.4 586.6,168.8 587.6,168.2 588.6,167.9 589.6,167.9 590.6,167.7 591.6,169 592.6,166.3 593.6,166.7 594.6,167.3 595.6,167.2 596.6,168 597.6,169.1 598.6,167 599.6,169 600.6,167.6 601.6,168.3 602.6,166 603.6,165.4 604.6,164.8 605.6,167.3 606.6,165.3 607.6,165.2 608.6,164.8 609.6,166.5 610.6,166.4 611.6,167.1 612.6,165.9 613.6,165.8 614.6,166.4 615.6,166.8 616.6,166.7 617.6,164.1 618.6,164 619.6,165.7 620.6,163.9 621.6,165.5 622.6,164.3 623.6,164.8 624.6,166.4 625.6,164.8 626.6,165.7 627.6,165 628.6,167.7 629.6,166.9 630.6,165.8 631.6,166.5 632.6,167.3 633.6,167 634.6,166.9 635.6,167.7 636.6,167.7 637.6,167.8 638.6,166.4 639.6,166.4 640.6,168.4 641.6,166.5 642.6,166.7 643.6,168.4 644.6,166.7 645.6,167.9 646.6,168.9 647.6,168.4 648.6,166.9 649.6,167.4 650.6,167 651.6,169.7 652.6,170 653.6,168.5 654.6,170.7 655.6,169.4 656.6,168.3 657.6,169.5 658.6,170.6 659.6,170.6 660.6,168 661.6,169.1 662.6,167.9 663.6,167.6 664.6,167.9 665.6,167.7 666.6,166.5 667.6,166.6 668.6,167 669.6,165.6 670.6,166.1 671.6,165.6 672.6,166.2 673.6,167.1 674.6,168.4 675.6,167.9 676.6,167.9 677.6,169.5 678.6,169.3 679.6,169.1 680.6,170.8 681.6,169.8 682.6,171.4 683.6,169.2 684.6,169 685.6,169.2 686.6,168.7 687.6,168.7 688.6,169.9 689.6,167.9 690.6,168.1 691.6,167.8 692.6,169.9 693.6,167.2 694.6,169.1 695.6,169.3 696.6,168.1 697.6,167.6 698.6,168 699.6,168 700.6,168.6 701.6,166.4 702.6,166.4 703.6,167.4 704.6,165.6 705.6,167.3 706.6,165.4 707.6,164.6 708.6,166 709.6,165.9 710.6,163.9 711.6,164 712.6,162 713.6,162.6 714.6,162.4 715.6,161 716.6,160.6 717.6,160.1 718.6,160.4 719.6,158.6 720.6,159.2 721.6,161.6 722.6,163.7 723.6,163.5 724.6,164.6 725.6,165.6 726.6,165.3 726.6,138.7 393.6,138.7Z"/>
<path fill="#006633" d="M393.6,142.5 394.6,142.8 395.6,143.7 396.6,144.7 397.6,144.4 398.6,145.6 399.6,144.4 400.6,144.8 401.6,144.6 402.6,144.7 403.6,145.4 404.6,145.5 405.6,146.4 406.6,144.9 407.6,145.8 408.6,144.5 409.6,146.2 410.6,144.8 411.6,145.6 412.6,146.4 413.6,145.3 414.6,146 415.6,144.5 416.6,145.6 417.6,144.9 418.6,144.5 419.6,144.2 420.6,144.6 421.6,146 422.6,144.2 423.6,144.9 424.6,144.9 425.6,145.9 426.6,145.6 427.6,143.3 428.6,144.4 429.6,143.8 430.6,142.6 431.6,143.7 432.6,144.9 433.6,143.9 434.6,143.6 435.6,144.1 436.6,143.5 437.6,144.1 438.6,145.3 439.6,145.7 440.6,143.4 441.6,145.5 442.6,144.5 443.6,145.3 444.6,143.2 445.6,143.9 446.6,144.9 447.6,144.7 448.6,144.7 449.6,145.8 450.6,144.2 451.6,145.5 452.6,145.5 453.6,146.3 454.6,145.6 455.6,145.5 456.6,147 457.6,147.3 458.6,145 459.6,144.9 460.6,146.4 461.6,145.1 462.6,144.2 463.6,145.4 464.6,146 465.6,143.7 466.6,143.5 467.6,143.1 468.6,144.9 469.6,145.2 470.6,144.4 471.6,143.7 472.6,144.3 473.6,145.6 474.6,145.9 475.6,145.1 476.6,145.8 477.6,145.5 478.6,144.3 479.6,144.9 480.6,144.7 481.6,144 482.6,144 483.6,144.8 484.6,146.4 485.6,145.2 486.6,146.1 487.6,145 488.6,146 489.6,144.8 490.6,145.8 491.6,145.7 492.6,145.9 493.6,143.7 494.6,144.9 495.6,144.3 496.6,146.1 497.6,144.9 498.6,145.7 499.6,145.3 500.6,143.7 501.6,145.9 502.6,144.7 503.6,145.3 504.6,145.7 505.6,144.3 506.6,145.1 507.6,145.4 508.6,143.7 509.6,145 510.6,143.3 511.6,143.8 512.6,144.7 513.6,143.8 514.6,145.4 515.6,144.8 516.6,145.4 517.6,144.2 518.6,144.6 519.6,146 520.6,145 521.6,145 522.6,143.6 523.6,142.8 524.6,143.8 525.6,143.9 526.6,141.7 527.6,143.5 528.6,143.1 529.6,143.1 530.6,143.3 531.6,144.8 532.6,143.9 533.6,143.7 534.6,144.2 535.6,143.5 536.6,143.4 537.6,142.4 538.6,142.8 539.6,144 540.6,143.5 541.6,144.3 542.6,143.2 543.6,144.2 544.6,143.2 545.6,143.4 546.6,143.5 547.6,144 548.6,144.3 549.6,143.6 550.6,142.9 551.6,144.2 552.6,142.3 553.6,144.3 554.6,142.2 555.6,143.4 556.6,143.3 557.6,140.9 558.6,141.1 559.6,142.2 560.6,143.8 561.6,144.2 562.6,142.7 563.6,144.1 564.6,143.8 565.6,143.3 566.6,144.8 567.6,144.3 568.6,143.3 569.6,144 570.6,145.2 571.6,145.2 572.6,144.8 573.6,143.7 574.6,143.7 575.6,145 576.6,145.2 577.6,145.5 578.6,144.4 579.6,144.2 580.6,144.8 581.6,143.4 582.6,143.4 583.6,142.5 584.6,143.8 585.6,141.5 586.6,143.8 587.6,143.5 588.6,143.9 589.6,143.1 590.6,143.9 591.6,141.7 592.6,142.4 593.6,144.1 594.6,141.7 595.6,142.8 596.6,142.9 597.6,143.8 598.6,143.7 599.6,143.3 600.6,142.6 601.6,142.2 602.6,143.8 603.6,143.6 604.6,142.5 605.6,143.3 606.6,144.1 607.6,143.9 608.6,142.9 609.6,143.6 610.6,141.7 611.6,143.4 612.6,142.8 613.6,140.8 614.6,141.5 615.6,141.5 616.6,141.5 617.6,141.4 618.6,143.3 619.6,142.5 620.6,141.6 621.6,141.4 622.6,141.2 623.6,142.8 624.6,140.8 625.6,140.9 626.6,140.2 627.6,140.5 628.6,139.8 629.6,141.8 630.6,140.1 631.6,142 632.6,141.6 633.6,142.9 634.6,142.8 635.6,142.7 636.6,143.2 637.6,142.1 638.6,143.1 639.6,144.3 640.6,143.3 641.6,143.4 642.6,144.9 643.6,143.8 644.6,144.6 645.6,143.6 646.6,144.5 647.6,146.2 648.6,146.4 649.6,145.3 650.6,146 651.6,145.6 652.6,146.6 653.6,144.9 654.6,146 655.6,146.4 656.6,145.3 657.6,146.4 658.6,146 659.6,144.2 660.6,144.1 661.6,145.9 662.6,144.8 663.6,145.6 664.6,143.5 665.6,143.9 666.6,144.8 667.6,143.4 668.6,144.9 669.6,145.6 670.6,146.3 671.6,144.8 672.6,145.5 673.6,144.9 674.6,145.6 675.6,145.1 676.6,145 677.6,145.1 678.6,144.7 679.6,142.8 680.6,144.2 681.6,142.2 682.6,143 683.6,142.3 684.6,141.8 685.6,141.5 686.6,141.4 687.6,143.2 688.6,141.1 689.6,141.3 690.6,141.6 691.6,142.9 692.6,143.7 693.6,141.4 694.6,143 695.6,142.7 696.6,143.1 697.6,143 698.6,141.4 699.6,142.8 700.6,142.5 701.6,143.5 702.6,143.3 703.6,141.7 704.6,144 705.6,143.4 706.6,143.8 707.6,145 708.6,143.7 709.6,144.2 710.6,143.1 711.6,143.5 712.6,143.4 713.6,144.4 714.6,144.4 715.6,143.4 716.6,143.2 717.6,143 718.6,144.1 719.6,143.6 720.6,141.1 721.6,142.2 722.6,141.9 723.6,140.4 724.6,140.5 725.6,142.3 726.6,142.4 726.6,135.7 393.6,135.7Z"/>
<path fill="#ffffff" d="M674.6,192.8 675.6,194.8 676.6,195.6 677.6,197.3 678.6,198.2 679.6,199.3 680.6,200 681.6,200.5 682.6,201.9 683.6,202.2 684.6,203.1 685.6,203.6 686.6,204.3 687.6,205.2 688.6,207.5 689.6,208.4 690.6,209.6 691.6,209.7 692.6,208.7 693.6,207.8 694.6,206.5 695.6,204.3 696.6,201.8 697.6,199.1 698.6,197.8 699.6,196 700.6,194.5 701.6,192.1 701.6,187.8 700.6,190 699.6,191.7 698.6,193.7 697.6,194.5 696.6,197.2 695.6,194.6 694.6,194.4 693.6,195.7 692.6,197.3 691.6,196.5 690.6,195 689.6,197.1 688.6,197.9 687.6,196 686.6,196.9 685.6,197.5 684.6,196.7 683.6,195.4 682.6,196.2 681.6,196.2 680.6,194.3 679.6,193.4 678.6,193.5 677.6,191.7 676.6,192.3 675.6,189.7 674.6,190.8Z"/>
<path fill="#ffcccc" d="M674.6,190.8 675.6,192.8 676.6,193.6 677.6,195.3 678.6,196.2 679.6,197.3 680.6,198 681.6,198.5 682.6,199.9 683.6,200.2 684.6,201.1 685.6,201.6 686.6,202.3 687.6,203.2 688.6,205.5 689.6,206.4 690.6,207.6 691.6,207.7 692.6,206.7 693.6,205.8 694.6,204.5 695.6,202.3 696.6,199.8 697.6,197.1 698.6,195.8 699.6,194 700.6,192.5 701.6,190.1 701.6,187.8 700.6,190 699.6,191.7 698.6,193.7 697.6,194.5 696.6,197.2 695.6,194.6 694.6,194.4 693.6,195.7 692.6,197.3 691.6,196.5 690.6,195 689.6,197.1 688.6,197.9 687.6,196 686.6,196.9 685.6,197.5 684.6,196.7 683.6,195.4 682.6,196.2 681.6,196.2 680.6,194.3 679.6,193.4 678.6,193.5 677.6,191.7 676.6,192.3 675.6,189.7 674.6,190.8Z"/>
</g>
<g clip-path="url(#c15)">
<path fill="#6699ff" d="M22.5,296.4 23.5,296.7 24.5,298.1 25.5,298.1 26.5,299.2 27.5,300.8 28.5,300.5 29.5,299.1 30.5,299.6 31.5,299.6 32.5,300.5 33.5,300.5 34.5,300.1 35.5,299.5 36.5,300.6 37.5,300.9 38.5,302.2 39.5,302.9 40.5,301.3 41.5,305.1 42.5,305.6 43.5,306.7 44.5,307.1 45.5,307.4 46.5,308.4 47.5,307.2 48.5,307.4 49.5,307.1 50.5,308 51.5,307.4 52.5,305.2 53.5,304.7 54.5,303.4 55.5,303.3 56.5,302.9 57.5,303.4 58.5,302.9 59.5,301.3 60.5,301.1 61.5,301.7 62.5,305.2 63.5,302.4 64.5,301 65.5,300.6 66.5,299.1 67.5,298.7 68.5,305.2 69.5,309.2 70.5,306.1 71.5,303.9 72.5,302.9 73.5,302.7 74.5,300.4 75.5,301.9 76.5,300.9 77.5,300.3 78.5,301.5 79.5,301.9 80.5,300.8 81.5,301 82.5,303.6 83.5,303.3 84.5,304.5 85.5,304.9 86.5,306.9 87.5,302.9 88.5,301.2 89.5,301.9 90.5,301.9 91.5,300.6 92.5,303.2 93.5,302.8 94.5,304.2 95.5,304.2 96.5,304.9 97.5,303.6 98.5,306.9 99.5,303.1 100.5,303.4 101.5,306.5 102.5,303.1 103.5,302.1 104.5,301.7 105.5,303 106.5,302.5 107.5,302.9 108.5,301.9 109.5,302.1 110.5,300.1 111.5,302.7 112.5,302.1 113.5,304.1 114.5,303.4 115.5,302.5 116.5,306.2 117.5,305.3 118.5,306.9 119.5,306.1 120.5,306.9 121.5,305.7 122.5,306.1 123.5,305.8 124.5,302.8 125.5,301.7 126.5,302.7 127.5,300.5 128.5,303.7 129.5,303.6 130.5,304.8 131.5,306.5 132.5,305.5 133.5,306.3 134.5,306.4 135.5,306.4 136.5,306 137.5,306.2 138.5,305 139.5,305.1 140.5,305.5 141.5,304.8 142.5,304.8 143.5,304.8 144.5,304.4 145.5,303.1 146.5,303.9 147.5,302.8 148.5,304.2 149.5,304.6 150.5,304.8 151.5,305.1 152.5,306.8 153.5,307.1 154.5,306.2 155.5,307.4 156.5,307 157.5,307.5 158.5,309 159.5,306 160.5,309.3 161.5,308 162.5,310.7 163.5,311.1 164.5,310.5 165.5,312 166.5,312.4 167.5,312.4 168.5,313.5 169.5,313.9 170.5,313.8 171.5,312.7 172.5,314.2 173.5,313.2 174.5,312.6 175.5,314 176.5,313.8 177.5,313.4 178.5,314.3 179.5,313.5 180.5,314.2 181.5,314.6 182.5,314.4 183.5,315 184.5,314.1 185.5,313.9 186.5,313.1 187.5,311.9 188.5,311.5 189.5,311.2 190.5,310.2 191.5,312.5 192.5,309.5 193.5,308.6 194.5,308.1 195.5,307.5 196.5,308.2 197.5,306.3 198.5,306.1 199.5,306.3 200.5,307.3 201.5,305.8 202.5,308 203.5,307.3 204.5,310 205.5,310.2 206.5,314.3 207.5,313.8 208.5,313.6 209.5,312.7 210.5,313.2 211.5,310.4 212.5,309.4 213.5,308.4 214.5,309.8 215.5,309.2 216.5,309.2 217.5,310.1 218.5,309.6 219.5,309 220.5,308.9 221.5,310 222.5,307.6 223.5,312.2 224.5,312 225.5,314.5 226.5,313.4 227.5,312.7 228.5,315 229.5,312 230.5,311.8 231.5,311.9 232.5,310.5 233.5,311 234.5,310.9 235.5,312.8 236.5,311.9 237.5,313.5 238.5,313.8 239.5,315.5 240.5,314.7 241.5,315.3 242.5,316.4 243.5,315.6 244.5,316.1 245.5,313 246.5,315 247.5,315.3 248.5,314.3 249.5,313.6 250.5,314.3 251.5,314 252.5,314.1 253.5,312.4 254.5,314.3 255.5,313.8 256.5,313.2 257.5,309.6 258.5,312.2 259.5,313.8 260.5,311.9 261.5,312.9 262.5,311.9 263.5,312.2 264.5,313.3 265.5,311.1 266.5,313.3 267.5,314.9 268.5,315 269.5,315.3 270.5,314 271.5,316.4 272.5,315.4 273.5,317.2 274.5,312.8 275.5,316.3 276.5,315.3 277.5,316.3 278.5,315.1 279.5,314.9 280.5,314.5 281.5,315.6 282.5,317.1 283.5,317.9 284.5,318.7 285.5,315.4 286.5,317.6 287.5,317.7 288.5,318.9 289.5,316.9 290.5,317.7 291.5,317.3 292.5,316.9 293.5,315.2 294.5,315.2 295.5,314.4 296.5,313.9 297.5,315.3 298.5,316.2 299.5,316.8 300.5,318.2 301.5,319.6 302.5,318.1 303.5,318.2 304.5,318.1 305.5,316.4 306.5,317.7 307.5,317.6 308.5,317.6 309.5,317.9 310.5,318.3 311.5,316.8 312.5,317.9 313.5,316.7 314.5,316.6 315.5,316.9 316.5,313.4 317.5,315 318.5,317 319.5,317.1 320.5,316.3 321.5,316.4 322.5,316.7 323.5,318 324.5,317.4 325.5,318.6 326.5,320.6 327.5,320.9 328.5,322.1 329.5,319.8 330.5,322.3 331.5,323.2 332.5,324 333.5,324.5 334.5,325.2 335.5,326.2 336.5,326.4 337.5,327.1 338.5,327.6 339.5,328.3 340.5,325.6 341.5,324.2 342.5,324.2 343.5,320.4 344.5,320.5 345.5,316.9 346.5,314.4 347.5,309.6 348.5,304.7 349.5,304 350.5,295.5 351.5,296.2 352.5,293 353.5,290.4 354.5,288.5 355.5,287.5 356.5,287.4 357.5,289.8 358.5,293.6 359.5,297.1 360.5,301.9 361.5,305.1 362.5,309.7 363.5,314.5 364.5,319.3 365.5,320.5 366.5,326.4 367.5,325.8 368.5,326.3 369.5,327.3 370.5,324.9 371.5,325 372.5,326 373.5,324.9 374.5,326.4 375.5,323.1 375.5,248 22.5,248Z"/>
</g>
<g clip-path="url(#c18)">
<path fill="#6699ff" d="M392.9,291.5 393.9,294.5 394.9,294.3 395.9,291.3 396.9,293 397.9,294.8 398.9,299.3 399.9,296.2 400.9,298.6 401.9,299.7 402.9,300.8 403.9,304.3 404.9,304.2 405.9,304.7 406.9,305.6 407.9,309.1 408.9,305.7 409.9,304.2 410.9,302.3 411.9,302 412.9,302.9 413.9,302.9 414.9,303.8 415.9,304.6 416.9,307 417.9,303.6 418.9,305.1 419.9,303.9 420.9,304.4 421.9,304.9 422.9,304.6 423.9,302.6 424.9,308.1 425.9,305.8 426.9,304.5 427.9,302.5 428.9,302.2 429.9,302.3 430.9,303.7 431.9,301.2 432.9,301.5 433.9,301.7 434.9,301.4 435.9,301.9 436.9,299 437.9,302.5 438.9,303.2 439.9,300 440.9,299.5 441.9,299.3 442.9,300.4 443.9,301.2 444.9,299.9 445.9,299.8 446.9,301.2 447.9,301.4 448.9,300.7 449.9,301.6 450.9,301.2 451.9,300.2 452.9,299.6 453.9,298.9 454.9,299 455.9,299.8 456.9,298.5 457.9,299.2 458.9,298.5 459.9,297.9 460.9,297.1 461.9,295.2 462.9,294.6 463.9,295.6 464.9,295.6 465.9,294.9 466.9,294.4 467.9,294.6 468.9,295 469.9,297.6 470.9,296.9 471.9,297.4 472.9,298.6 473.9,298.1 474.9,304.2 475.9,301.5 476.9,302.2 477.9,300.1 478.9,298.1 479.9,297.8 480.9,297.3 481.9,298.1 482.9,297.5 483.9,296.8 484.9,295.9 485.9,296.2 486.9,295.8 487.9,297.9 488.9,299.8 489.9,301.5 490.9,303.2 491.9,303.4 492.9,304.7 493.9,302.8 494.9,303.2 495.9,300.1 496.9,299.9 497.9,299 498.9,298.8 499.9,298.3 500.9,301.3 501.9,300.5 502.9,301.9 503.9,305.4 504.9,303.1 505.9,304.5 506.9,303.6 507.9,299.5 508.9,296.1 509.9,297.7 510.9,299.1 511.9,300.7 512.9,302.2 513.9,301.7 514.9,303.6 515.9,301.8 516.9,305 517.9,304.3 518.9,305.4 519.9,304.5 520.9,305.2 521.9,306 522.9,306.6 523.9,310 524.9,304.8 525.9,309.7 526.9,310.5 527.9,311.4 528.9,312.6 529.9,312.1 530.9,313.1 531.9,311.9 532.9,311.6 533.9,310.8 534.9,308.4 535.9,309.2 536.9,308.7 537.9,306.5 538.9,308.9 539.9,308.4 540.9,309.6 541.9,309.2 542.9,308.8 543.9,310.8 544.9,311.6 545.9,312.6 546.9,310.5 547.9,314.2 548.9,315.9 549.9,316 550.9,317.2 551.9,312.6 552.9,317.7 553.9,316.4 554.9,317.6 555.9,318.1 556.9,320.5 557.9,319.5 558.9,319.6 559.9,322.4 560.9,323.7 561.9,325.4 562.9,325.6 563.9,324.8 564.9,325.8 565.9,323.5 566.9,322.7 567.9,322.6 568.9,320.1 569.9,321.8 570.9,322.6 571.9,323 572.9,323.4 573.9,323.7 574.9,327 575.9,324.8 576.9,323.2 577.9,321.8 578.9,321.7 579.9,316.6 580.9,319.2 581.9,319.8 582.9,316.9 583.9,318.8 584.9,317.2 585.9,317.1 586.9,318.5 587.9,320.7 588.9,321.6 589.9,318.5 590.9,318.1 591.9,320.1 592.9,316.3 593.9,314.6 594.9,313.7 595.9,315.7 596.9,313 597.9,311.4 598.9,312.4 599.9,311.4 600.9,309.8 601.9,308.3 602.9,308.8 603.9,306.2 604.9,307.2 605.9,305.5 606.9,304.7 607.9,304.3 608.9,305.2 609.9,305.7 610.9,305.2 611.9,304.7 612.9,304.4 613.9,304.8 614.9,305.4 615.9,303.6 616.9,304.1 617.9,305.5 618.9,301.9 619.9,303.8 620.9,303.7 621.9,303.4 622.9,303.1 623.9,302.8 624.9,303.4 625.9,303.4 626.9,304 627.9,303.9 628.9,303.6 629.9,304.6 630.9,305.7 631.9,306.1 632.9,306.8 633.9,308.1 634.9,308.3 635.9,308 636.9,309.1 637.9,310.1 638.9,310 639.9,311.4 640.9,310.5 641.9,311.4 642.9,312.3 643.9,312.1 644.9,311.2 645.9,308.8 646.9,308.6 647.9,307.9 648.9,308.4 649.9,310.2 650.9,309.1 651.9,307.5 652.9,306.8 653.9,308 654.9,308 655.9,303.3 656.9,307.4 657.9,307.2 658.9,308 659.9,306.9 660.9,306.2 661.9,306.2 662.9,306.1 663.9,306.4 664.9,306.2 665.9,306.5 666.9,310.6 667.9,306 668.9,308.1 669.9,308.5 670.9,308.6 671.9,308.5 672.9,310.6 673.9,309.8 674.9,309.1 675.9,311.5 676.9,313 677.9,313.6 678.9,313.9 679.9,314.6 680.9,316.5 681.9,315.7 682.9,316.9 683.9,317.2 684.9,317.9 685.9,317.7 686.9,318.6 687.9,322.3 688.9,315.2 689.9,316.8 690.9,313.7 691.9,313 692.9,311.8 693.9,311.1 694.9,312.4 695.9,308.7 696.9,311 697.9,310.5 698.9,308.8 699.9,308.9 700.9,309.4 701.9,308.3 702.9,311.3 703.9,307 704.9,305.7 705.9,305.4 706.9,303.8 707.9,301.8 708.9,299.7 709.9,296.3 710.9,293.3 711.9,291.6 712.9,289.3 713.9,284.4 714.9,287.5 715.9,286 716.9,285.8 717.9,286.3 718.9,288.2 719.9,288.2 720.9,290.2 721.9,292.4 722.9,293.5 723.9,295 724.9,296 725.9,297.9 726.9,299.7 727.9,299.8 728.9,302.1 729.9,302.4 730.9,303.5 731.9,306.1 732.9,309.1 733.9,311.9 734.9,312.9 735.9,311.7 735.9,250 392.9,250Z"/>
<path fill="#006633" d="M392.9,254.6 393.9,256 394.9,255.1 395.9,255.3 396.9,254.8 397.9,255.4 398.9,255.5 399.9,255.6 400.9,254.9 401.9,255.8 402.9,255.9 403.9,256.7 404.9,255.2 405.9,256.1 406.9,256.1 407.9,257.3 408.9,257.2 409.9,257.4 410.9,257.2 411.9,255 412.9,255.1 413.9,257.4 414.9,256.6 415.9,256.2 416.9,256.5 417.9,257.1 418.9,257 419.9,256.9 420.9,255.3 421.9,256.3 422.9,256 423.9,257.4 424.9,257.1 425.9,255.7 426.9,255.5 427.9,254.9 428.9,257.1 429.9,255.2 430.9,255.6 431.9,256 432.9,256.5 433.9,257.4 434.9,256.1 435.9,256.8 436.9,257.6 437.9,255.9 438.9,257.9 439.9,255.9 440.9,256.5 441.9,256.8 442.9,257.7 443.9,257.5 444.9,257.1 445.9,255.8 446.9,256.5 447.9,257.2 448.9,255.7 449.9,256.1 450.9,255.6 451.9,254.8 452.9,255.9 453.9,255.6 454.9,254.3 455.9,256.1 456.9,255 457.9,254.5 458.9,255.1 459.9,256.4 460.9,255.8 461.9,256.3 462.9,254.6 463.9,255.6 464.9,257 465.9,257.4 466.9,256.5 467.9,257.6 468.9,255.4 469.9,256.9 470.9,257.1 471.9,256.7 472.9,256.1 473.9,253.8 474.9,254.8 475.9,256.1 476.9,254.3 477.9,255.7 478.9,255.9 479.9,256.1 480.9,254.4 481.9,255.4 482.9,255 483.9,255.9 484.9,256.8 485.9,254.7 486.9,256.1 487.9,254.9 488.9,254.5 489.9,256.6 490.9,256.6 491.9,255.2 492.9,254.8 493.9,255.4 494.9,256.6 495.9,257.1 496.9,257.4 497.9,255.7 498.9,255.6 499.9,256.9 500.9,256.5 501.9,255.3 502.9,256.8 503.9,254.6 504.9,256.7 505.9,254.6 506.9,256.1 507.9,255.2 508.9,256.7 509.9,255.1 510.9,255.5 511.9,257 512.9,256.8 513.9,256.1 514.9,256.1 515.9,255.4 516.9,256.9 517.9,255.5 518.9,257.3 519.9,257.1 520.9,257.3 521.9,257.3 522.9,256.1 523.9,255.1 524.9,255.6 525.9,257.2 526.9,257.5 527.9,256.2 528.9,256.3 529.9,255.2 530.9,255.4 531.9,255.9 532.9,257 533.9,256.1 534.9,256.9 535.9,256.7 536.9,255.1 537.9,257.3 538.9,256.6 539.9,255.9 540.9,255.8 541.9,255.1 542.9,254.3 543.9,254.7 544.9,255.9 545.9,254.5 546.9,255.7 547.9,256.2 548.9,256.6 549.9,255.5 550.9,254.8 551.9,255 552.9,257.2 553.9,255.2 554.9,257 555.9,255.5 556.9,257.2 557.9,255.4 558.9,256.9 559.9,256.3 560.9,257.2 561.9,256.8 562.9,256.5 563.9,257.3 564.9,257.2 565.9,257.4 566.9,257.6 567.9,256.6 568.9,255.5 569.9,255.9 570.9,257.2 571.9,256.1 572.9,255.3 573.9,256.5 574.9,255.8 575.9,256.2 576.9,257.2 577.9,255.9 578.9,256.8 579.9,254.8 580.9,255.1 581.9,254.1 582.9,254.6 583.9,255.5 584.9,255.5 585.9,254.2 586.9,253.9 587.9,254.7 588.9,255.1 589.9,255.5 590.9,254.8 591.9,256 592.9,257.5 593.9,255.9 594.9,256.5 595.9,257.9 596.9,256.4 597.9,256.9 598.9,256.6 599.9,256.1 600.9,256 601.9,254.8 602.9,256.9 603.9,255.6 604.9,254.8 605.9,254.9 606.9,256.3 607.9,254.8 608.9,256.8 609.9,255.3 610.9,256.6 611.9,255.3 612.9,255.8 613.9,254.9 614.9,256 615.9,255.2 616.9,256 617.9,255.3 618.9,255.3 619.9,255.9 620.9,257.2 621.9,256.7 622.9,256.9 623.9,255.6 624.9,256.4 625.9,257.9 626.9,256.4 627.9,256.4 628.9,256.8 629.9,255.1 630.9,255.9 631.9,254.9 632.9,255 633.9,257.1 634.9,257 635.9,255.3 636.9,257.3 637.9,256.1 638.9,255.4 639.9,256.3 640.9,255.9 641.9,257 642.9,256.5 643.9,256 644.9,256.8 645.9,255.8 646.9,256.6 647.9,256.3 648.9,256 649.9,255.4 650.9,255.9 651.9,255.1 652.9,256.2 653.9,255.4 654.9,254.4 655.9,255.9 656.9,255.8 657.9,256 658.9,254.6 659.9,255.2 660.9,255.9 661.9,255.9 662.9,256.3 663.9,255.7 664.9,254.9 665.9,256.6 666.9,254.8 667.9,255 668.9,257.2 669.9,255.7 670.9,255.3 671.9,257.7 672.9,255.2 673.9,256.6 674.9,256.1 675.9,256 676.9,256.2 677.9,256.5 678.9,257.1 679.9,257.1 680.9,256.7 681.9,254.9 682.9,256 683.9,255.8 684.9,256.4 685.9,255.6 686.9,255.7 687.9,255.3 688.9,257 689.9,256.9 690.9,257.1 691.9,257.9 692.9,257.8 693.9,257.4 694.9,255.9 695.9,256.8 696.9,256.4 697.9,256.5 698.9,255.3 699.9,255 700.9,255 701.9,255.6 702.9,255.6 703.9,254.8 704.9,255.2 705.9,255.8 706.9,254.8 707.9,254.6 708.9,255.8 709.9,257.1 710.9,255.8 711.9,255.4 712.9,255.7 713.9,254.7 714.9,255.4 715.9,255.2 716.9,256.6 717.9,256.1 718.9,255.5 719.9,255.3 720.9,256 721.9,254.8 722.9,257 723.9,255.5 724.9,257.5 725.9,257.3 726.9,257 727.9,255.8 728.9,256 729.9,255.7 730.9,254.3 731.9,254.9 732.9,256.6 733.9,254.6 734.9,255.1 735.9,256.5 735.9,247 392.9,247Z"/>
</g>
<g clip-path="url(#c19)">
<path fill="#6699ff" d="M22.5,404.3 23.5,406 24.5,405.3 25.5,408 26.5,407.7 27.5,410.4 28.5,408.4 29.5,410.4 30.5,409.8 31.5,409.7 32.5,411 33.5,410.4 34.5,408.9 35.5,407.5 36.5,407.9 37.5,406.1 38.5,405.6 39.5,406.8 40.5,405.8 41.5,405.8 42.5,404.8 43.5,406.3 44.5,406.8 45.5,404.7 46.5,405.7 47.5,405.3 48.5,404.2 49.5,407 50.5,405 51.5,405.7 52.5,406.4 53.5,406.5 54.5,404.2 55.5,405.1 56.5,404.2 57.5,404 58.5,404.3 59.5,402 60.5,401.2 61.5,401.4 62.5,401.6 63.5,401.7 64.5,398.7 65.5,399.5 66.5,399 67.5,399.7 68.5,399.3 69.5,399.5 70.5,401.2 71.5,401.5 72.5,403 73.5,402.9 74.5,404.1 75.5,404.5 76.5,405.5 77.5,407.3 78.5,406.2 79.5,406.9 80.5,406.2 81.5,406.3 82.5,406.8 83.5,405.2 84.5,405.8 85.5,407.1 86.5,407.2 87.5,408.1 88.5,405.6 89.5,407.8 90.5,407.6 91.5,407.2 92.5,408.1 93.5,407.1 94.5,407 95.5,409 96.5,408.3 97.5,408.6 98.5,408.5 99.5,408.6 100.5,407.9 101.5,408.1 102.5,407 103.5,407 104.5,407.9 105.5,405.2 106.5,404.1 107.5,405 108.5,404.2 109.5,405.7 110.5,405.4 111.5,406.8 112.5,405 113.5,406.1 114.5,406.1 115.5,408 116.5,406.8 117.5,407.4 118.5,407.2 119.5,407.4 120.5,409.6 121.5,410.4 122.5,409.9 123.5,409.5 124.5,410.8 125.5,407.8 126.5,409.8 127.5,410 128.5,410.1 129.5,410 130.5,410.5 131.5,411.6 132.5,410.7 133.5,411.5 134.5,411.6 135.5,412.3 136.5,410.7 137.5,412.2 138.5,411.2 139.5,411.7 140.5,414.2 141.5,413.9 142.5,415.4 143.5,415.1 144.5,413.4 145.5,416.2 146.5,414.9 147.5,414.8 148.5,415 149.5,417 150.5,415.5 151.5,416.5 152.5,417 153.5,417.1 154.5,416.3 155.5,415.9 156.5,417.2 157.5,415 158.5,417 159.5,415.3 160.5,416.3 161.5,416.6 162.5,415.6 163.5,417.2 164.5,415.5 165.5,413.9 166.5,414.9 167.5,413.1 168.5,414 169.5,412.6 170.5,413.8 171.5,412.3 172.5,412.4 173.5,413.2 174.5,411 175.5,412.5 176.5,412.7 177.5,413.4 178.5,413 179.5,411.4 180.5,413 181.5,413 182.5,412.1 183.5,413.5 184.5,414.1 185.5,414.1 186.5,413.2 187.5,412.2 188.5,414 189.5,415.8 190.5,415.5 191.5,413.9 192.5,415 193.5,414.6 194.5,415.3 195.5,415.6 196.5,413.5 197.5,418 198.5,414.4 199.5,415.9 200.5,415.9 201.5,415.1 202.5,416.5 203.5,416.2 204.5,416.5 205.5,418.2 206.5,418.5 207.5,416.7 208.5,416.6 209.5,417 210.5,416.8 211.5,416.7 212.5,416.8 213.5,417.3 214.5,417.3 215.5,415.6 216.5,416.4 217.5,416.5 218.5,415.9 219.5,417.4 220.5,416.3 221.5,416.3 222.5,417.4 223.5,417.1 224.5,416.5 225.5,416.5 226.5,416.5 227.5,417.2 228.5,416.9 229.5,416.6 230.5,416.4 231.5,416.8 232.5,416.7 233.5,415.9 234.5,417.2 235.5,416.6 236.5,415.4 237.5,417.8 238.5,416.8 239.5,416.4 240.5,419 241.5,417.9 242.5,414.5 243.5,419.2 244.5,416.2 245.5,417.4 246.5,417.3 247.5,418.3 248.5,418.4 249.5,413.9 250.5,417.3 251.5,416.9 252.5,417.9 253.5,416.3 254.5,417.1 255.5,416.4 256.5,420 257.5,417.2 258.5,416 259.5,415.5 260.5,415.5 261.5,415.4 262.5,415.8 263.5,414.6 264.5,414.7 265.5,416.6 266.5,414.8 267.5,413 268.5,416.2 269.5,416.7 270.5,415.1 271.5,411.8 272.5,414.2 273.5,414.2 274.5,413.8 275.5,415.1 276.5,416.9 277.5,415.1 278.5,417.4 279.5,416.9 280.5,418.2 281.5,418.2 282.5,418 283.5,418.3 284.5,417.8 285.5,418.9 286.5,418.1 287.5,420.1 288.5,420.3 289.5,420.1 290.5,420.5 291.5,422.3 292.5,419.8 293.5,419.4 294.5,421.5 295.5,420.7 296.5,421.2 297.5,421.9 298.5,422.3 299.5,421.9 300.5,420.4 301.5,420.3 302.5,419.7 303.5,421.4 304.5,421.8 305.5,420.4 306.5,423.1 307.5,421.2 308.5,421.7 309.5,422 310.5,421.1 311.5,420.4 312.5,420.8 313.5,421 314.5,419.9 315.5,421.7 316.5,421.5 317.5,421.3 318.5,423.6 319.5,423.5 320.5,422.9 321.5,421.8 322.5,425.6 323.5,424.9 324.5,425.4 325.5,424.6 326.5,425.2 327.5,423 328.5,422 329.5,422.1 330.5,420 331.5,418.9 332.5,418.5 333.5,416.6 334.5,414.9 335.5,415.5 336.5,412.5 337.5,412.5 338.5,412.4 339.5,411 340.5,411.2 341.5,410.1 342.5,412.2 343.5,414.4 344.5,412.2 345.5,413.3 346.5,413.9 347.5,414.5 348.5,412 349.5,410.5 350.5,408.5 351.5,403.4 352.5,398.3 353.5,393.9 354.5,391.9 355.5,393.5 356.5,395 357.5,397.5 358.5,399.8 359.5,402.5 360.5,404.5 361.5,405.9 362.5,408.6 363.5,413.3 364.5,415.2 365.5,416.9 366.5,415.4 366.5,356 22.5,356Z"/>
<path fill="#ff0000" d="M22.5,386.9 23.5,387.9 24.5,389 25.5,388.9 26.5,389.6 27.5,389 28.5,389.4 29.5,390.9 30.5,390.9 31.5,390.2 32.5,392.1 33.5,391.3 34.5,391.2 35.5,392.5 36.5,390.5 37.5,390.1 38.5,391.6 39.5,392.1 40.5,390.6 41.5,392.2 42.5,392.2 43.5,390.8 44.5,391 45.5,391.4 46.5,391 47.5,389.6 48.5,389.7 49.5,390.2 50.5,390.3 51.5,388.9 52.5,389.6 53.5,390.5 54.5,388.7 55.5,389.6 56.5,388.4 57.5,388.1 58.5,388.3 59.5,387.6 60.5,385.9 61.5,386.7 62.5,387.4 63.5,386.7 64.5,385.2 65.5,385.4 66.5,386.7 67.5,387.1 68.5,387.4 69.5,386.5 70.5,388.2 71.5,387.1 72.5,388.1 73.5,388.2 74.5,389.6 75.5,388.4 76.5,390.4 77.5,390 78.5,390.1 79.5,389.8 80.5,390.6 81.5,390.2 82.5,391.2 83.5,391.5 84.5,390.5 85.5,391.2 86.5,392.6 87.5,392.2 88.5,392.7 89.5,392.2 90.5,391.1 91.5,392.8 92.5,391.7 93.5,390.5 94.5,392.3 95.5,391.5 96.5,390.5 97.5,391.1 98.5,391 99.5,391.3 100.5,391.4 101.5,392.1 102.5,391.9 103.5,393.1 104.5,393.3 105.5,393.2 106.5,390.9 107.5,391.3 108.5,390.9 109.5,391.1 110.5,390.8 111.5,391.1 112.5,393.1 113.5,392.2 114.5,391.7 115.5,391.1 116.5,392.4 117.5,391.2 118.5,392.9 119.5,391 120.5,393.3 121.5,392.7 122.5,392.3 123.5,393.6 124.5,393.8 125.5,392.7 126.5,393.2 127.5,393.5 128.5,392.2 129.5,392.7 130.5,392.4 131.5,393.1 132.5,392.8 133.5,394 134.5,394.3 135.5,394.2 136.5,394.4 137.5,395.3 138.5,394.8 139.5,395.5 140.5,395.5 141.5,395.1 142.5,394.4 143.5,394 144.5,393.5 145.5,394.1 146.5,392.8 147.5,394.1 148.5,392.4 149.5,392.9 150.5,392.7 151.5,394.3 152.5,394.5 153.5,394.2 154.5,394.9 155.5,393.6 156.5,395.5 157.5,395.9 158.5,394.8 159.5,395 160.5,396.6 161.5,395.5 162.5,396.6 163.5,396.6 164.5,396.1 165.5,396.5 166.5,395.9 167.5,395.3 168.5,395.8 169.5,394.7 170.5,395.9 171.5,395.6 172.5,393.7 173.5,394.8 174.5,394.6 175.5,394.3 176.5,392.7 177.5,392.5 178.5,392.1 179.5,391.3 180.5,390.2 181.5,390.2 182.5,389.8 183.5,390 184.5,391.9 185.5,393.1 186.5,393.1 187.5,393.9 188.5,393.9 189.5,394.2 190.5,394.3 191.5,393.5 192.5,394.1 193.5,394.8 194.5,394.7 195.5,394.1 196.5,394.9 197.5,394.5 198.5,394 199.5,395.6 200.5,394.8 201.5,396 202.5,396.4 203.5,396.5 204.5,398.2 205.5,396.6 206.5,396.4 207.5,396.5 208.5,395.5 209.5,395.6 210.5,395.3 211.5,394.8 212.5,395.1 213.5,395 214.5,395.8 215.5,394.6 216.5,395.1 217.5,395.2 218.5,395.2 219.5,394.7 220.5,394.9 221.5,395.5 222.5,395.3 223.5,397 224.5,396.5 225.5,397.8 226.5,397.4 227.5,398 228.5,397.6 229.5,396.4 230.5,397.2 231.5,396.9 232.5,396.2 233.5,395.7 234.5,396.6 235.5,395.8 236.5,396.1 237.5,395.6 238.5,394.9 239.5,394.6 240.5,395 241.5,393.2 242.5,394.1 243.5,393.2 244.5,392.8 245.5,393.3 246.5,392.8 247.5,392.9 248.5,393 249.5,394 250.5,393.3 251.5,393.2 252.5,393.3 253.5,393.5 254.5,392 255.5,393.1 256.5,392.3 257.5,393 258.5,392.7 259.5,392.9 260.5,391.8 261.5,392.4 262.5,391.5 263.5,392 264.5,391.9 265.5,392.5 266.5,392.6 267.5,392.9 268.5,393 269.5,393.5 270.5,393.6 271.5,392.5 272.5,394 273.5,393.8 274.5,394 275.5,393.3 276.5,393 277.5,393.6 278.5,394.2 279.5,393.2 280.5,393.4 281.5,393.8 282.5,395.4 283.5,394.5 284.5,394.9 285.5,395.7 286.5,395.6 287.5,396.8 288.5,397.2 289.5,395.7 290.5,396.9 291.5,397 292.5,396 293.5,397.8 294.5,397.3 295.5,398.2 296.5,397.5 297.5,397.6 298.5,397.2 299.5,397.6 300.5,397.6 301.5,397.3 302.5,396.7 303.5,397.9 304.5,398.2 305.5,397.3 306.5,397.4 307.5,398.1 308.5,397.6 309.5,398.6 310.5,399.7 311.5,399.9 312.5,398.9 313.5,400.3 314.5,398.6 315.5,400.3 316.5,398.9 317.5,398.8 318.5,399 319.5,399.2 320.5,399.4 321.5,400 322.5,399.6 323.5,399.3 324.5,399.9 325.5,399.7 326.5,399.4 327.5,398.9 328.5,398.1 329.5,397.7 330.5,398.1 331.5,397 332.5,395.4 333.5,395.1 334.5,394.3 335.5,392.5 336.5,391.9 337.5,390.5 338.5,389.7 339.5,390.3 340.5,391.1 341.5,390.1 342.5,391.8 343.5,392.6 344.5,392.7 345.5,394.4 346.5,394.9 347.5,395.3 348.5,392.9 349.5,391.4 350.5,389.7 351.5,390.7 351.5,387.9 350.5,386.9 349.5,388.6 348.5,390.1 347.5,392.5 346.5,392.1 345.5,391.6 344.5,389.9 343.5,389.8 342.5,389 341.5,387.3 340.5,388.3 339.5,387.5 338.5,386.9 337.5,387.7 336.5,389.1 335.5,389.7 334.5,391.5 333.5,392.3 332.5,392.6 331.5,394.2 330.5,395.3 329.5,394.9 328.5,395.3 327.5,396.1 326.5,396.6 325.5,396.9 324.5,397.1 323.5,396.5 322.5,396.8 321.5,397.2 320.5,396.6 319.5,396.4 318.5,396.2 317.5,396 316.5,396.1 315.5,397.5 314.5,395.8 313.5,397.5 312.5,396.1 311.5,397.1 310.5,396.9 309.5,395.8 308.5,394.8 307.5,395.3 306.5,394.6 305.5,394.5 304.5,395.4 303.5,395.1 302.5,393.9 301.5,394.5 300.5,394.8 299.5,394.8 298.5,394.4 297.5,394.8 296.5,394.7 295.5,395.4 294.5,394.5 293.5,395 292.5,393.2 291.5,394.2 290.5,394.1 289.5,392.9 288.5,394.4 287.5,394 286.5,392.8 285.5,392.9 284.5,392.1 283.5,391.7 282.5,392.6 281.5,391 280.5,390.6 279.5,390.4 278.5,391.4 277.5,390.8 276.5,390.2 275.5,390.5 274.5,391.2 273.5,391 272.5,391.2 271.5,389.7 270.5,390.8 269.5,390.7 268.5,390.2 267.5,390.1 266.5,389.8 265.5,389.7 264.5,389.1 263.5,389.2 262.5,388.7 261.5,389.6 260.5,389 259.5,390.1 258.5,389.9 257.5,390.2 256.5,389.5 255.5,390.3 254.5,389.2 253.5,390.7 252.5,390.5 251.5,390.4 250.5,390.5 249.5,391.2 248.5,390.2 247.5,390.1 246.5,390 245.5,390.5 244.5,390 243.5,390.4 242.5,391.3 241.5,390.4 240.5,392.2 239.5,391.8 238.5,392.1 237.5,392.8 236.5,393.3 235.5,393 234.5,393.8 233.5,392.9 232.5,393.4 231.5,394.1 230.5,394.4 229.5,393.6 228.5,394.8 227.5,395.2 226.5,394.6 225.5,395 224.5,393.7 223.5,394.2 222.5,392.5 221.5,392.7 220.5,392.1 219.5,391.9 218.5,392.4 217.5,392.4 216.5,392.3 215.5,391.8 214.5,393 213.5,392.2 212.5,392.3 211.5,392 210.5,392.5 209.5,392.8 208.5,392.7 207.5,393.7 206.5,393.6 205.5,393.8 204.5,395.4 203.5,393.7 202.5,393.6 201.5,393.2 200.5,392 199.5,392.8 198.5,391.2 197.5,391.7 196.5,392.1 195.5,391.3 194.5,391.9 193.5,392 192.5,391.3 191.5,390.7 190.5,391.5 189.5,391.4 188.5,391.1 187.5,391.1 186.5,390.3 185.5,390.3 184.5,389.1 183.5,387.2 182.5,387 181.5,387.4 180.5,387.4 179.5,388.5 178.5,389.3 177.5,389.7 176.5,389.9 175.5,391.5 174.5,391.8 173.5,392 172.5,390.9 171.5,392.8 170.5,393.1 169.5,391.9 168.5,393 167.5,392.5 166.5,393.1 165.5,393.7 164.5,393.3 163.5,393.8 162.5,393.8 161.5,392.7 160.5,393.8 159.5,392.2 158.5,392 157.5,393.1 156.5,392.7 155.5,390.8 154.5,392.1 153.5,391.4 152.5,391.7 151.5,391.5 150.5,389.9 149.5,390.1 148.5,389.6 147.5,391.3 146.5,390 145.5,391.3 144.5,390.7 143.5,391.2 142.5,391.6 141.5,392.3 140.5,392.7 139.5,392.7 138.5,392 137.5,392.5 136.5,391.6 135.5,391.4 134.5,391.5 133.5,391.2 132.5,390 131.5,390.3 130.5,389.6 129.5,389.9 128.5,389.4 127.5,390.7 126.5,390.4 125.5,389.9 124.5,391 123.5,390.8 122.5,389.5 121.5,389.9 120.5,388.6 119.5,388.9 118.5,389.2 117.5,388 116.5,387.3 115.5,389.4 114.5,388.5 113.5,388.8 112.5,387 111.5,386.6 110.5,387.7 109.5,387.6 108.5,387 107.5,387.6 106.5,387.1 105.5,387.2 104.5,387.4 103.5,388.5 102.5,387.5 101.5,388.4 100.5,388.8 99.5,387 98.5,388.7 97.5,386.7 96.5,386.7 95.5,387.7 94.5,386.3 93.5,388.2 92.5,386.6 91.5,387.7 90.5,386 89.5,387.4 88.5,387.3 87.5,388.6 86.5,388.3 85.5,386.2 84.5,386.1 83.5,388.2 82.5,387.2 81.5,385.2 80.5,384.1 79.5,384.6 78.5,383.8 77.5,384.7 76.5,383.8 75.5,384.5 74.5,383.7 73.5,382.2 72.5,380.9 71.5,382.2 70.5,382.4 69.5,381.6 68.5,381.9 67.5,381.5 66.5,380.8 65.5,381.9 64.5,384 63.5,383.1 62.5,382.8 61.5,385 60.5,385 59.5,385.6 58.5,385.4 57.5,386.9 56.5,387.3 55.5,387.1 54.5,387.1 53.5,388.9 52.5,387.3 51.5,388.8 50.5,387.7 49.5,387.8 48.5,387.6 47.5,388.8 46.5,386 45.5,387.1 44.5,387.8 43.5,386.2 42.5,387.6 41.5,388 40.5,386.6 39.5,388.5 38.5,387.8 37.5,386.6 36.5,388.3 35.5,386.9 34.5,386.2 33.5,386.8 32.5,386.2 31.5,386.9 30.5,386.9 29.5,384.9 28.5,385.2 27.5,386.1 26.5,385.1 25.5,386.1 24.5,385.8 23.5,384.2 22.5,384.2Z"/>
<path fill="#ff0000" d="M362.5,386.6 363.5,385.8 364.5,388 365.5,388.4 366.5,390.3 366.5,387.5 365.5,385.6 364.5,385.2 363.5,383 362.5,383.8Z"/>
<path fill="#006633" d="M22.5,384.2 23.5,384.2 24.5,385.8 25.5,386.1 26.5,385.1 27.5,386.1 28.5,385.2 29.5,384.9 30.5,386.9 31.5,386.9 32.5,386.2 33.5,386.8 34.5,386.2 35.5,386.9 36.5,388.3 37.5,386.6 38.5,387.8 39.5,388.5 40.5,386.6 41.5,388 42.5,387.6 43.5,386.2 44.5,387.8 45.5,387.1 46.5,386 47.5,388.8 48.5,387.6 49.5,387.8 50.5,387.7 51.5,388.8 52.5,387.3 53.5,388.9 54.5,387.1 55.5,387.1 56.5,387.3 57.5,386.9 58.5,385.4 59.5,385.6 60.5,385 61.5,385 62.5,382.8 63.5,383.1 64.5,384 65.5,381.9 66.5,380.8 67.5,381.5 68.5,381.9 69.5,381.6 70.5,382.4 71.5,382.2 72.5,380.9 73.5,382.2 74.5,383.7 75.5,384.5 76.5,383.8 77.5,384.7 78.5,383.8 79.5,384.6 80.5,384.1 81.5,385.2 82.5,387.2 83.5,388.2 84.5,386.1 85.5,386.2 86.5,388.3 87.5,388.6 88.5,387.3 89.5,387.4 90.5,386 91.5,387.7 92.5,386.6 93.5,388.2 94.5,386.3 95.5,387.7 96.5,386.7 97.5,386.7 98.5,388.7 99.5,387 100.5,388.8 101.5,388.4 102.5,387.5 103.5,388.5 104.5,387.4 105.5,387.2 106.5,387.1 107.5,387.6 108.5,387 109.5,387.6 110.5,387.7 111.5,386.6 112.5,387 113.5,388.8 114.5,388.5 115.5,389.4 116.5,387.3 117.5,388 118.5,389.2 119.5,388.9 120.5,388.6 121.5,388.4 122.5,387.4 123.5,387.7 124.5,388.6 125.5,388 126.5,389.1 127.5,386.9 128.5,388.2 129.5,387.9 130.5,387.4 131.5,388.2 132.5,389.2 133.5,389.2 134.5,387.6 135.5,389.4 136.5,387.5 137.5,388.2 138.5,389.8 139.5,390.1 140.5,389.5 141.5,391.2 142.5,390.5 143.5,390.8 144.5,389.6 145.5,389.3 146.5,388.9 147.5,390.3 148.5,389.8 149.5,390.7 150.5,388.3 151.5,389.6 152.5,388.5 153.5,388.8 154.5,389.2 155.5,389.2 156.5,389 157.5,388.6 158.5,389.6 159.5,388.8 160.5,389.6 161.5,389.9 162.5,388.5 163.5,390.3 164.5,389 165.5,389.6 166.5,388.7 167.5,387.9 168.5,389.9 169.5,387.8 170.5,387.6 171.5,388.5 172.5,386.7 173.5,387.3 174.5,385.6 175.5,385.5 176.5,385.1 177.5,385.1 178.5,385.6 179.5,386.1 180.5,385.2 181.5,386.3 182.5,386.3 183.5,387.3 184.5,387.3 185.5,387.1 186.5,388.7 187.5,388.8 188.5,388.1 189.5,387.8 190.5,386.8 191.5,387.4 192.5,388.1 193.5,387.6 194.5,387.7 195.5,387.4 196.5,388.5 197.5,387.6 198.5,387.3 199.5,385.8 200.5,387.3 201.5,387.1 202.5,386.1 203.5,386.8 204.5,385.9 205.5,387.3 206.5,387.7 207.5,387.8 208.5,386.7 209.5,387.6 210.5,387.9 211.5,386.3 212.5,387.5 213.5,388.3 214.5,388.1 215.5,388 216.5,386 217.5,387.3 218.5,387.1 219.5,386.9 220.5,387.8 221.5,387.8 222.5,388.4 223.5,389.3 224.5,388.3 225.5,389.2 226.5,387.9 227.5,387.3 228.5,388.9 229.5,389.2 230.5,388.3 231.5,386.7 232.5,386.9 233.5,387.1 234.5,387.1 235.5,387.3 236.5,386.2 237.5,388.4 238.5,385.8 239.5,387.5 240.5,386.8 241.5,388 242.5,385.8 243.5,387 244.5,386.7 245.5,387.6 246.5,386.6 247.5,388 248.5,388.3 249.5,387.1 250.5,388.5 251.5,386.6 252.5,386.9 253.5,388.1 254.5,387.2 255.5,387.5 256.5,389 257.5,389.6 258.5,388.1 259.5,389.1 260.5,387.6 261.5,387.8 262.5,388.2 263.5,388.6 264.5,387.2 265.5,387.8 266.5,388.4 267.5,387.6 268.5,386.8 269.5,388.2 270.5,388 271.5,387.1 272.5,387.5 273.5,387.7 274.5,388.8 275.5,388.7 276.5,389.2 277.5,389.2 278.5,388.6 279.5,389.5 280.5,389.6 281.5,390.1 282.5,390 283.5,389.6 284.5,390.6 285.5,389.7 286.5,389.9 287.5,389.7 288.5,390.5 289.5,390.2 290.5,391.1 291.5,391.7 292.5,390.6 293.5,389.5 294.5,389 295.5,389 296.5,389.6 297.5,390 298.5,388.5 299.5,389.1 300.5,391 301.5,390.2 302.5,389.4 303.5,391.9 304.5,391.7 305.5,390.8 306.5,391.6 307.5,390.6 308.5,392.8 309.5,392.3 310.5,392.2 311.5,391.4 312.5,392.5 313.5,391.6 314.5,392.3 315.5,392.1 316.5,392.3 317.5,394.6 318.5,392.8 319.5,394.2 320.5,394.2 321.5,394.2 322.5,392.9 323.5,393.9 324.5,392.7 325.5,392.9 326.5,390.8 327.5,392.2 328.5,391.9 329.5,391.8 330.5,391.6 331.5,389.8 332.5,389.9 333.5,388.3 334.5,387.9 335.5,388.1 336.5,387.5 337.5,387.5 338.5,385.6 339.5,385.2 340.5,387 341.5,384.9 342.5,385.8 343.5,385 344.5,385.7 345.5,385.1 346.5,386.5 347.5,385.8 348.5,382.9 349.5,382.3 350.5,378.8 351.5,376.4 352.5,375.3 353.5,373.4 354.5,372.7 355.5,372.7 356.5,372.6 357.5,374.3 358.5,376.8 359.5,378 360.5,382.4 361.5,384.4 362.5,385 363.5,385.9 364.5,386.6 365.5,384.6 366.5,385.7 366.5,356 22.5,356Z"/>
<path fill="#ffffff" d="M22.5,362.6 23.5,361.5 24.5,362.4 25.5,362.3 26.5,362.7 27.5,362.9 28.5,363.6 29.5,363.2 30.5,363.3 31.5,363.4 32.5,363.8 33.5,365.1 34.5,364.4 35.5,364.8 36.5,364.6 37.5,363.9 38.5,363.7 39.5,363.7 40.5,364 41.5,365.2 42.5,364.7 43.5,364.1 44.5,363.6 45.5,363.5 46.5,363.7 47.5,364 48.5,365 49.5,365.3 50.5,364.3 51.5,364.8 52.5,365.6 53.5,365.4 54.5,364.3 55.5,365.3 56.5,364.7 57.5,364.1 58.5,364.5 59.5,363.9 60.5,362.7 61.5,363.5 62.5,363.5 63.5,362.2 64.5,364.6 65.5,362.2 66.5,362.1 67.5,362.7 68.5,363.5 69.5,362.6 70.5,363.8 71.5,362.6 72.5,364.6 73.5,364.6 74.5,365.1 75.5,363 76.5,364.7 77.5,363.4 78.5,363 79.5,363.9 80.5,363.7 81.5,363.7 82.5,363.2 83.5,364.1 84.5,364.6 85.5,364.9 86.5,365.7 87.5,365.7 88.5,364.5 89.5,365.1 90.5,364.1 91.5,365.4 92.5,364.2 93.5,365.5 94.5,364.1 95.5,365.7 96.5,364.4 97.5,364 98.5,364.5 99.5,365.4 100.5,365.1 101.5,363.6 102.5,364.6 103.5,362.7 104.5,364.8 105.5,363.9 106.5,363 107.5,364.7 108.5,364.2 109.5,365.1 110.5,363.2 111.5,363.8 112.5,365.3 113.5,363.5 114.5,364.4 115.5,364.4 116.5,363.5 117.5,363.2 118.5,365.4 119.5,364.8 120.5,365.3 121.5,365 122.5,364.7 123.5,365 124.5,363.2 125.5,363.6 126.5,362.4 127.5,364.3 128.5,362.9 129.5,363.5 130.5,364 131.5,362.4 132.5,363.8 133.5,365 134.5,363.9 135.5,364.5 136.5,363.7 137.5,363 138.5,363.4 139.5,364.6 140.5,365.1 141.5,365.2 142.5,364 143.5,362.8 144.5,363.3 145.5,362.9 146.5,362.3 147.5,363.1 148.5,363.8 149.5,362.8 150.5,362.2 151.5,363.4 152.5,363 153.5,364.5 154.5,364.8 155.5,362.6 156.5,364.1 157.5,364.3 158.5,362.6 159.5,363.2 160.5,364.5 161.5,363.1 162.5,363.1 163.5,362.8 164.5,364.2 165.5,364.2 166.5,364.3 167.5,363 168.5,364.5 169.5,363.2 170.5,364.7 171.5,363.4 172.5,364 173.5,363.7 174.5,362.6 175.5,364 176.5,362.2 177.5,360.8 178.5,362.6 179.5,362.3 180.5,360.4 181.5,360.4 182.5,360.7 183.5,362 184.5,363.5 185.5,363.6 186.5,363.8 187.5,363.7 188.5,362.7 189.5,363.3 190.5,363.9 191.5,363.6 192.5,362.8 193.5,362.1 194.5,361.8 195.5,363.6 196.5,363.8 197.5,362.2 198.5,362.3 199.5,362.5 200.5,363.9 201.5,364.7 202.5,362.8 203.5,362.8 204.5,363.7 205.5,364.8 206.5,363.6 207.5,362.4 208.5,364 209.5,363.3 210.5,364.1 211.5,362.9 212.5,362.6 213.5,362.1 214.5,361.4 215.5,362 216.5,361.8 217.5,363.6 218.5,362.4 219.5,363.4 220.5,362.8 221.5,363.9 222.5,363.7 223.5,362.1 224.5,362.2 225.5,362.5 226.5,363.6 227.5,361.8 228.5,363.3 229.5,362.5 230.5,361.7 231.5,363.1 232.5,362.8 233.5,363.2 234.5,361.9 235.5,363.4 236.5,362.6 237.5,363.6 238.5,362.5 239.5,364.7 240.5,364.5 241.5,362.7 242.5,363.3 243.5,362.4 244.5,364.1 245.5,363.5 246.5,364.8 247.5,363.7 248.5,362.6 249.5,364.2 250.5,362.8 251.5,364.1 252.5,364.4 253.5,363.2 254.5,362.2 255.5,363.3 256.5,361.9 257.5,363.4 258.5,361.5 259.5,362.9 260.5,361.5 261.5,361.7 262.5,363 263.5,361.9 264.5,364.1 265.5,364 266.5,363.1 267.5,363.7 268.5,364.1 269.5,362.8 270.5,362.2 271.5,362 272.5,363.5 273.5,362 274.5,362.5 275.5,363.2 276.5,362.9 277.5,363.4 278.5,362.8 279.5,362.8 280.5,362.9 281.5,363.3 282.5,363.6 283.5,363.8 284.5,364.3 285.5,363.6 286.5,364.5 287.5,363.7 288.5,364.5 289.5,364.3 290.5,364.1 291.5,363.3 292.5,362.6 293.5,364.4 294.5,363.5 295.5,363.7 296.5,364.2 297.5,363.9 298.5,364.3 299.5,363.5 300.5,363.6 301.5,363.8 302.5,363.2 303.5,364.4 304.5,362.6 305.5,364 306.5,364.4 307.5,364.6 308.5,363.1 309.5,363.9 310.5,364.6 311.5,364.8 312.5,363.6 313.5,363.8 314.5,365.1 315.5,362.8 316.5,364.8 317.5,362.6 318.5,364.2 319.5,362.3 320.5,363 321.5,363.3 322.5,362.1 323.5,362 324.5,363.1 325.5,360.9 326.5,362.7 327.5,360.8 328.5,362.6 329.5,360.2 330.5,359.8 331.5,360.3 332.5,361.7 333.5,361.7 334.5,361.5 335.5,361.9 336.5,360.3 337.5,360.2 338.5,361.5 339.5,360.9 340.5,360.4 341.5,360.6 342.5,360.6 343.5,361 344.5,362.1 345.5,361.9 346.5,362.4 347.5,362.1 348.5,360.8 349.5,360.5 350.5,360.6 351.5,362.3 352.5,361 353.5,361.6 354.5,363.1 355.5,361.2 356.5,362.8 357.5,362.2 358.5,361.3 359.5,362.5 360.5,361.2 361.5,362.8 362.5,361.6 363.5,362.8 364.5,362.9 365.5,360.9 366.5,361.2 366.5,356 22.5,356Z"/>
</g>
<rect x="200.3" y="10.4" width="12.5" height="81.5" fill="#6699ff"/>
<rect x="200.3" y="10.4" width="12.5" height="6.3" fill="#006633"/>
<rect x="200.3" y="34.1" width="12.5" height="4.1" fill="#ffcccc"/>
<rect x="200.3" y="42.1" width="12.5" height="3.0" fill="#66ccdd"/>
<rect x="200.3" y="45.1" width="12.5" height="4.4" fill="#ffcccc"/>
<rect x="200.3" y="49.5" width="12.5" height="1.0" fill="#c0c8d8"/>
<rect x="200.3" y="50.5" width="12.5" height="1.8" fill="#ffe0e0"/>
<rect x="200.3" y="55.0" width="12.5" height="2.0" fill="#22aaff"/>
<rect x="200.3" y="62.0" width="12.5" height="2.5" fill="#ffcccc"/>
<rect x="200.3" y="67.0" width="12.5" height="1.5" fill="#22aaff"/>
<rect x="200.3" y="72.0" width="12.5" height="1.0" fill="#d8f0ff"/>
<rect x="200.3" y="73.0" width="12.5" height="3.0" fill="#ffcccc"/>
<rect x="200.3" y="77.0" width="12.5" height="3.0" fill="#33bbff"/>
<rect x="200.3" y="82.0" width="12.5" height="2.0" fill="#c0c8d8"/>
<rect x="200.3" y="86.0" width="12.5" height="1.5" fill="#ffe0e0"/>
<rect x="200.3" y="87.5" width="12.5" height="1.5" fill="#aaddee"/>
<rect x="200.3" y="89.0" width="12.5" height="2.9" fill="#e0c8c8"/>
<rect x="200.3" y="10.4" width="12.5" height="81.5" fill="none" stroke="#222a33" stroke-width="0.9"/>
<rect x="557.6" y="10.3" width="11.1" height="83.1" fill="#6699ff"/>
<rect x="557.6" y="10.3" width="11.1" height="4.5" fill="#006633"/>
<rect x="557.6" y="16.7" width="11.1" height="2.7" fill="#ffcccc"/>
<rect x="557.6" y="19.4" width="11.1" height="1.4" fill="#c0c8d8"/>
<rect x="557.6" y="20.8" width="11.1" height="5.3" fill="#ffcccc"/>
<rect x="557.6" y="26.1" width="11.1" height="2.1" fill="#44aaff"/>
<rect x="557.6" y="28.4" width="11.1" height="1.3" fill="#006633"/>
<rect x="557.6" y="31.1" width="11.1" height="3.6" fill="#ffcccc"/>
<rect x="557.6" y="34.7" width="11.1" height="1.8" fill="#33bbff"/>
<rect x="557.6" y="38.5" width="11.1" height="1.5" fill="#ddeeff"/>
<rect x="557.6" y="40.0" width="11.1" height="1.2" fill="#ffcccc"/>
<rect x="557.6" y="41.2" width="11.1" height="2.6" fill="#4488ff"/>
<rect x="557.6" y="43.8" width="11.1" height="2.9" fill="#c0c8d8"/>
<rect x="557.6" y="46.7" width="11.1" height="2.8" fill="#ffcccc"/>
<rect x="557.6" y="52.4" width="11.1" height="4.3" fill="#ffcccc"/>
<rect x="557.6" y="56.7" width="11.1" height="1.0" fill="#99ddee"/>
<rect x="557.6" y="57.7" width="11.1" height="7.1" fill="#ffcccc"/>
<rect x="557.6" y="66.3" width="11.1" height="2.8" fill="#ffcccc"/>
<rect x="557.6" y="69.1" width="11.1" height="1.5" fill="#44aaff"/>
<rect x="557.6" y="70.6" width="11.1" height="3.8" fill="#ffcccc"/>
<rect x="557.6" y="74.4" width="11.1" height="1.0" fill="#44aaff"/>
<rect x="557.6" y="79.7" width="11.1" height="7.1" fill="#ffcccc"/>
<rect x="557.6" y="88.3" width="11.1" height="5.1" fill="#00ccff"/>
<rect x="557.6" y="10.3" width="11.1" height="83.1" fill="none" stroke="#222a33" stroke-width="0.9"/>
<rect x="187.3" y="136.0" width="10.6" height="61.0" fill="#6699ff"/>
<rect x="187.3" y="136.0" width="10.6" height="2.8" fill="#00ff00"/>
<rect x="187.3" y="138.8" width="10.6" height="4.8" fill="#006633"/>
<rect x="187.3" y="149.0" width="10.6" height="0.8" fill="#ff0000"/>
<rect x="187.3" y="158.3" width="10.6" height="2.1" fill="#ff0000"/>
<rect x="187.3" y="166.8" width="10.6" height="4.2" fill="#ff0000"/>
<rect x="187.3" y="186.0" width="10.6" height="7.0" fill="#ff0000"/>
<rect x="187.3" y="173.0" width="10.6" height="0.6" fill="#66ddff"/>
<rect x="187.3" y="193.2" width="10.6" height="0.6" fill="#ffaaaa"/>
<rect x="187.3" y="194.2" width="10.6" height="0.8" fill="#ff0000"/>
<rect x="187.3" y="136.0" width="10.6" height="61.0" fill="none" stroke="#222a33" stroke-width="0.9"/>
<rect x="558.6" y="136.4" width="11.5" height="56.9" fill="#6699ff"/>
<rect x="558.6" y="136.4" width="11.5" height="7.3" fill="#006633"/>
<rect x="558.6" y="144.0" width="11.5" height="0.7" fill="#66ccdd"/>
<rect x="558.6" y="161.0" width="11.5" height="2.0" fill="#ffcccc"/>
<rect x="558.6" y="163.0" width="11.5" height="2.0" fill="#55aaff"/>
<rect x="558.6" y="165.7" width="11.5" height="1.3" fill="#ff0000"/>
<rect x="558.6" y="167.0" width="11.5" height="2.0" fill="#ffe8e8"/>
<rect x="558.6" y="169.0" width="11.5" height="1.3" fill="#c0c8d8"/>
<rect x="558.6" y="170.3" width="11.5" height="1.4" fill="#ffcccc"/>
<rect x="558.6" y="172.3" width="11.5" height="1.4" fill="#dd2233"/>
<rect x="558.6" y="175.7" width="11.5" height="1.3" fill="#eef4ff"/>
<rect x="558.6" y="181.7" width="11.5" height="0.9" fill="#e03050"/>
<rect x="558.6" y="136.4" width="11.5" height="56.9" fill="none" stroke="#222a33" stroke-width="0.9"/>
<rect x="187.4" y="247.7" width="11.3" height="60.9" fill="#6699ff"/>
<rect x="187.4" y="247.7" width="11.3" height="0.9" fill="#5a9a8a"/>
<rect x="187.4" y="250.0" width="11.3" height="0.8" fill="#ff0000"/>
<rect x="187.4" y="253.2" width="11.3" height="1.4" fill="#c85a9a"/>
<rect x="187.4" y="261.0" width="11.3" height="1.4" fill="#ff0000"/>
<rect x="187.4" y="271.0" width="11.3" height="4.0" fill="#ff0000"/>
<rect x="187.4" y="278.0" width="11.3" height="1.4" fill="#d03050"/>
<rect x="187.4" y="282.3" width="11.3" height="1.3" fill="#33ccff"/>
<rect x="187.4" y="294.7" width="11.3" height="1.7" fill="#ff0000"/>
<rect x="187.4" y="247.7" width="11.3" height="60.9" fill="none" stroke="#222a33" stroke-width="0.9"/>
<rect x="558.1" y="248.0" width="11.2" height="68.0" fill="#6699ff"/>
<rect x="558.1" y="248.0" width="11.2" height="4.7" fill="#006633"/>
<rect x="558.1" y="263.3" width="11.2" height="1.3" fill="#e04060"/>
<rect x="558.1" y="271.4" width="11.2" height="0.6" fill="#33ccff"/>
<rect x="558.1" y="282.0" width="11.2" height="1.0" fill="#e04060"/>
<rect x="558.1" y="288.3" width="11.2" height="1.5" fill="#ff0000"/>
<rect x="558.1" y="293.7" width="11.2" height="0.5" fill="#33ccff"/>
<rect x="558.1" y="297.6" width="11.2" height="0.5" fill="#33ccff"/>
<rect x="558.1" y="303.2" width="11.2" height="0.5" fill="#33ccff"/>
<rect x="558.1" y="248.0" width="11.2" height="68.0" fill="none" stroke="#222a33" stroke-width="0.9"/>
<rect x="187.2" y="356.2" width="11.5" height="58.0" fill="#6699ff"/>
<rect x="187.2" y="356.2" width="11.5" height="1.4" fill="#006633"/>
<rect x="187.2" y="359.2" width="11.5" height="2.5" fill="#ff0000"/>
<rect x="187.2" y="361.7" width="11.5" height="1.5" fill="#006633"/>
<rect x="187.2" y="363.3" width="11.5" height="1.4" fill="#ff0000"/>
<rect x="187.2" y="364.7" width="11.5" height="21.1" fill="#006633"/>
<rect x="187.2" y="389.7" width="11.5" height="1.1" fill="#ff0000"/>
<rect x="187.2" y="393.7" width="11.5" height="3.0" fill="#006633"/>
<rect x="187.2" y="397.0" width="11.5" height="3.8" fill="#ff0000"/>
<rect x="187.2" y="356.2" width="11.5" height="58.0" fill="none" stroke="#222a33" stroke-width="0.9"/>
<path d="M23.5,355.5 H366.4 V362" fill="none" stroke="#c4d0c8" stroke-width="1"/>
<text x="22.2" y="13.3" font-family="Liberation Sans, sans-serif" font-weight="bold" font-size="8.6" text-anchor="end">0</text>
<text x="22.2" y="33.3" font-family="Liberation Sans, sans-serif" font-weight="bold" font-size="8.6" text-anchor="end">1</text>
<text x="22.2" y="53.3" font-family="Liberation Sans, sans-serif" font-weight="bold" font-size="8.6" text-anchor="end">2</text>
<text x="22.2" y="73.3" font-family="Liberation Sans, sans-serif" font-weight="bold" font-size="8.6" text-anchor="end">3</text>
<text x="22.2" y="93.3" font-family="Liberation Sans, sans-serif" font-weight="bold" font-size="8.6" text-anchor="end">4</text>
<text x="22.2" y="113.3" font-family="Liberation Sans, sans-serif" font-weight="bold" font-size="8.6" text-anchor="end">5</text>
<text x="392.4" y="13.3" font-family="Liberation Sans, sans-serif" font-weight="bold" font-size="8.6" text-anchor="end">0</text>
<text x="392.4" y="33.3" font-family="Liberation Sans, sans-serif" font-weight="bold" font-size="8.6" text-anchor="end">1</text>
<text x="392.4" y="53.3" font-family="Liberation Sans, sans-serif" font-weight="bold" font-size="8.6" text-anchor="end">2</text>
<text x="392.4" y="73.3" font-family="Liberation Sans, sans-serif" font-weight="bold" font-size="8.6" text-anchor="end">3</text>
<text x="392.4" y="93.3" font-family="Liberation Sans, sans-serif" font-weight="bold" font-size="8.6" text-anchor="end">4</text>
<text x="392.4" y="113.3" font-family="Liberation Sans, sans-serif" font-weight="bold" font-size="8.6" text-anchor="end">5</text>
<text x="22.2" y="139.3" font-family="Liberation Sans, sans-serif" font-weight="bold" font-size="8.6" text-anchor="end">0</text>
<text x="22.2" y="159.3" font-family="Liberation Sans, sans-serif" font-weight="bold" font-size="8.6" text-anchor="end">1</text>
<text x="22.2" y="179.3" font-family="Liberation Sans, sans-serif" font-weight="bold" font-size="8.6" text-anchor="end">2</text>
<text x="22.2" y="199.3" font-family="Liberation Sans, sans-serif" font-weight="bold" font-size="8.6" text-anchor="end">3</text>
<text x="22.2" y="219.3" font-family="Liberation Sans, sans-serif" font-weight="bold" font-size="8.6" text-anchor="end">4</text>
<text x="22.2" y="239.3" font-family="Liberation Sans, sans-serif" font-weight="bold" font-size="8.6" text-anchor="end">5</text>
<text x="392.4" y="140.3" font-family="Liberation Sans, sans-serif" font-weight="bold" font-size="8.6" text-anchor="end">0</text>
<text x="392.4" y="160.3" font-family="Liberation Sans, sans-serif" font-weight="bold" font-size="8.6" text-anchor="end">1</text>
<text x="392.4" y="180.3" font-family="Liberation Sans, sans-serif" font-weight="bold" font-size="8.6" text-anchor="end">2</text>
<text x="392.4" y="200.3" font-family="Liberation Sans, sans-serif" font-weight="bold" font-size="8.6" text-anchor="end">3</text>
<text x="392.4" y="220.3" font-family="Liberation Sans, sans-serif" font-weight="bold" font-size="8.6" text-anchor="end">4</text>
<text x="392.4" y="240.3" font-family="Liberation Sans, sans-serif" font-weight="bold" font-size="8.6" text-anchor="end">5</text>
<text x="22.2" y="251.3" font-family="Liberation Sans, sans-serif" font-weight="bold" font-size="8.6" text-anchor="end">0</text>
<text x="22.2" y="271.3" font-family="Liberation Sans, sans-serif" font-weight="bold" font-size="8.6" text-anchor="end">1</text>
<text x="22.2" y="291.3" font-family="Liberation Sans, sans-serif" font-weight="bold" font-size="8.6" text-anchor="end">2</text>
<text x="22.2" y="311.3" font-family="Liberation Sans, sans-serif" font-weight="bold" font-size="8.6" text-anchor="end">3</text>
<text x="22.2" y="331.3" font-family="Liberation Sans, sans-serif" font-weight="bold" font-size="8.6" text-anchor="end">4</text>
<text x="22.2" y="351.3" font-family="Liberation Sans, sans-serif" font-weight="bold" font-size="8.6" text-anchor="end">5</text>
<text x="392.4" y="251.3" font-family="Liberation Sans, sans-serif" font-weight="bold" font-size="8.6" text-anchor="end">0</text>
<text x="392.4" y="271.3" font-family="Liberation Sans, sans-serif" font-weight="bold" font-size="8.6" text-anchor="end">1</text>
<text x="392.4" y="291.3" font-family="Liberation Sans, sans-serif" font-weight="bold" font-size="8.6" text-anchor="end">2</text>
<text x="392.4" y="311.3" font-family="Liberation Sans, sans-serif" font-weight="bold" font-size="8.6" text-anchor="end">3</text>
<text x="392.4" y="331.3" font-family="Liberation Sans, sans-serif" font-weight="bold" font-size="8.6" text-anchor="end">4</text>
<text x="392.4" y="351.3" font-family="Liberation Sans, sans-serif" font-weight="bold" font-size="8.6" text-anchor="end">5</text>
<text x="22.2" y="359.3" font-family="Liberation Sans, sans-serif" font-weight="bold" font-size="8.6" text-anchor="end">0</text>
<text x="22.2" y="379.3" font-family="Liberation Sans, sans-serif" font-weight="bold" font-size="8.6" text-anchor="end">1</text>
<text x="22.2" y="399.3" font-family="Liberation Sans, sans-serif" font-weight="bold" font-size="8.6" text-anchor="end">2</text>
<text x="22.2" y="419.3" font-family="Liberation Sans, sans-serif" font-weight="bold" font-size="8.6" text-anchor="end">3</text>
<text x="22.2" y="439.3" font-family="Liberation Sans, sans-serif" font-weight="bold" font-size="8.6" text-anchor="end">4</text>
<text x="22.2" y="459.3" font-family="Liberation Sans, sans-serif" font-weight="bold" font-size="8.6" text-anchor="end">5</text>
<text transform="translate(14.3,60.0) rotate(-90)" font-family="Liberation Sans, sans-serif" font-weight="bold" font-size="8.2" text-anchor="middle">Snow depth [m]</text>
<text transform="translate(14.3,186.0) rotate(-90)" font-family="Liberation Sans, sans-serif" font-weight="bold" font-size="8.2" text-anchor="middle">Snow depth [m]</text>
<text transform="translate(14.3,298.0) rotate(-90)" font-family="Liberation Sans, sans-serif" font-weight="bold" font-size="8.2" text-anchor="middle">Snow depth [m]</text>
<text transform="translate(14.3,406.0) rotate(-90)" font-family="Liberation Sans, sans-serif" font-weight="bold" font-size="8.2" text-anchor="middle">Snow depth [m]</text>
<text x="31.3" y="104.1" font-family="Liberation Sans, sans-serif" font-size="8.45" fill="#3a3a3a">2008</text>
<text x="401.0" y="104.6" font-family="Liberation Sans, sans-serif" font-size="8.45" fill="#3a3a3a">2011</text>
<text x="31.2" y="231.6" font-family="Liberation Sans, sans-serif" font-size="8.45" fill="#3a3a3a">2013</text>
<text x="402.9" y="232.8" font-family="Liberation Sans, sans-serif" font-size="8.45" fill="#3a3a3a">2014</text>
<text x="31.7" y="343.2" font-family="Liberation Sans, sans-serif" font-size="8.45" fill="#3a3a3a">2015</text>
<text x="402.4" y="341.1" font-family="Liberation Sans, sans-serif" font-size="8.45" fill="#3a3a3a">2018</text>
<text x="31.7" y="449.4" font-family="Liberation Sans, sans-serif" font-size="8.45" fill="#3a3a3a">2019</text>
<text x="23.5" y="120.2" font-family="Liberation Sans, sans-serif" font-weight="bold" font-size="8.3" text-anchor="middle">0</text>
<text x="147.7" y="120.2" font-family="Liberation Sans, sans-serif" font-weight="bold" font-size="8.3" text-anchor="middle">2000</text>
<text x="271.9" y="120.2" font-family="Liberation Sans, sans-serif" font-weight="bold" font-size="8.3" text-anchor="middle">4000</text>
<text x="201.5" y="129.8" font-family="Liberation Sans, sans-serif" font-weight="bold" font-size="8.2" text-anchor="middle">Distance [m]</text>
<text x="394.0" y="358.4" font-family="Liberation Sans, sans-serif" font-weight="bold" font-size="8.3" text-anchor="middle">0</text>
<text x="465.2" y="358.4" font-family="Liberation Sans, sans-serif" font-weight="bold" font-size="8.3" text-anchor="middle">1000</text>
<text x="536.5" y="358.4" font-family="Liberation Sans, sans-serif" font-weight="bold" font-size="8.3" text-anchor="middle">2000</text>
<text x="607.8" y="358.4" font-family="Liberation Sans, sans-serif" font-weight="bold" font-size="8.3" text-anchor="middle">3000</text>
<text x="679.0" y="358.4" font-family="Liberation Sans, sans-serif" font-weight="bold" font-size="8.3" text-anchor="middle">4000</text>
<text x="750.2" y="358.4" font-family="Liberation Sans, sans-serif" font-weight="bold" font-size="8.3" text-anchor="middle">5000</text>
<text x="571.9" y="365.9" font-family="Liberation Sans, sans-serif" font-weight="bold" font-size="8.2" text-anchor="middle">Distance [m]</text>
<text x="22.9" y="466.4" font-family="Liberation Sans, sans-serif" font-weight="bold" font-size="8.3" text-anchor="middle">0</text>
<text x="94.3" y="466.4" font-family="Liberation Sans, sans-serif" font-weight="bold" font-size="8.3" text-anchor="middle">1000</text>
<text x="165.7" y="466.4" font-family="Liberation Sans, sans-serif" font-weight="bold" font-size="8.3" text-anchor="middle">2000</text>
<text x="237.1" y="466.4" font-family="Liberation Sans, sans-serif" font-weight="bold" font-size="8.3" text-anchor="middle">3000</text>
<text x="308.5" y="466.4" font-family="Liberation Sans, sans-serif" font-weight="bold" font-size="8.3" text-anchor="middle">4000</text>
<text x="379.9" y="466.4" font-family="Liberation Sans, sans-serif" font-weight="bold" font-size="8.3" text-anchor="middle">5000</text>
<text x="201.3" y="475" font-family="Liberation Sans, sans-serif" font-weight="bold" font-size="8.2" text-anchor="middle">Distance [m]</text>
<text x="24.3" y="130.2" font-family="Liberation Sans, sans-serif" font-size="9.6" text-anchor="middle">S</text>
<text x="376.0" y="130.2" font-family="Liberation Sans, sans-serif" font-size="9.6" text-anchor="middle">N</text>
<text x="394.5" y="130.2" font-family="Liberation Sans, sans-serif" font-size="9.6" text-anchor="middle">S</text>
<text x="746.5" y="130.2" font-family="Liberation Sans, sans-serif" font-size="9.6" text-anchor="middle">N</text>
<rect x="448.9" y="385.9" width="24.9" height="7.6" fill="#00ff00"/>
<text x="478.4" y="392.6" font-family="Liberation Sans, sans-serif" font-weight="bold" font-size="8.2">Precipitation Particles (PP)</text>
<rect x="448.9" y="400.1" width="24.9" height="7.6" fill="#006633"/>
<text x="478.4" y="406.8" font-family="Liberation Sans, sans-serif" font-weight="bold" font-size="8.2">Decomposing and Fragmented precipitation particles (DF)</text>
<rect x="448.9" y="414.2" width="24.9" height="7.6" fill="#ffcccc"/>
<text x="478.4" y="420.9" font-family="Liberation Sans, sans-serif" font-weight="bold" font-size="8.2">Rounded Grains (RG)</text>
<rect x="448.9" y="428.4" width="24.9" height="7.6" fill="#6699ff"/>
<text x="478.4" y="435.1" font-family="Liberation Sans, sans-serif" font-weight="bold" font-size="8.2">Faceted Crystals (FC)</text>
<rect x="448.9" y="442.5" width="24.9" height="7.6" fill="#ff0000"/>
<text x="478.4" y="449.2" font-family="Liberation Sans, sans-serif" font-weight="bold" font-size="8.2">Melt Forms (MF)</text>
<rect x="448.9" y="456.7" width="24.9" height="7.6" fill="#00ccff"/>
<text x="478.4" y="463.4" font-family="Liberation Sans, sans-serif" font-weight="bold" font-size="8.2">Ice Formations (IF)</text>
</svg>
</body></html>
